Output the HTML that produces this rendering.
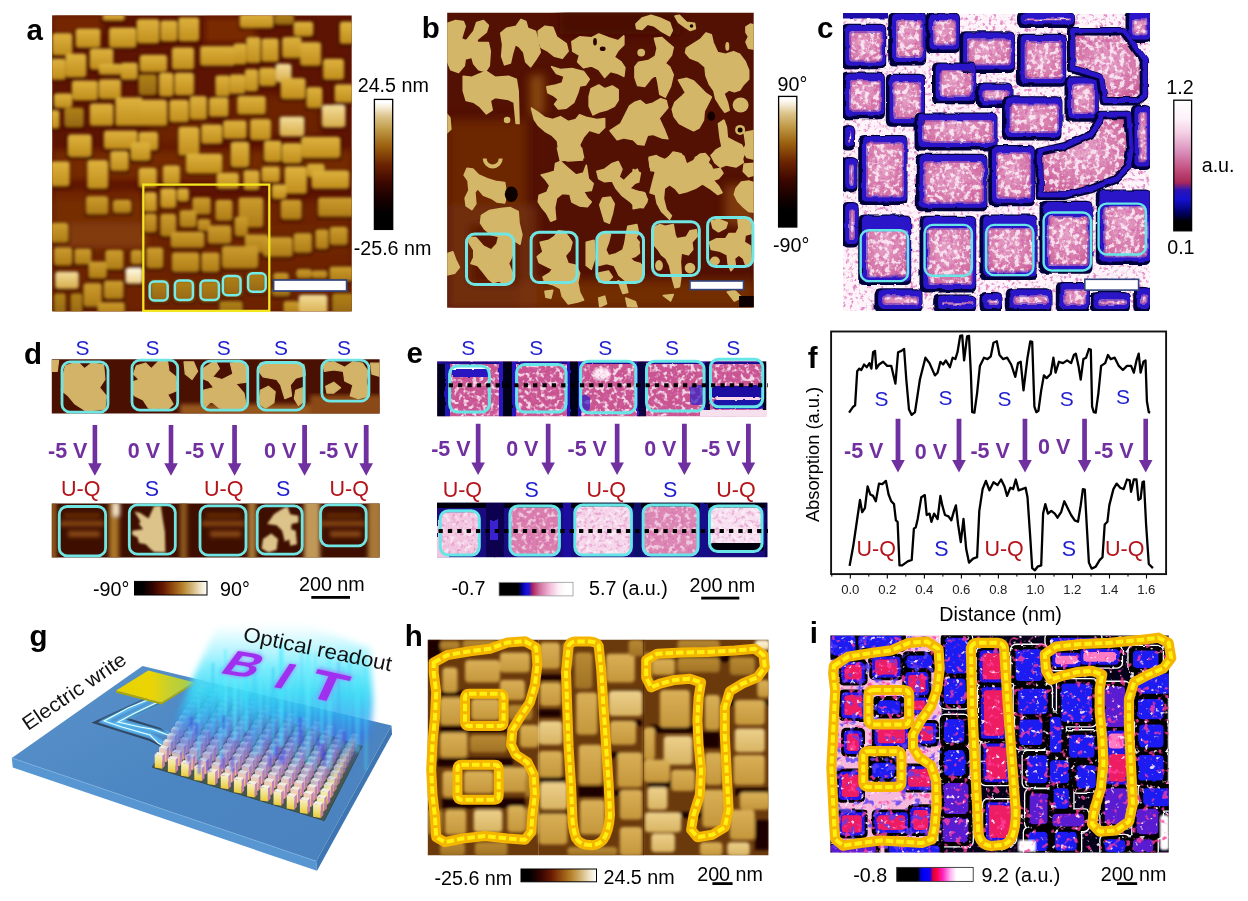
<!DOCTYPE html>
<html><head><meta charset="utf-8"><title>Figure</title>
<style>
html,body{margin:0;padding:0;background:#fff;}
body{width:1248px;height:901px;overflow:hidden;font-family:"Liberation Sans",sans-serif;}
svg{display:block;position:absolute;left:0;top:0;}
text{font-family:"Liberation Sans",sans-serif;}
</style></head><body>
<svg width="1248" height="901" viewBox="0 0 1248 901">
<!-- defs -->
<defs>
<linearGradient id="cbAfmV" x1="0" y1="1" x2="0" y2="0">
<stop offset="0" stop-color="#000"/><stop offset="0.12" stop-color="#000"/><stop offset="0.22" stop-color="#140100"/>
<stop offset="0.36" stop-color="#3c0700"/><stop offset="0.5" stop-color="#6c2402"/>
<stop offset="0.64" stop-color="#9a600e"/><stop offset="0.77" stop-color="#c09a48"/>
<stop offset="0.87" stop-color="#dcc48c"/><stop offset="0.94" stop-color="#f6eeda"/><stop offset="0.98" stop-color="#fff"/><stop offset="1" stop-color="#fff"/>
</linearGradient>
<linearGradient id="cbAfmH" x1="0" y1="0" x2="1" y2="0">
<stop offset="0" stop-color="#000"/><stop offset="0.11" stop-color="#000"/>
<stop offset="0.26" stop-color="#340400"/><stop offset="0.40" stop-color="#681a02"/>
<stop offset="0.54" stop-color="#955010"/><stop offset="0.67" stop-color="#b6842e"/>
<stop offset="0.80" stop-color="#d4b87c"/><stop offset="0.91" stop-color="#f0e4c8"/><stop offset="1" stop-color="#fff"/>
</linearGradient>
<linearGradient id="cbPinkV" x1="0" y1="1" x2="0" y2="0">
<stop offset="0" stop-color="#000"/><stop offset="0.07" stop-color="#000"/>
<stop offset="0.13" stop-color="#00005a"/><stop offset="0.24" stop-color="#1410d0"/>
<stop offset="0.31" stop-color="#2a14b8"/><stop offset="0.37" stop-color="#a8285a"/>
<stop offset="0.46" stop-color="#c04a7a"/><stop offset="0.60" stop-color="#d88cba"/>
<stop offset="0.75" stop-color="#f4cfe4"/><stop offset="0.86" stop-color="#fdf2f9"/><stop offset="1" stop-color="#fff"/>
</linearGradient>
<linearGradient id="cbPinkH" x1="0" y1="0" x2="1" y2="0">
<stop offset="0" stop-color="#000"/><stop offset="0.26" stop-color="#000"/>
<stop offset="0.31" stop-color="#000090"/><stop offset="0.37" stop-color="#1410e0"/>
<stop offset="0.41" stop-color="#3014c0"/><stop offset="0.46" stop-color="#b02860"/>
<stop offset="0.55" stop-color="#d070a0"/><stop offset="0.68" stop-color="#f0b8d8"/>
<stop offset="0.80" stop-color="#fdeef6"/><stop offset="0.9" stop-color="#fff"/><stop offset="1" stop-color="#fff"/>
</linearGradient>
<linearGradient id="cbHotH" x1="0" y1="0" x2="1" y2="0">
<stop offset="0" stop-color="#000"/><stop offset="0.28" stop-color="#000"/>
<stop offset="0.31" stop-color="#0000c0"/><stop offset="0.36" stop-color="#0000ff"/><stop offset="0.44" stop-color="#1a00f0"/>
<stop offset="0.47" stop-color="#d00040"/><stop offset="0.52" stop-color="#ff0040"/>
<stop offset="0.60" stop-color="#ff20c0"/><stop offset="0.70" stop-color="#ffb0f0"/>
<stop offset="0.78" stop-color="#fff"/><stop offset="1" stop-color="#fff"/>
</linearGradient>
<filter id="b05" x="-5%" y="-5%" width="110%" height="110%"><feGaussianBlur stdDeviation="0.5"/></filter>
<filter id="b1" x="-5%" y="-5%" width="110%" height="110%"><feGaussianBlur stdDeviation="1"/></filter>
<filter id="b12" x="-5%" y="-5%" width="110%" height="110%"><feGaussianBlur stdDeviation="1.2"/></filter>
<filter id="b15" x="-5%" y="-5%" width="110%" height="110%"><feGaussianBlur stdDeviation="1.5"/></filter>
<filter id="b2" x="-5%" y="-5%" width="110%" height="110%"><feGaussianBlur stdDeviation="2"/></filter>
<filter id="b3" x="-10%" y="-10%" width="120%" height="120%"><feGaussianBlur stdDeviation="3"/></filter>
<filter id="b5" x="-20%" y="-20%" width="140%" height="140%"><feGaussianBlur stdDeviation="5"/></filter>
<filter id="b8" x="-30%" y="-30%" width="160%" height="160%"><feGaussianBlur stdDeviation="8"/></filter>
<filter id="wob" x="-5%" y="-5%" width="110%" height="110%"><feTurbulence type="fractalNoise" baseFrequency="0.09" numOctaves="2" seed="2" result="t"/><feDisplacementMap in="SourceGraphic" in2="t" scale="3.2" xChannelSelector="R" yChannelSelector="G"/><feGaussianBlur stdDeviation="0.45"/></filter>
<filter id="wob2" x="-5%" y="-5%" width="110%" height="110%"><feTurbulence type="fractalNoise" baseFrequency="0.12" numOctaves="2" seed="8" result="t"/><feDisplacementMap in="SourceGraphic" in2="t" scale="2.4" xChannelSelector="R" yChannelSelector="G"/><feGaussianBlur stdDeviation="0.4"/></filter>
</defs>
<!-- pa -->
<defs><clipPath id="clipA"><rect x="52.2" y="15.6" width="299.5" height="295.6"/></clipPath>
<linearGradient id="sqAn" x1="0" y1="0" x2="0" y2="1"><stop offset="0" stop-color="#deb23e"/><stop offset="1" stop-color="#c08e1c"/></linearGradient>
<linearGradient id="sqAb" x1="0" y1="0" x2="0" y2="1"><stop offset="0" stop-color="#f2dc9a"/><stop offset="1" stop-color="#d8ae4c"/></linearGradient>
<linearGradient id="sqAd" x1="0" y1="0" x2="0" y2="1"><stop offset="0" stop-color="#b08218"/><stop offset="1" stop-color="#966710"/></linearGradient>
<linearGradient id="sqAw" x1="0" y1="0" x2="0" y2="1"><stop offset="0" stop-color="#fffbe8"/><stop offset="1" stop-color="#ecd08a"/></linearGradient>
<linearGradient id="sqAm" x1="0" y1="0" x2="0" y2="1"><stop offset="0" stop-color="#cc9c2e"/><stop offset="1" stop-color="#ae7c16"/></linearGradient>
</defs>
<g clip-path="url(#clipA)">
<rect x="50.2" y="13.6" width="303.5" height="299.6" fill="#5e1402"/>
<g filter="url(#b3)">
<rect x="52" y="222" width="95" height="26" fill="#8a460c"/>
<rect x="52" y="150" width="300" height="30" fill="#7a3006" opacity="0.8"/>
<rect x="205" y="18" width="50" height="24" fill="#7a2c04"/>
<rect x="52" y="15" width="50" height="20" fill="#742804"/>
<rect x="230" y="95" width="90" height="40" fill="#702604" opacity="0.8"/>
<rect x="150" y="105" width="60" height="40" fill="#702604" opacity="0.8"/>
<rect x="52" y="190" width="90" height="30" fill="#742a05" opacity="0.9"/>
<rect x="52" y="200" width="300" height="112" fill="#7a3208" opacity="0.55"/>
<rect x="270" y="225" width="80" height="30" fill="#702604" opacity="0.8"/>
</g>
<g filter="url(#b15)">
<rect x="50.8" y="32.3" width="22.7" height="25.3" rx="3" fill="#2a0300" opacity="0.6"/>
<rect x="74.4" y="27.7" width="27.4" height="22.2" rx="3" fill="#2a0300" opacity="0.6"/>
<rect x="107.7" y="26.7" width="29.9" height="23.2" rx="3" fill="#2a0300" opacity="0.6"/>
<rect x="135.4" y="18.2" width="25.3" height="27.3" rx="3" fill="#2a0300" opacity="0.6"/>
<rect x="159.0" y="19.5" width="19.7" height="24.0" rx="3" fill="#2a0300" opacity="0.6"/>
<rect x="177.0" y="16.4" width="23.5" height="27.1" rx="3" fill="#2a0300" opacity="0.6"/>
<rect x="101.3" y="13.1" width="24.8" height="9.9" rx="3" fill="#2a0300" opacity="0.6"/>
<rect x="238.5" y="13.1" width="36.3" height="17.1" rx="3" fill="#2a0300" opacity="0.6"/>
<rect x="273.1" y="13.1" width="22.2" height="13.8" rx="3" fill="#2a0300" opacity="0.6"/>
<rect x="292.3" y="20.8" width="22.2" height="17.6" rx="3" fill="#2a0300" opacity="0.6"/>
<rect x="338.5" y="20.8" width="17.1" height="25.3" rx="3" fill="#2a0300" opacity="0.6"/>
<rect x="64.1" y="52.8" width="23.5" height="26.6" rx="3" fill="#2a0300" opacity="0.6"/>
<rect x="88.5" y="47.7" width="26.1" height="24.0" rx="3" fill="#2a0300" opacity="0.6"/>
<rect x="97.5" y="63.1" width="26.1" height="13.8" rx="3" fill="#2a0300" opacity="0.6"/>
<rect x="119.3" y="61.8" width="19.7" height="20.2" rx="3" fill="#2a0300" opacity="0.6"/>
<rect x="138.5" y="54.1" width="29.9" height="20.2" rx="3" fill="#2a0300" opacity="0.6"/>
<rect x="170.6" y="46.4" width="24.8" height="25.3" rx="3" fill="#2a0300" opacity="0.6"/>
<rect x="198.8" y="45.2" width="37.6" height="22.7" rx="3" fill="#2a0300" opacity="0.6"/>
<rect x="232.1" y="42.6" width="15.8" height="24.0" rx="3" fill="#2a0300" opacity="0.6"/>
<rect x="244.9" y="36.2" width="17.1" height="29.1" rx="3" fill="#2a0300" opacity="0.6"/>
<rect x="260.3" y="37.5" width="19.7" height="26.6" rx="3" fill="#2a0300" opacity="0.6"/>
<rect x="280.8" y="36.2" width="22.2" height="24.0" rx="3" fill="#2a0300" opacity="0.6"/>
<rect x="298.8" y="41.3" width="23.5" height="26.6" rx="3" fill="#2a0300" opacity="0.6"/>
<rect x="321.8" y="58.0" width="23.5" height="24.0" rx="3" fill="#2a0300" opacity="0.6"/>
<rect x="48.8" y="58.0" width="18.4" height="24.0" rx="3" fill="#2a0300" opacity="0.6"/>
<rect x="70.6" y="79.8" width="28.6" height="22.7" rx="3" fill="#2a0300" opacity="0.6"/>
<rect x="97.5" y="78.5" width="24.8" height="22.7" rx="3" fill="#2a0300" opacity="0.6"/>
<rect x="137.2" y="73.4" width="20.9" height="24.0" rx="3" fill="#2a0300" opacity="0.6"/>
<rect x="157.7" y="72.1" width="17.1" height="26.6" rx="3" fill="#2a0300" opacity="0.6"/>
<rect x="173.1" y="72.1" width="22.2" height="25.3" rx="3" fill="#2a0300" opacity="0.6"/>
<rect x="214.1" y="74.6" width="17.1" height="24.0" rx="3" fill="#2a0300" opacity="0.6"/>
<rect x="228.2" y="73.4" width="18.4" height="22.7" rx="3" fill="#2a0300" opacity="0.6"/>
<rect x="243.6" y="68.2" width="15.8" height="25.3" rx="3" fill="#2a0300" opacity="0.6"/>
<rect x="257.7" y="66.9" width="19.7" height="21.4" rx="3" fill="#2a0300" opacity="0.6"/>
<rect x="274.4" y="63.1" width="18.4" height="21.4" rx="3" fill="#2a0300" opacity="0.6"/>
<rect x="279.5" y="77.2" width="27.4" height="24.0" rx="3" fill="#2a0300" opacity="0.6"/>
<rect x="305.2" y="86.2" width="18.4" height="24.0" rx="3" fill="#2a0300" opacity="0.6"/>
<rect x="333.4" y="83.6" width="22.2" height="21.4" rx="3" fill="#2a0300" opacity="0.6"/>
<rect x="52.6" y="92.6" width="20.9" height="17.6" rx="3" fill="#2a0300" opacity="0.6"/>
<rect x="62.9" y="106.7" width="22.2" height="22.7" rx="3" fill="#2a0300" opacity="0.6"/>
<rect x="88.5" y="102.8" width="26.1" height="25.3" rx="3" fill="#2a0300" opacity="0.6"/>
<rect x="114.1" y="96.4" width="29.9" height="31.7" rx="3" fill="#2a0300" opacity="0.6"/>
<rect x="138.5" y="99.0" width="29.9" height="29.1" rx="3" fill="#2a0300" opacity="0.6"/>
<rect x="168.0" y="99.0" width="22.2" height="25.3" rx="3" fill="#2a0300" opacity="0.6"/>
<rect x="188.5" y="95.2" width="19.7" height="26.6" rx="3" fill="#2a0300" opacity="0.6"/>
<rect x="207.7" y="96.4" width="22.2" height="22.7" rx="3" fill="#2a0300" opacity="0.6"/>
<rect x="235.9" y="95.2" width="31.2" height="21.4" rx="3" fill="#2a0300" opacity="0.6"/>
<rect x="320.6" y="104.1" width="26.1" height="25.3" rx="3" fill="#2a0300" opacity="0.6"/>
<rect x="278.2" y="115.7" width="27.4" height="22.7" rx="3" fill="#2a0300" opacity="0.6"/>
<rect x="48.8" y="109.3" width="12.0" height="21.4" rx="3" fill="#2a0300" opacity="0.6"/>
<rect x="66.7" y="134.9" width="26.1" height="24.0" rx="3" fill="#2a0300" opacity="0.6"/>
<rect x="102.6" y="129.8" width="36.3" height="21.4" rx="3" fill="#2a0300" opacity="0.6"/>
<rect x="137.2" y="131.1" width="22.2" height="21.4" rx="3" fill="#2a0300" opacity="0.6"/>
<rect x="129.5" y="142.6" width="22.2" height="20.2" rx="3" fill="#2a0300" opacity="0.6"/>
<rect x="177.0" y="125.9" width="23.5" height="31.7" rx="3" fill="#2a0300" opacity="0.6"/>
<rect x="200.0" y="123.4" width="23.5" height="22.7" rx="3" fill="#2a0300" opacity="0.6"/>
<rect x="221.8" y="119.5" width="26.1" height="21.4" rx="3" fill="#2a0300" opacity="0.6"/>
<rect x="248.8" y="118.2" width="23.5" height="24.0" rx="3" fill="#2a0300" opacity="0.6"/>
<rect x="300.0" y="136.2" width="41.5" height="22.7" rx="3" fill="#2a0300" opacity="0.6"/>
<rect x="262.9" y="140.0" width="19.7" height="24.0" rx="3" fill="#2a0300" opacity="0.6"/>
<rect x="280.8" y="142.6" width="22.2" height="22.7" rx="3" fill="#2a0300" opacity="0.6"/>
<rect x="229.5" y="141.3" width="20.9" height="27.9" rx="3" fill="#2a0300" opacity="0.6"/>
<rect x="66.7" y="133.6" width="26.1" height="25.3" rx="3" fill="#2a0300" opacity="0.6"/>
<rect x="109.0" y="150.3" width="20.9" height="22.7" rx="3" fill="#2a0300" opacity="0.6"/>
<rect x="129.5" y="141.3" width="22.2" height="21.4" rx="3" fill="#2a0300" opacity="0.6"/>
<rect x="184.7" y="152.8" width="38.9" height="22.7" rx="3" fill="#2a0300" opacity="0.6"/>
<rect x="229.5" y="141.3" width="20.9" height="27.9" rx="3" fill="#2a0300" opacity="0.6"/>
<rect x="262.9" y="140.0" width="19.7" height="24.0" rx="3" fill="#2a0300" opacity="0.6"/>
<rect x="280.8" y="142.6" width="22.2" height="22.7" rx="3" fill="#2a0300" opacity="0.6"/>
<rect x="300.0" y="136.2" width="41.5" height="24.0" rx="3" fill="#2a0300" opacity="0.6"/>
<rect x="48.8" y="160.5" width="22.2" height="27.9" rx="3" fill="#2a0300" opacity="0.6"/>
<rect x="85.9" y="159.3" width="23.5" height="31.7" rx="3" fill="#2a0300" opacity="0.6"/>
<rect x="137.2" y="166.9" width="20.9" height="22.7" rx="3" fill="#2a0300" opacity="0.6"/>
<rect x="161.6" y="164.4" width="19.7" height="22.7" rx="3" fill="#2a0300" opacity="0.6"/>
<rect x="215.4" y="172.1" width="24.8" height="18.9" rx="3" fill="#2a0300" opacity="0.6"/>
<rect x="242.3" y="169.5" width="18.4" height="22.7" rx="3" fill="#2a0300" opacity="0.6"/>
<rect x="260.3" y="165.7" width="20.9" height="18.9" rx="3" fill="#2a0300" opacity="0.6"/>
<rect x="283.4" y="165.7" width="24.8" height="30.4" rx="3" fill="#2a0300" opacity="0.6"/>
<rect x="305.2" y="163.1" width="20.9" height="16.3" rx="3" fill="#2a0300" opacity="0.6"/>
<rect x="310.3" y="169.5" width="40.2" height="21.4" rx="3" fill="#2a0300" opacity="0.6"/>
<rect x="270.6" y="183.6" width="17.1" height="17.6" rx="3" fill="#2a0300" opacity="0.6"/>
<rect x="84.7" y="195.2" width="24.8" height="21.4" rx="3" fill="#2a0300" opacity="0.6"/>
<rect x="111.6" y="199.0" width="20.9" height="16.3" rx="3" fill="#2a0300" opacity="0.6"/>
<rect x="142.3" y="191.3" width="15.8" height="22.7" rx="3" fill="#2a0300" opacity="0.6"/>
<rect x="159.0" y="187.5" width="18.4" height="22.7" rx="3" fill="#2a0300" opacity="0.6"/>
<rect x="175.7" y="187.5" width="14.5" height="16.3" rx="3" fill="#2a0300" opacity="0.6"/>
<rect x="191.1" y="196.4" width="20.9" height="20.2" rx="3" fill="#2a0300" opacity="0.6"/>
<rect x="214.1" y="199.0" width="19.7" height="24.0" rx="3" fill="#2a0300" opacity="0.6"/>
<rect x="237.2" y="196.4" width="27.4" height="33.0" rx="3" fill="#2a0300" opacity="0.6"/>
<rect x="279.5" y="199.0" width="23.5" height="22.7" rx="3" fill="#2a0300" opacity="0.6"/>
<rect x="316.7" y="196.4" width="38.9" height="22.7" rx="3" fill="#2a0300" opacity="0.6"/>
<rect x="178.2" y="209.3" width="19.7" height="20.2" rx="3" fill="#2a0300" opacity="0.6"/>
<rect x="159.0" y="213.1" width="18.4" height="25.3" rx="3" fill="#2a0300" opacity="0.6"/>
<rect x="142.3" y="213.1" width="15.8" height="21.4" rx="3" fill="#2a0300" opacity="0.6"/>
<rect x="196.2" y="218.2" width="15.8" height="15.0" rx="3" fill="#2a0300" opacity="0.6"/>
<rect x="233.4" y="215.7" width="15.8" height="22.7" rx="3" fill="#2a0300" opacity="0.6"/>
<rect x="48.8" y="222.1" width="20.9" height="22.7" rx="3" fill="#2a0300" opacity="0.6"/>
<rect x="169.3" y="231.1" width="36.3" height="18.9" rx="3" fill="#2a0300" opacity="0.6"/>
<rect x="206.4" y="224.6" width="26.1" height="21.4" rx="3" fill="#2a0300" opacity="0.6"/>
<rect x="243.6" y="233.6" width="26.1" height="21.4" rx="3" fill="#2a0300" opacity="0.6"/>
<rect x="261.6" y="236.2" width="32.5" height="22.7" rx="3" fill="#2a0300" opacity="0.6"/>
<rect x="292.3" y="232.3" width="20.9" height="22.7" rx="3" fill="#2a0300" opacity="0.6"/>
<rect x="314.1" y="228.5" width="15.8" height="22.7" rx="3" fill="#2a0300" opacity="0.6"/>
<rect x="328.2" y="225.9" width="20.9" height="21.4" rx="3" fill="#2a0300" opacity="0.6"/>
<rect x="52.6" y="246.4" width="20.9" height="21.4" rx="3" fill="#2a0300" opacity="0.6"/>
<rect x="73.1" y="247.7" width="19.7" height="18.9" rx="3" fill="#2a0300" opacity="0.6"/>
<rect x="103.9" y="249.0" width="20.9" height="22.7" rx="3" fill="#2a0300" opacity="0.6"/>
<rect x="129.5" y="249.0" width="14.5" height="17.6" rx="3" fill="#2a0300" opacity="0.6"/>
<rect x="144.9" y="246.4" width="19.7" height="24.0" rx="3" fill="#2a0300" opacity="0.6"/>
<rect x="170.6" y="251.6" width="29.9" height="22.7" rx="3" fill="#2a0300" opacity="0.6"/>
<rect x="200.0" y="251.6" width="20.9" height="22.7" rx="3" fill="#2a0300" opacity="0.6"/>
<rect x="220.6" y="245.2" width="38.9" height="25.3" rx="3" fill="#2a0300" opacity="0.6"/>
<rect x="53.9" y="270.8" width="26.1" height="20.2" rx="3" fill="#2a0300" opacity="0.6"/>
<rect x="87.2" y="260.5" width="20.9" height="20.2" rx="3" fill="#2a0300" opacity="0.6"/>
<rect x="124.4" y="266.9" width="19.7" height="18.9" rx="3" fill="#2a0300" opacity="0.6"/>
<rect x="82.1" y="282.3" width="20.9" height="26.6" rx="3" fill="#2a0300" opacity="0.6"/>
<rect x="102.6" y="279.8" width="22.2" height="21.4" rx="3" fill="#2a0300" opacity="0.6"/>
<rect x="271.8" y="272.1" width="18.4" height="11.2" rx="3" fill="#2a0300" opacity="0.6"/>
<rect x="294.9" y="268.2" width="18.4" height="12.5" rx="3" fill="#2a0300" opacity="0.6"/>
<rect x="310.3" y="269.5" width="18.4" height="11.2" rx="3" fill="#2a0300" opacity="0.6"/>
<rect x="328.2" y="265.7" width="27.4" height="17.6" rx="3" fill="#2a0300" opacity="0.6"/>
<rect x="297.5" y="293.9" width="31.2" height="22.7" rx="3" fill="#2a0300" opacity="0.6"/>
<rect x="282.1" y="300.3" width="18.4" height="16.3" rx="3" fill="#2a0300" opacity="0.6"/>
<rect x="270.6" y="287.5" width="20.9" height="11.2" rx="3" fill="#2a0300" opacity="0.6"/>
<rect x="96.2" y="301.6" width="29.9" height="15.0" rx="3" fill="#2a0300" opacity="0.6"/>
<rect x="52.6" y="292.6" width="14.5" height="24.0" rx="3" fill="#2a0300" opacity="0.6"/>
<rect x="148.8" y="279.8" width="20.9" height="24.0" rx="3" fill="#2a0300" opacity="0.6"/>
<rect x="173.1" y="279.8" width="22.2" height="24.0" rx="3" fill="#2a0300" opacity="0.6"/>
<rect x="198.8" y="279.8" width="22.2" height="24.0" rx="3" fill="#2a0300" opacity="0.6"/>
<rect x="221.8" y="274.6" width="20.9" height="24.0" rx="3" fill="#2a0300" opacity="0.6"/>
<rect x="246.2" y="272.1" width="20.9" height="22.7" rx="3" fill="#2a0300" opacity="0.6"/>
<rect x="218.0" y="300.3" width="26.1" height="16.3" rx="3" fill="#2a0300" opacity="0.6"/>
<rect x="330.8" y="292.6" width="24.8" height="24.0" rx="3" fill="#2a0300" opacity="0.6"/>
<rect x="69.3" y="292.6" width="14.5" height="24.0" rx="3" fill="#2a0300" opacity="0.6"/>
<rect x="52.3" y="33.3" width="19.7" height="21.8" rx="3.2" fill="url(#sqAn)"/>
<rect x="75.9" y="28.7" width="24.4" height="18.7" rx="3.2" fill="url(#sqAn)"/>
<rect x="109.2" y="27.7" width="26.9" height="19.7" rx="3.2" fill="url(#sqAn)"/>
<rect x="136.9" y="19.2" width="22.3" height="23.8" rx="3.2" fill="url(#sqAn)"/>
<rect x="160.5" y="20.5" width="16.7" height="20.5" rx="3.2" fill="url(#sqAn)"/>
<rect x="178.5" y="17.4" width="20.5" height="23.6" rx="3.2" fill="url(#sqAn)"/>
<rect x="102.8" y="14.1" width="21.8" height="6.4" rx="3.2" fill="url(#sqAn)"/>
<rect x="240.0" y="14.1" width="33.3" height="13.6" rx="3.2" fill="url(#sqAn)"/>
<rect x="274.6" y="14.1" width="19.2" height="10.3" rx="3.2" fill="url(#sqAd)"/>
<rect x="293.8" y="21.8" width="19.2" height="14.1" rx="3.2" fill="url(#sqAn)"/>
<rect x="340.0" y="21.8" width="14.1" height="21.8" rx="3.2" fill="url(#sqAn)"/>
<rect x="65.6" y="53.8" width="20.5" height="23.1" rx="3.2" fill="url(#sqAn)"/>
<rect x="90.0" y="48.7" width="23.1" height="20.5" rx="3.2" fill="url(#sqAn)"/>
<rect x="99.0" y="64.1" width="23.1" height="10.3" rx="3.2" fill="url(#sqAn)"/>
<rect x="120.8" y="62.8" width="16.7" height="16.7" rx="3.2" fill="url(#sqAn)"/>
<rect x="140.0" y="55.1" width="26.9" height="16.7" rx="3.2" fill="url(#sqAn)"/>
<rect x="172.1" y="47.4" width="21.8" height="21.8" rx="3.2" fill="url(#sqAn)"/>
<rect x="200.3" y="46.2" width="34.6" height="19.2" rx="3.2" fill="url(#sqAn)"/>
<rect x="233.6" y="43.6" width="12.8" height="20.5" rx="3.2" fill="url(#sqAn)"/>
<rect x="246.4" y="37.2" width="14.1" height="25.6" rx="3.2" fill="url(#sqAn)"/>
<rect x="261.8" y="38.5" width="16.7" height="23.1" rx="3.2" fill="url(#sqAn)"/>
<rect x="282.3" y="37.2" width="19.2" height="20.5" rx="3.2" fill="url(#sqAn)"/>
<rect x="300.3" y="42.3" width="20.5" height="23.1" rx="3.2" fill="url(#sqAn)"/>
<rect x="323.3" y="59.0" width="20.5" height="20.5" rx="3.2" fill="url(#sqAn)"/>
<rect x="50.3" y="59.0" width="15.4" height="20.5" rx="3.2" fill="url(#sqAn)"/>
<rect x="72.1" y="80.8" width="25.6" height="19.2" rx="3.2" fill="url(#sqAn)"/>
<rect x="99.0" y="79.5" width="21.8" height="19.2" rx="3.2" fill="url(#sqAn)"/>
<rect x="138.7" y="74.4" width="17.9" height="20.5" rx="3.2" fill="url(#sqAd)"/>
<rect x="159.2" y="73.1" width="14.1" height="23.1" rx="3.2" fill="url(#sqAn)"/>
<rect x="174.6" y="73.1" width="19.2" height="21.8" rx="3.2" fill="url(#sqAn)"/>
<rect x="215.6" y="75.6" width="14.1" height="20.5" rx="3.2" fill="url(#sqAn)"/>
<rect x="229.7" y="74.4" width="15.4" height="19.2" rx="3.2" fill="url(#sqAn)"/>
<rect x="245.1" y="69.2" width="12.8" height="21.8" rx="3.2" fill="url(#sqAn)"/>
<rect x="259.2" y="67.9" width="16.7" height="17.9" rx="3.2" fill="url(#sqAn)"/>
<rect x="275.9" y="64.1" width="15.4" height="17.9" rx="3.2" fill="url(#sqAb)"/>
<rect x="281.0" y="78.2" width="24.4" height="20.5" rx="3.2" fill="url(#sqAn)"/>
<rect x="306.7" y="87.2" width="15.4" height="20.5" rx="3.2" fill="url(#sqAn)"/>
<rect x="334.9" y="84.6" width="19.2" height="17.9" rx="3.2" fill="url(#sqAn)"/>
<rect x="54.1" y="93.6" width="17.9" height="14.1" rx="3.2" fill="url(#sqAn)"/>
<rect x="64.4" y="107.7" width="19.2" height="19.2" rx="3.2" fill="url(#sqAd)"/>
<rect x="90.0" y="103.8" width="23.1" height="21.8" rx="3.2" fill="url(#sqAn)"/>
<rect x="115.6" y="97.4" width="26.9" height="28.2" rx="3.2" fill="url(#sqAn)"/>
<rect x="140.0" y="100.0" width="26.9" height="25.6" rx="3.2" fill="url(#sqAn)"/>
<rect x="169.5" y="100.0" width="19.2" height="21.8" rx="3.2" fill="url(#sqAn)"/>
<rect x="190.0" y="96.2" width="16.7" height="23.1" rx="3.2" fill="url(#sqAn)"/>
<rect x="209.2" y="97.4" width="19.2" height="19.2" rx="3.2" fill="url(#sqAn)"/>
<rect x="237.4" y="96.2" width="28.2" height="17.9" rx="3.2" fill="url(#sqAn)"/>
<rect x="322.1" y="105.1" width="23.1" height="21.8" rx="3.2" fill="url(#sqAb)"/>
<rect x="279.7" y="116.7" width="24.4" height="19.2" rx="3.2" fill="url(#sqAb)"/>
<rect x="50.3" y="110.3" width="9.0" height="17.9" rx="3.2" fill="url(#sqAn)"/>
<rect x="68.2" y="135.9" width="23.1" height="20.5" rx="3.2" fill="url(#sqAn)"/>
<rect x="104.1" y="130.8" width="33.3" height="17.9" rx="3.2" fill="url(#sqAn)"/>
<rect x="138.7" y="132.1" width="19.2" height="17.9" rx="3.2" fill="url(#sqAn)"/>
<rect x="131.0" y="143.6" width="19.2" height="16.7" rx="3.2" fill="url(#sqAn)"/>
<rect x="178.5" y="126.9" width="20.5" height="28.2" rx="3.2" fill="url(#sqAn)"/>
<rect x="201.5" y="124.4" width="20.5" height="19.2" rx="3.2" fill="url(#sqAn)"/>
<rect x="223.3" y="120.5" width="23.1" height="17.9" rx="3.2" fill="url(#sqAn)"/>
<rect x="250.3" y="119.2" width="20.5" height="20.5" rx="3.2" fill="url(#sqAn)"/>
<rect x="301.5" y="137.2" width="38.5" height="19.2" rx="3.2" fill="url(#sqAn)"/>
<rect x="264.4" y="141.0" width="16.7" height="20.5" rx="3.2" fill="url(#sqAn)"/>
<rect x="282.3" y="143.6" width="19.2" height="19.2" rx="3.2" fill="url(#sqAn)"/>
<rect x="231.0" y="142.3" width="17.9" height="24.4" rx="3.2" fill="url(#sqAn)"/>
<rect x="68.2" y="134.6" width="23.1" height="21.8" rx="3.2" fill="url(#sqAn)"/>
<rect x="110.5" y="151.3" width="17.9" height="19.2" rx="3.2" fill="url(#sqAn)"/>
<rect x="131.0" y="142.3" width="19.2" height="17.9" rx="3.2" fill="url(#sqAn)"/>
<rect x="186.2" y="153.8" width="35.9" height="19.2" rx="3.2" fill="url(#sqAn)"/>
<rect x="231.0" y="142.3" width="17.9" height="24.4" rx="3.2" fill="url(#sqAn)"/>
<rect x="264.4" y="141.0" width="16.7" height="20.5" rx="3.2" fill="url(#sqAn)"/>
<rect x="282.3" y="143.6" width="19.2" height="19.2" rx="3.2" fill="url(#sqAn)"/>
<rect x="301.5" y="137.2" width="38.5" height="20.5" rx="3.2" fill="url(#sqAn)"/>
<rect x="50.3" y="161.5" width="19.2" height="24.4" rx="3.2" fill="url(#sqAn)"/>
<rect x="87.4" y="160.3" width="20.5" height="28.2" rx="3.2" fill="url(#sqAn)"/>
<rect x="138.7" y="167.9" width="17.9" height="19.2" rx="3.2" fill="url(#sqAn)"/>
<rect x="163.1" y="165.4" width="16.7" height="19.2" rx="3.2" fill="url(#sqAn)"/>
<rect x="216.9" y="173.1" width="21.8" height="15.4" rx="3.2" fill="url(#sqAn)"/>
<rect x="243.8" y="170.5" width="15.4" height="19.2" rx="3.2" fill="url(#sqAn)"/>
<rect x="261.8" y="166.7" width="17.9" height="15.4" rx="3.2" fill="url(#sqAn)"/>
<rect x="284.9" y="166.7" width="21.8" height="26.9" rx="3.2" fill="url(#sqAn)"/>
<rect x="306.7" y="164.1" width="17.9" height="12.8" rx="3.2" fill="url(#sqAn)"/>
<rect x="311.8" y="170.5" width="37.2" height="17.9" rx="3.2" fill="url(#sqAn)"/>
<rect x="272.1" y="184.6" width="14.1" height="14.1" rx="3.2" fill="url(#sqAn)"/>
<rect x="86.2" y="196.2" width="21.8" height="17.9" rx="3.2" fill="url(#sqAm)"/>
<rect x="113.1" y="200.0" width="17.9" height="12.8" rx="3.2" fill="url(#sqAm)"/>
<rect x="143.8" y="192.3" width="12.8" height="19.2" rx="3.2" fill="url(#sqAn)"/>
<rect x="160.5" y="188.5" width="15.4" height="19.2" rx="3.2" fill="url(#sqAn)"/>
<rect x="177.2" y="188.5" width="11.5" height="12.8" rx="3.2" fill="url(#sqAn)"/>
<rect x="192.6" y="197.4" width="17.9" height="16.7" rx="3.2" fill="url(#sqAm)"/>
<rect x="215.6" y="200.0" width="16.7" height="20.5" rx="3.2" fill="url(#sqAm)"/>
<rect x="238.7" y="197.4" width="24.4" height="29.5" rx="3.2" fill="url(#sqAm)"/>
<rect x="281.0" y="200.0" width="20.5" height="19.2" rx="3.2" fill="url(#sqAm)"/>
<rect x="318.2" y="197.4" width="35.9" height="19.2" rx="3.2" fill="url(#sqAm)"/>
<rect x="179.7" y="210.3" width="16.7" height="16.7" rx="3.2" fill="url(#sqAm)"/>
<rect x="160.5" y="214.1" width="15.4" height="21.8" rx="3.2" fill="url(#sqAm)"/>
<rect x="143.8" y="214.1" width="12.8" height="17.9" rx="3.2" fill="url(#sqAm)"/>
<rect x="197.7" y="219.2" width="12.8" height="11.5" rx="3.2" fill="url(#sqAm)"/>
<rect x="234.9" y="216.7" width="12.8" height="19.2" rx="3.2" fill="url(#sqAm)"/>
<rect x="50.3" y="223.1" width="17.9" height="19.2" rx="3.2" fill="url(#sqAm)"/>
<rect x="170.8" y="232.1" width="33.3" height="15.4" rx="3.2" fill="url(#sqAm)"/>
<rect x="207.9" y="225.6" width="23.1" height="17.9" rx="3.2" fill="url(#sqAm)"/>
<rect x="245.1" y="234.6" width="23.1" height="17.9" rx="3.2" fill="url(#sqAm)"/>
<rect x="263.1" y="237.2" width="29.5" height="19.2" rx="3.2" fill="url(#sqAm)"/>
<rect x="293.8" y="233.3" width="17.9" height="19.2" rx="3.2" fill="url(#sqAm)"/>
<rect x="315.6" y="229.5" width="12.8" height="19.2" rx="3.2" fill="url(#sqAm)"/>
<rect x="329.7" y="226.9" width="17.9" height="17.9" rx="3.2" fill="url(#sqAm)"/>
<rect x="54.1" y="247.4" width="17.9" height="17.9" rx="3.2" fill="url(#sqAm)"/>
<rect x="74.6" y="248.7" width="16.7" height="15.4" rx="3.2" fill="url(#sqAm)"/>
<rect x="105.4" y="250.0" width="17.9" height="19.2" rx="3.2" fill="url(#sqAm)"/>
<rect x="131.0" y="250.0" width="11.5" height="14.1" rx="3.2" fill="url(#sqAm)"/>
<rect x="146.4" y="247.4" width="16.7" height="20.5" rx="3.2" fill="url(#sqAm)"/>
<rect x="172.1" y="252.6" width="26.9" height="19.2" rx="3.2" fill="url(#sqAm)"/>
<rect x="201.5" y="252.6" width="17.9" height="19.2" rx="3.2" fill="url(#sqAm)"/>
<rect x="222.1" y="246.2" width="35.9" height="21.8" rx="3.2" fill="url(#sqAm)"/>
<rect x="55.4" y="271.8" width="23.1" height="16.7" rx="3.2" fill="url(#sqAb)"/>
<rect x="88.7" y="261.5" width="17.9" height="16.7" rx="3.2" fill="url(#sqAm)"/>
<rect x="125.9" y="267.9" width="16.7" height="15.4" rx="3.2" fill="url(#sqAw)"/>
<rect x="83.6" y="283.3" width="17.9" height="23.1" rx="3.2" fill="url(#sqAm)"/>
<rect x="104.1" y="280.8" width="19.2" height="17.9" rx="3.2" fill="url(#sqAm)"/>
<rect x="273.3" y="273.1" width="15.4" height="7.7" rx="3.2" fill="url(#sqAm)"/>
<rect x="296.4" y="269.2" width="15.4" height="9.0" rx="3.2" fill="url(#sqAm)"/>
<rect x="311.8" y="270.5" width="15.4" height="7.7" rx="3.2" fill="url(#sqAm)"/>
<rect x="329.7" y="266.7" width="24.4" height="14.1" rx="3.2" fill="url(#sqAm)"/>
<rect x="299.0" y="294.9" width="28.2" height="19.2" rx="3.2" fill="url(#sqAb)"/>
<rect x="283.6" y="301.3" width="15.4" height="12.8" rx="3.2" fill="url(#sqAm)"/>
<rect x="272.1" y="288.5" width="17.9" height="7.7" rx="3.2" fill="url(#sqAd)"/>
<rect x="97.7" y="302.6" width="26.9" height="11.5" rx="3.2" fill="url(#sqAm)"/>
<rect x="54.1" y="293.6" width="11.5" height="20.5" rx="3.2" fill="url(#sqAd)"/>
<rect x="150.3" y="280.8" width="17.9" height="20.5" rx="3.2" fill="url(#sqAd)"/>
<rect x="174.6" y="280.8" width="19.2" height="20.5" rx="3.2" fill="url(#sqAd)"/>
<rect x="200.3" y="280.8" width="19.2" height="20.5" rx="3.2" fill="url(#sqAd)"/>
<rect x="223.3" y="275.6" width="17.9" height="20.5" rx="3.2" fill="url(#sqAd)"/>
<rect x="247.7" y="273.1" width="17.9" height="19.2" rx="3.2" fill="url(#sqAd)"/>
<rect x="219.5" y="301.3" width="23.1" height="12.8" rx="3.2" fill="url(#sqAd)"/>
<rect x="332.3" y="293.6" width="21.8" height="20.5" rx="3.2" fill="url(#sqAd)"/>
<rect x="70.8" y="293.6" width="11.5" height="20.5" rx="3.2" fill="url(#sqAd)"/>
</g>
</g>
<rect x="143.3" y="184.6" width="126" height="126.3" fill="none" stroke="#f2e61e" stroke-width="2.3"/>
<rect x="149.7" y="281.6" width="18.0" height="18.8" rx="4.5" fill="none" stroke="#74ecea" stroke-width="2.5"/>
<rect x="174.9" y="280.6" width="18.0" height="19.3" rx="4.5" fill="none" stroke="#74ecea" stroke-width="2.5"/>
<rect x="200.5" y="280.6" width="18.4" height="19.3" rx="4.5" fill="none" stroke="#74ecea" stroke-width="2.5"/>
<rect x="222.9" y="275.9" width="17.6" height="19.4" rx="4.5" fill="none" stroke="#74ecea" stroke-width="2.5"/>
<rect x="248.1" y="273.3" width="17.6" height="18.4" rx="4.5" fill="none" stroke="#74ecea" stroke-width="2.5"/>
<rect x="273.6" y="280" width="73" height="11" fill="#fff" stroke="#33457e" stroke-width="1.7"/>
<!-- pb -->
<defs><clipPath id="clipB"><rect x="447.2" y="12.8" width="306.5" height="294.6"/></clipPath></defs>
<g clip-path="url(#clipB)">
<rect x="445.2" y="10.8" width="310.5" height="298.6" fill="#521103"/>
<g filter="url(#b5)">
<rect x="447" y="120" width="80" height="190" fill="#6c2806"/>
<rect x="447" y="205" width="90" height="105" fill="#74320a" opacity="0.7"/>
<rect x="470" y="225" width="50" height="60" fill="#5a1803"/>
<rect x="520" y="280" width="235" height="30" fill="#7a3208" opacity="0.8"/>
<rect x="725" y="185" width="30" height="40" fill="#8a4510" opacity="0.8"/>
<rect x="560" y="12" width="120" height="22" fill="#4a0e02"/>
<rect x="530" y="75" width="14" height="40" fill="#8a4a10"/>
</g>
<g filter="url(#b05)">
<polygon points="446.9,23.5 455.6,20.6 463.3,21.5 465.2,26.3 461.3,38.8 466.2,40.8 473.8,31.2 476.7,22.5 483.5,20.6 488.3,25.4 486.3,32.1 476.7,39.8 477.7,42.7 488.3,42.7 490.2,51.3 489.2,65.8 485.4,71.5 478.7,69.6 473.8,63.8 471.9,57.1 465.2,59.0 464.2,65.8 458.5,72.5 450.8,69.6 446.9,60.0" fill="#d4b668" stroke="#d4b668" stroke-width="1.7" stroke-linejoin="round"/>
<polygon points="463.3,76.3 471.9,77.3 480.6,73.5 486.3,71.5 495.0,77.3 508.5,76.3 516.2,79.2 518.1,90.8 519.0,123.5 516.2,123.5 514.2,102.3 508.5,99.4 495.0,97.5 490.2,100.4 492.1,110.0 486.3,113.8 479.6,106.2 473.8,102.3 466.2,100.4 463.3,90.8" fill="#d4b668" stroke="#d4b668" stroke-width="1.7" stroke-linejoin="round"/>
<polygon points="500.8,33.1 506.5,28.3 516.2,26.3 521.0,19.6 525.8,21.5 527.7,28.3 535.4,31.2 537.3,38.8 540.2,52.3 535.4,60.0 530.6,66.7 525.8,61.9 523.8,52.3 519.0,46.5 515.2,44.6 512.3,54.2 510.4,62.9 504.6,64.8 501.7,56.2 502.7,44.6" fill="#d4b668" stroke="#d4b668" stroke-width="1.7" stroke-linejoin="round"/>
<polygon points="538.3,31.2 545.0,26.3 552.7,27.3 556.5,36.9 566.2,43.7 568.1,51.3 562.3,58.1 554.6,56.2 546.9,50.4 541.2,47.5 538.3,38.8" fill="#d4b668" stroke="#d4b668" stroke-width="1.7" stroke-linejoin="round"/>
<polygon points="571.9,41.7 579.6,36.9 591.2,37.9 598.8,34.0 608.5,37.9 618.1,40.8 623.8,36.0 623.8,44.6 618.1,50.4 614.2,57.1 621.0,61.9 624.8,67.7 623.8,76.3 618.1,73.5 610.4,71.5 604.6,77.3 598.8,69.6 591.2,65.8 583.5,67.7 577.7,61.9 579.6,55.2 572.9,51.3" fill="#d4b668" stroke="#d4b668" stroke-width="1.7" stroke-linejoin="round"/>
<polygon points="551.7,66.7 560.4,69.6 571.9,68.7 583.5,71.5 589.2,79.2 585.4,85.0 579.6,86.0 577.7,92.7 573.8,102.3 566.2,108.1 558.5,109.0 554.6,104.2 558.5,99.4 553.7,95.6 547.9,92.7 546.9,86.9 555.6,85.0 562.3,83.1 564.2,76.3 556.5,73.5" fill="#d4b668" stroke="#d4b668" stroke-width="1.7" stroke-linejoin="round"/>
<polygon points="591.2,88.8 598.8,85.0 604.6,88.8 612.3,86.0 618.1,89.8 618.1,100.4 614.2,106.2 606.5,110.0 598.8,111.9 593.1,114.8 589.2,106.2 589.2,96.5" fill="#d4b668" stroke="#d4b668" stroke-width="1.7" stroke-linejoin="round"/>
<polygon points="531.5,108.1 537.3,111.9 545.0,117.7 552.7,119.6 560.4,116.7 568.1,121.5 575.8,119.6 579.6,114.8 587.3,117.7 596.9,119.6 604.6,118.7 604.6,127.3 598.8,133.1 589.2,130.2 583.5,136.9 579.6,144.6 581.5,152.3 582.5,160.0 568.1,161.0 560.4,159.0 558.5,148.5 557.5,140.8 551.7,135.0 545.0,131.2 538.3,125.4 534.4,119.6" fill="#d4b668" stroke="#d4b668" stroke-width="1.7" stroke-linejoin="round"/>
<polygon points="446.5,113.8 449.8,117.7 450.8,129.2 446.5,133.1" fill="#d4b668" stroke="#d4b668" stroke-width="1.7" stroke-linejoin="round"/>
<polygon points="635.9,24.2 642.1,18.0 651.0,15.3 659.9,18.0 669.6,22.4 672.3,30.4 669.6,35.7 661.6,31.3 654.5,26.0 647.4,24.2 642.1,29.5 636.8,28.6" fill="#d4b668" stroke="#d4b668" stroke-width="1.7" stroke-linejoin="round"/>
<polygon points="675.0,16.2 679.4,15.3 686.5,22.4 694.5,23.3 695.4,28.6 690.0,30.4 684.7,26.9 678.5,22.4" fill="#d4b668" stroke="#d4b668" stroke-width="1.7" stroke-linejoin="round"/>
<polygon points="654.5,38.4 661.6,37.5 667.8,42.8 673.2,47.3 671.4,55.3 665.2,63.3 669.6,66.8 673.2,74.8 670.5,86.3 665.2,97.0 659.9,94.3 658.1,82.8 656.3,74.8 651.0,78.4 644.8,86.3 637.7,85.5 635.0,77.5 635.0,66.8 638.6,62.4 648.3,60.6 655.4,56.2 657.2,48.2" fill="#d4b668" stroke="#d4b668" stroke-width="1.7" stroke-linejoin="round"/>
<polygon points="686.5,48.2 693.6,43.7 700.7,39.3 706.0,33.1 711.3,34.9 713.1,42.8 717.6,52.6 725.6,54.4 733.5,51.7 739.8,54.4 745.1,61.5 748.6,70.4 748.6,79.2 743.3,84.6 739.8,89.9 734.4,91.7 729.1,89.9 723.8,93.5 727.3,102.3 729.1,110.3 724.7,112.1 720.2,105.9 715.8,98.8 714.0,90.8 709.6,84.6 706.0,75.7 705.1,66.8 698.9,61.5 690.0,57.9 685.6,52.6" fill="#d4b668" stroke="#d4b668" stroke-width="1.7" stroke-linejoin="round"/>
<polygon points="746.0,26.9 750.4,24.2 754.3,25.1 754.3,49.1 748.6,48.2 746.0,42.0 748.6,36.6 746.0,32.2" fill="#d4b668" stroke="#d4b668" stroke-width="1.7" stroke-linejoin="round"/>
<polygon points="678.5,80.1 686.5,78.4 693.6,81.0 700.7,88.1 706.0,93.5 711.3,97.0 707.8,104.1 704.2,111.2 703.4,120.1 698.9,128.1 693.6,130.7 686.5,127.2 679.4,123.6 674.1,116.5 672.3,109.4 675.0,102.3 681.2,97.0 685.6,92.6 682.1,86.3" fill="#d4b668" stroke="#d4b668" stroke-width="1.7" stroke-linejoin="round"/>
<polygon points="629.7,105.9 635.0,102.3 640.3,100.6 645.7,105.0 652.8,103.2 660.7,98.8 666.1,100.6 667.8,107.7 662.5,113.9 659.0,118.3 664.3,129.9 667.8,138.7 661.6,137.8 652.8,134.3 647.4,135.2 643.9,144.9 637.7,144.1 633.2,139.6 624.3,137.8 617.2,139.6 610.1,130.7 620.8,123.6" fill="#d4b668" stroke="#d4b668" stroke-width="1.7" stroke-linejoin="round"/>
<polygon points="718.5,123.6 723.8,120.1 726.4,127.2 727.3,137.8 734.4,141.4 741.5,144.9 745.1,152.0 741.5,160.9 734.4,166.2 727.3,164.5 720.2,167.1 714.9,162.7 711.3,155.6 715.8,150.3 722.0,146.7 720.2,137.8" fill="#d4b668" stroke="#d4b668" stroke-width="1.7" stroke-linejoin="round"/>
<polygon points="744.2,132.5 754.3,130.7 754.3,159.1 746.9,157.4 743.3,150.3 746.0,144.9" fill="#d4b668" stroke="#d4b668" stroke-width="1.7" stroke-linejoin="round"/>
<polygon points="649.2,157.4 656.3,155.6 663.4,160.9 668.7,157.4 673.2,152.0 681.2,153.8 684.7,160.9 682.9,170.7 651.0,170.7" fill="#d4b668" stroke="#d4b668" stroke-width="1.7" stroke-linejoin="round"/>
<polygon points="695.4,157.4 702.5,153.8 706.0,160.9 711.3,166.2 713.1,170.7 693.6,170.7" fill="#d4b668" stroke="#d4b668" stroke-width="1.7" stroke-linejoin="round"/>
<polygon points="467.1,168.3 472.9,169.2 478.7,175.0 487.3,178.8 496.9,181.7 504.6,182.7 506.5,194.2 504.6,202.9 496.9,201.9 491.2,198.1 483.5,195.2 477.7,188.5 474.8,192.3 475.8,203.8 471.9,209.6 466.2,205.8 465.2,198.1 469.0,190.4 468.1,180.8 464.2,175.0" fill="#d4b668" stroke="#d4b668" stroke-width="1.7" stroke-linejoin="round"/>
<polygon points="481.5,215.4 489.2,210.6 500.8,208.7 510.4,207.7 518.1,211.5 519.0,223.1 521.9,234.6 520.0,244.2 514.2,240.4 513.3,251.9 511.3,257.7 508.5,263.5 512.3,273.1 511.3,282.7 504.6,283.7 498.8,280.8 493.1,282.7 488.3,278.8 482.5,271.2 477.7,265.4 471.0,263.5 473.8,257.7 473.8,250.0 469.0,242.3 469.0,237.5 475.8,237.5 483.5,246.2 491.2,250.0 496.9,244.2 498.8,236.5 491.2,234.6 484.4,228.8 480.6,223.1" fill="#d4b668" stroke="#d4b668" stroke-width="1.7" stroke-linejoin="round"/>
<polygon points="446.9,253.8 452.7,251.9 455.6,259.6 459.4,267.3 454.6,273.1 446.9,275.0" fill="#d4b668" stroke="#d4b668" stroke-width="1.7" stroke-linejoin="round"/>
<polygon points="555.6,163.5 560.4,161.5 568.1,168.3 575.8,175.0 583.5,173.1 586.3,165.4 588.3,178.8 593.1,183.7 591.2,190.4 583.5,191.3 587.3,198.1 591.2,201.9 587.3,206.7 579.6,205.8 571.9,201.9 570.0,194.2 562.3,193.3 556.5,198.1 554.6,207.7 555.6,219.2 550.8,221.2 546.9,213.5 542.1,207.7 538.3,201.9 539.2,195.2 546.9,192.3 549.8,185.6 545.0,178.8 541.2,175.0 548.8,173.1 554.6,171.2" fill="#d4b668" stroke="#d4b668" stroke-width="1.7" stroke-linejoin="round"/>
<polygon points="557.5,148.1 581.5,148.1 583.5,157.7 560.4,160.6" fill="#d4b668" stroke="#d4b668" stroke-width="1.7" stroke-linejoin="round"/>
<polygon points="540.2,242.3 548.8,240.4 554.6,236.5 558.5,230.8 564.2,231.7 568.1,236.5 571.9,242.3 570.0,250.0 565.2,255.8 568.1,263.5 575.8,265.4 579.6,273.1 577.7,282.7 579.6,292.3 583.5,300.0 577.7,301.9 568.1,303.8 562.3,296.2 560.4,288.5 552.7,284.6 545.0,282.7 543.1,276.9 549.8,273.1 552.7,269.2 545.0,265.4 539.2,262.5 537.3,256.7 543.1,251.9" fill="#d4b668" stroke="#d4b668" stroke-width="1.7" stroke-linejoin="round"/>
<polygon points="545.0,291.3 552.7,290.4 550.8,298.1 546.0,297.1" fill="#d4b668" stroke="#d4b668" stroke-width="1.7" stroke-linejoin="round"/>
<polygon points="598.8,236.5 606.5,232.7 610.4,234.6 608.5,242.3 605.6,250.0 608.5,255.8 616.2,253.8 622.9,250.0 625.8,240.4 627.7,232.7 634.4,236.5 639.2,242.3 634.4,251.9 629.6,257.7 635.4,263.5 643.1,265.4 644.0,273.1 641.2,280.8 633.5,282.7 625.8,280.8 619.0,275.0 614.2,265.4 606.5,263.5 598.8,265.4 596.9,257.7 598.8,246.2" fill="#d4b668" stroke="#d4b668" stroke-width="1.7" stroke-linejoin="round"/>
<polygon points="598.8,273.1 608.5,271.2 612.3,276.9 606.5,282.7 598.8,281.7" fill="#d4b668" stroke="#d4b668" stroke-width="1.7" stroke-linejoin="round"/>
<polygon points="618.1,280.8 625.8,284.6 627.7,292.3 622.9,293.3" fill="#d4b668" stroke="#d4b668" stroke-width="1.7" stroke-linejoin="round"/>
<polygon points="596.9,171.2 604.6,169.2 612.3,163.5 618.1,161.5 621.9,169.2 619.0,176.9 623.8,180.8 630.6,174.0 637.3,169.2 639.2,175.0 634.4,183.7 629.6,188.5 637.3,191.3 645.0,193.3 646.9,201.9 643.1,207.7 635.4,206.7 629.6,201.0 621.9,195.2 616.2,188.5 612.3,180.8 604.6,181.7 598.8,178.8" fill="#d4b668" stroke="#d4b668" stroke-width="1.7" stroke-linejoin="round"/>
<polygon points="602.7,198.1 610.4,197.1 614.2,203.8 612.3,213.5 609.4,223.1 604.6,221.2 601.7,211.5 599.8,204.8" fill="#d4b668" stroke="#d4b668" stroke-width="1.7" stroke-linejoin="round"/>
<polygon points="586.3,242.3 594.0,240.4 595.0,257.7 591.2,269.2 586.3,265.4" fill="#d4b668" stroke="#d4b668" stroke-width="1.7" stroke-linejoin="round"/>
<polygon points="598.8,298.1 604.6,296.2 606.5,303.8 599.8,306.7" fill="#d4b668" stroke="#d4b668" stroke-width="1.7" stroke-linejoin="round"/>
<polygon points="625.8,298.1 635.4,301.9 637.3,307.7 627.7,306.7" fill="#d4b668" stroke="#d4b668" stroke-width="1.7" stroke-linejoin="round"/>
<polygon points="649.2,158.9 656.3,156.2 665.2,159.8 671.4,155.3 676.7,152.7 683.8,156.2 686.5,164.2 693.6,160.7 699.8,154.4 705.1,153.6 709.6,158.9 706.0,166.9 713.1,169.5 720.2,168.6 722.9,173.1 718.5,178.4 713.1,180.2 718.5,186.4 722.0,192.6 717.6,194.4 709.6,188.2 702.5,183.7 695.4,188.2 686.5,191.7 679.4,193.5 675.0,188.2 669.6,184.6 664.3,188.2 663.4,198.8 666.1,209.5 671.4,215.7 669.6,219.2 661.6,211.3 657.2,203.3 655.4,194.4 650.1,192.6 652.8,182.0 655.4,172.2 650.1,166.9" fill="#d4b668" stroke="#d4b668" stroke-width="1.7" stroke-linejoin="round"/>
<polygon points="711.3,155.3 720.2,149.1 734.4,149.1 741.5,155.3 743.3,162.4 736.2,166.9 727.3,165.1 720.2,160.7 714.9,160.7" fill="#d4b668" stroke="#d4b668" stroke-width="1.7" stroke-linejoin="round"/>
<polygon points="744.2,164.2 754.3,163.3 754.3,174.9 748.6,176.6 743.3,171.3" fill="#d4b668" stroke="#d4b668" stroke-width="1.7" stroke-linejoin="round"/>
<polygon points="736.2,188.2 741.5,182.0 748.6,181.1 754.3,182.8 754.3,212.1 748.6,211.3 743.3,206.8 738.0,201.5 734.4,194.4" fill="#d4b668" stroke="#d4b668" stroke-width="1.7" stroke-linejoin="round"/>
<polygon points="633.2,169.5 640.3,173.1 638.6,182.0 633.2,183.7" fill="#d4b668" stroke="#d4b668" stroke-width="1.7" stroke-linejoin="round"/>
<polygon points="633.2,190.8 643.9,192.6 647.4,199.7 642.1,206.8 633.2,208.6" fill="#d4b668" stroke="#d4b668" stroke-width="1.7" stroke-linejoin="round"/>
<polygon points="652.8,228.1 659.9,224.6 665.2,226.3 673.2,224.6 675.0,235.2 676.7,238.8 686.5,237.0 690.0,230.8 696.3,229.9 697.1,236.1 691.8,242.3 692.7,249.4 688.3,254.8 681.2,253.0 680.3,261.9 681.2,274.3 679.4,286.7 675.0,287.6 672.3,277.8 669.6,265.4 666.1,258.3 661.6,254.8 658.1,249.4 653.6,244.1" fill="#d4b668" stroke="#d4b668" stroke-width="1.7" stroke-linejoin="round"/>
<polygon points="627.9,226.3 636.8,224.6 638.6,233.5 635.0,238.8 638.6,242.3 639.4,253.0 635.0,256.5 629.7,258.3 624.3,249.4 626.1,235.2" fill="#d4b668" stroke="#d4b668" stroke-width="1.7" stroke-linejoin="round"/>
<polygon points="631.4,261.0 640.3,263.6 640.3,274.3 635.0,277.8 629.7,274.3" fill="#d4b668" stroke="#d4b668" stroke-width="1.7" stroke-linejoin="round"/>
<polygon points="711.3,221.0 718.5,219.2 727.3,222.8 725.6,228.1 718.5,231.7 713.1,228.1" fill="#d4b668" stroke="#d4b668" stroke-width="1.7" stroke-linejoin="round"/>
<polygon points="738.0,219.2 750.4,218.4 751.3,233.5 745.1,235.2 744.2,242.3 750.4,245.9 751.3,263.6 746.0,265.4 743.3,258.3 738.9,254.8 734.4,258.3 735.3,265.4 730.9,270.7 728.2,263.6 727.3,254.8 720.2,251.2 711.3,249.4 709.6,242.3 716.7,238.8 725.6,238.8 729.1,233.5 736.2,233.5 738.9,228.1" fill="#d4b668" stroke="#d4b668" stroke-width="1.7" stroke-linejoin="round"/>
<polygon points="663.4,295.6 673.2,294.7 670.5,300.9" fill="#d4b668" stroke="#d4b668" stroke-width="1.7" stroke-linejoin="round"/>
<polygon points="727.3,292.0 734.4,290.3 741.5,297.4 734.4,300.9" fill="#d4b668" stroke="#d4b668" stroke-width="1.7" stroke-linejoin="round"/>
<path d="M484.7 158.5 A7.5 7.5 0 1 0 500.7 158.5" fill="none" stroke="#d4b668" stroke-width="4"/>
<circle cx="740.1" cy="129.9" r="5" fill="#d4b668"/>
<ellipse cx="507.1" cy="120.0" rx="3.3" ry="3.3" fill="#d4b668"/>
<ellipse cx="641.2" cy="52.6" rx="3.9" ry="3.9" fill="#d4b668"/>
<ellipse cx="727.3" cy="46.4" rx="2.0" ry="4.3" fill="#d4b668"/>
<ellipse cx="740.6" cy="105.0" rx="8.0" ry="7.5" fill="#d4b668"/>
<ellipse cx="659.0" cy="265.4" rx="3.9" ry="5.3" fill="#d4b668"/>
<ellipse cx="690.0" cy="268.1" rx="5.3" ry="5.3" fill="#d4b668"/>
<ellipse cx="714.9" cy="261.0" rx="5.0" ry="4.4" fill="#d4b668"/>
<ellipse cx="691.5" cy="26.0" rx="1.8" ry="1.8" fill="#120000"/>
<ellipse cx="711.3" cy="116.2" rx="3.9" ry="4.6" fill="#120000"/>
<ellipse cx="740.1" cy="129.9" rx="2.5" ry="2.5" fill="#120000"/>
<ellipse cx="511.3" cy="194.2" rx="6.5" ry="7.7" fill="#100000"/>
<ellipse cx="595.0" cy="41.7" rx="1.9" ry="3.8" fill="#2a0500"/>
<ellipse cx="602.7" cy="48.8" rx="2.9" ry="2.3" fill="#2a0500"/>
<rect x="739" y="296" width="15" height="11" fill="#0c0000"/>
</g>
</g>
<rect x="466.5" y="234.1" width="47.4" height="50.3" rx="8" fill="none" stroke="#70e6e4" stroke-width="3"/>
<rect x="531.1" y="232.3" width="46.0" height="50.3" rx="8" fill="none" stroke="#70e6e4" stroke-width="3"/>
<rect x="596.8" y="232.3" width="46.7" height="50.3" rx="8" fill="none" stroke="#70e6e4" stroke-width="3"/>
<rect x="652.5" y="221.7" width="46.8" height="53.8" rx="8" fill="none" stroke="#70e6e4" stroke-width="3"/>
<rect x="707.6" y="217.4" width="45.3" height="49.2" rx="8" fill="none" stroke="#70e6e4" stroke-width="3"/>
<rect x="690" y="281" width="53.5" height="8.6" fill="#fff" stroke="#33457e" stroke-width="1.6"/>
<!-- pc -->
<defs><clipPath id="clipC"><rect x="843.0" y="13.9" width="306.4" height="296.5"/></clipPath>
<radialGradient id="pinkC" cx="0.5" cy="0.45" r="0.75"><stop offset="0" stop-color="#e6a4c8"/><stop offset="0.6" stop-color="#d272a4"/><stop offset="1" stop-color="#b84080"/></radialGradient>
<filter id="noiseW" x="0" y="0" width="100%" height="100%"><feTurbulence type="fractalNoise" baseFrequency="0.2" numOctaves="3" seed="3"/>
<feColorMatrix type="matrix" values="0 0 0 0 1  0 0 0 0 0.92  0 0 0 0 0.97  5.5 0 0 0 -2.6"/></filter>
<filter id="noiseM" x="0" y="0" width="100%" height="100%"><feTurbulence type="fractalNoise" baseFrequency="0.28" numOctaves="2" seed="11"/>
<feColorMatrix type="matrix" values="0 0 0 0 0.66  0 0 0 0 0.10  0 0 0 0 0.42  0 5 0 0 -2.6"/></filter>
</defs>
<g clip-path="url(#clipC)">
<rect x="841.0" y="11.9" width="310.4" height="300.5" fill="#fdf3f9"/>
<rect x="843.0" y="13.9" width="306.4" height="296.5" filter="url(#noiseM)" opacity="0.35"/>
<g filter="url(#b05)">
<rect x="844.0" y="25.8" width="40.2" height="41.0" rx="4" fill="url(#pinkC)"/>
<rect x="890.8" y="14.5" width="33.5" height="48.5" rx="4" fill="url(#pinkC)"/>
<rect x="928.2" y="14.5" width="29.8" height="36.0" rx="4" fill="url(#pinkC)"/>
<rect x="962.0" y="33.2" width="51.0" height="37.2" rx="4" fill="url(#pinkC)"/>
<rect x="1019.5" y="13.2" width="53.5" height="12.2" rx="4" fill="url(#pinkC)"/>
<rect x="1019.5" y="35.8" width="44.8" height="48.5" rx="4" fill="url(#pinkC)"/>
<rect x="1127.0" y="13.2" width="22.2" height="27.2" rx="4" fill="url(#pinkC)"/>
<rect x="844.0" y="74.5" width="39.0" height="42.2" rx="4" fill="url(#pinkC)"/>
<rect x="888.2" y="75.8" width="34.8" height="48.5" rx="4" fill="url(#pinkC)"/>
<rect x="934.5" y="64.5" width="39.8" height="37.2" rx="4" fill="url(#pinkC)"/>
<rect x="978.2" y="84.5" width="32.2" height="21.0" rx="4" fill="url(#pinkC)"/>
<rect x="1067.0" y="78.2" width="29.8" height="41.0" rx="4" fill="url(#pinkC)"/>
<rect x="1004.5" y="98.2" width="56.0" height="39.8" rx="4" fill="url(#pinkC)"/>
<rect x="917.0" y="114.5" width="78.5" height="33.5" rx="4" fill="url(#pinkC)"/>
<rect x="1133.2" y="107.0" width="15.8" height="60.5" rx="4" fill="url(#pinkC)"/>
<rect x="860.8" y="137.0" width="44.8" height="65.5" rx="4" fill="url(#pinkC)"/>
<rect x="918.2" y="155.8" width="67.2" height="53.0" rx="4" fill="url(#pinkC)"/>
<rect x="990.8" y="147.0" width="42.2" height="56.8" rx="4" fill="url(#pinkC)"/>
<rect x="860.8" y="216.5" width="48.5" height="66.0" rx="4" fill="url(#pinkC)"/>
<rect x="922.0" y="217.8" width="52.2" height="72.2" rx="4" fill="url(#pinkC)"/>
<rect x="982.0" y="216.5" width="53.5" height="61.0" rx="4" fill="url(#pinkC)"/>
<rect x="1042.0" y="202.8" width="48.5" height="68.5" rx="4" fill="url(#pinkC)"/>
<rect x="1098.2" y="191.5" width="51.0" height="71.0" rx="4" fill="url(#pinkC)"/>
<rect x="844.0" y="159.0" width="11.5" height="31.0" rx="4" fill="url(#pinkC)"/>
<rect x="844.0" y="204.0" width="12.8" height="41.0" rx="4" fill="url(#pinkC)"/>
<rect x="877.0" y="290.2" width="43.5" height="19.8" rx="4" fill="url(#pinkC)"/>
<rect x="982.0" y="294.0" width="18.5" height="16.0" rx="4" fill="url(#pinkC)"/>
<rect x="1008.2" y="290.2" width="42.2" height="19.8" rx="4" fill="url(#pinkC)"/>
<rect x="1058.2" y="284.0" width="29.8" height="26.0" rx="4" fill="url(#pinkC)"/>
<rect x="1093.2" y="294.0" width="34.8" height="16.0" rx="4" fill="url(#pinkC)"/>
<rect x="1135.8" y="289.0" width="13.5" height="21.0" rx="4" fill="url(#pinkC)"/>
<rect x="935.8" y="296.5" width="38.5" height="13.5" rx="4" fill="url(#pinkC)"/>
<rect x="844.0" y="127.0" width="9.0" height="21.0" rx="4" fill="url(#pinkC)"/>
<polygon points="1071.2,31.2 1122.5,31.2 1143.8,60.0 1143.8,96.2 1137.5,101.2 1103.8,101.2 1100.0,77.5 1071.2,68.8" fill="url(#pinkC)"/>
<polygon points="1100.0,115.0 1127.5,115.0 1130.0,150.0 1127.5,167.0 1115.0,179.5 1090.0,189.5 1065.0,195.8 1040.0,195.8 1038.8,152.0 1065.0,146.2 1090.0,135.0 1098.8,122.5" fill="url(#pinkC)"/>
</g>
<rect x="843.0" y="13.9" width="306.4" height="296.5" filter="url(#noiseM)" opacity="0.55"/>
<rect x="843.0" y="13.9" width="306.4" height="296.5" filter="url(#noiseW)" opacity="0.8"/>
<g filter="url(#wob)">
<rect x="842" y="12" width="46" height="6.5" fill="#1c10a8"/>
<path d="M847.5 23.8 H880.2 Q886.2 23.8 886.2 29.8 V63.2 Q886.2 69.2 880.2 69.2 H847.5 Q841.5 69.2 841.5 63.2 V29.8 Q841.5 23.8 847.5 23.8 Z M850.8 26.1 H880.6 Q884.6 26.1 884.6 30.1 V60.0 Q884.6 64.0 880.6 64.0 H850.8 Q846.8 64.0 846.8 60.0 V30.1 Q846.8 26.1 850.8 26.1 Z" fill="#06033a" fill-rule="evenodd"/>
<path d="M850.2 24.9 H880.6 Q885.6 24.9 885.6 29.9 V60.7 Q885.6 65.7 880.6 65.7 H850.2 Q845.2 65.7 845.2 60.7 V29.9 Q845.2 24.9 850.2 24.9 Z M852.8 31.1 H878.9 Q882.4 31.1 882.4 34.6 V58.0 Q882.4 61.5 878.9 61.5 H852.8 Q849.3 61.5 849.3 58.0 V34.6 Q849.3 31.1 852.8 31.1 Z" fill="#2a18c8" fill-rule="evenodd"/>
<path d="M852.8 31.1 H878.9 Q882.4 31.1 882.4 34.6 V58.0 Q882.4 61.5 878.9 61.5 H852.8 Q849.3 61.5 849.3 58.0 V34.6 Q849.3 31.1 852.8 31.1 Z M854.2 32.9 H877.9 Q880.9 32.9 880.9 35.9 V56.8 Q880.9 59.8 877.9 59.8 H854.2 Q851.2 59.8 851.2 56.8 V35.9 Q851.2 32.9 854.2 32.9 Z" fill="#6a30b8" fill-rule="evenodd" opacity="0.6"/>
<path d="M894.2 12.5 H920.2 Q926.2 12.5 926.2 18.5 V59.5 Q926.2 65.5 920.2 65.5 H894.2 Q888.2 65.5 888.2 59.5 V18.5 Q888.2 12.5 894.2 12.5 Z M897.5 14.8 H920.6 Q924.6 14.8 924.6 18.8 V56.3 Q924.6 60.3 920.6 60.3 H897.5 Q893.5 60.3 893.5 56.3 V18.8 Q893.5 14.8 897.5 14.8 Z" fill="#06033a" fill-rule="evenodd"/>
<path d="M897.0 13.7 H920.6 Q925.6 13.7 925.6 18.7 V56.9 Q925.6 61.9 920.6 61.9 H897.0 Q892.0 61.9 892.0 56.9 V18.7 Q892.0 13.7 897.0 13.7 Z M899.5 19.9 H918.9 Q922.4 19.9 922.4 23.4 V54.2 Q922.4 57.7 918.9 57.7 H899.5 Q896.0 57.7 896.0 54.2 V23.4 Q896.0 19.9 899.5 19.9 Z" fill="#2a18c8" fill-rule="evenodd"/>
<path d="M899.5 19.9 H918.9 Q922.4 19.9 922.4 23.4 V54.2 Q922.4 57.7 918.9 57.7 H899.5 Q896.0 57.7 896.0 54.2 V23.4 Q896.0 19.9 899.5 19.9 Z M901.0 21.6 H917.9 Q920.9 21.6 920.9 24.6 V53.0 Q920.9 56.0 917.9 56.0 H901.0 Q898.0 56.0 898.0 53.0 V24.6 Q898.0 21.6 901.0 21.6 Z" fill="#6a30b8" fill-rule="evenodd" opacity="0.6"/>
<path d="M931.8 12.5 H954.0 Q960.0 12.5 960.0 18.5 V47.0 Q960.0 53.0 954.0 53.0 H931.8 Q925.8 53.0 925.8 47.0 V18.5 Q925.8 12.5 931.8 12.5 Z M935.0 14.8 H954.4 Q958.4 14.8 958.4 18.8 V43.8 Q958.4 47.8 954.4 47.8 H935.0 Q931.0 47.8 931.0 43.8 V18.8 Q931.0 14.8 935.0 14.8 Z" fill="#06033a" fill-rule="evenodd"/>
<path d="M934.5 13.7 H954.4 Q959.4 13.7 959.4 18.7 V44.4 Q959.4 49.4 954.4 49.4 H934.5 Q929.5 49.4 929.5 44.4 V18.7 Q929.5 13.7 934.5 13.7 Z M937.0 19.9 H952.6 Q956.1 19.9 956.1 23.4 V41.7 Q956.1 45.2 952.6 45.2 H937.0 Q933.5 45.2 933.5 41.7 V23.4 Q933.5 19.9 937.0 19.9 Z" fill="#2a18c8" fill-rule="evenodd"/>
<path d="M937.0 19.9 H952.6 Q956.1 19.9 956.1 23.4 V41.7 Q956.1 45.2 952.6 45.2 H937.0 Q933.5 45.2 933.5 41.7 V23.4 Q933.5 19.9 937.0 19.9 Z M938.5 21.6 H951.6 Q954.6 21.6 954.6 24.6 V40.5 Q954.6 43.5 951.6 43.5 H938.5 Q935.5 43.5 935.5 40.5 V24.6 Q935.5 21.6 938.5 21.6 Z" fill="#6a30b8" fill-rule="evenodd" opacity="0.6"/>
<path d="M965.5 31.2 H1009.0 Q1015.0 31.2 1015.0 37.2 V67.0 Q1015.0 73.0 1009.0 73.0 H965.5 Q959.5 73.0 959.5 67.0 V37.2 Q959.5 31.2 965.5 31.2 Z M968.8 33.5 H1009.4 Q1013.4 33.5 1013.4 37.5 V63.8 Q1013.4 67.8 1009.4 67.8 H968.8 Q964.8 67.8 964.8 63.8 V37.5 Q964.8 33.5 968.8 33.5 Z" fill="#06033a" fill-rule="evenodd"/>
<path d="M968.2 32.5 H1009.4 Q1014.4 32.5 1014.4 37.5 V64.4 Q1014.4 69.4 1009.4 69.4 H968.2 Q963.2 69.4 963.2 64.4 V37.5 Q963.2 32.5 968.2 32.5 Z M970.8 38.6 H1007.6 Q1011.1 38.6 1011.1 42.1 V61.7 Q1011.1 65.2 1007.6 65.2 H970.8 Q967.3 65.2 967.3 61.7 V42.1 Q967.3 38.6 970.8 38.6 Z" fill="#2a18c8" fill-rule="evenodd"/>
<path d="M970.8 38.6 H1007.6 Q1011.1 38.6 1011.1 42.1 V61.7 Q1011.1 65.2 1007.6 65.2 H970.8 Q967.3 65.2 967.3 61.7 V42.1 Q967.3 38.6 970.8 38.6 Z M972.2 40.4 H1006.6 Q1009.6 40.4 1009.6 43.4 V60.5 Q1009.6 63.5 1006.6 63.5 H972.2 Q969.2 63.5 969.2 60.5 V43.4 Q969.2 40.4 972.2 40.4 Z" fill="#6a30b8" fill-rule="evenodd" opacity="0.6"/>
<path d="M1023.0 11.2 H1069.0 Q1075.0 11.2 1075.0 17.2 V22.0 Q1075.0 28.0 1069.0 28.0 H1023.0 Q1017.0 28.0 1017.0 22.0 V17.2 Q1017.0 11.2 1023.0 11.2 Z M1026.3 13.6 H1069.4 Q1073.4 13.6 1073.4 17.6 V18.8 Q1073.4 22.8 1069.4 22.8 H1026.3 Q1022.3 22.8 1022.3 18.8 V17.6 Q1022.3 13.6 1026.3 13.6 Z" fill="#06033a" fill-rule="evenodd"/>
<path d="M1025.7 12.4 H1069.4 Q1074.4 12.4 1074.4 17.4 V19.4 Q1074.4 24.4 1069.4 24.4 H1025.7 Q1020.7 24.4 1020.7 19.4 V17.4 Q1020.7 12.4 1025.7 12.4 Z M1025.6 18.6 H1070.3 Q1071.1 18.6 1071.1 19.4 V19.4 Q1071.1 20.2 1070.3 20.2 H1025.6 Q1024.8 20.2 1024.8 19.4 V19.4 Q1024.8 18.6 1025.6 18.6 Z" fill="#2a18c8" fill-rule="evenodd"/>
<path d="M1025.6 18.6 H1070.3 Q1071.1 18.6 1071.1 19.4 V19.4 Q1071.1 20.2 1070.3 20.2 H1025.6 Q1024.8 20.2 1024.8 19.4 V19.4 Q1024.8 18.6 1025.6 18.6 Z M1025.8 20.3 H1070.5 Q1069.6 20.3 1069.6 19.4 V19.4 Q1069.6 18.5 1070.5 18.5 H1025.8 Q1026.7 18.5 1026.7 19.4 V19.4 Q1026.7 20.3 1025.8 20.3 Z" fill="#6a30b8" fill-rule="evenodd" opacity="0.6"/>
<path d="M1023.0 33.8 H1060.2 Q1066.2 33.8 1066.2 39.8 V80.8 Q1066.2 86.8 1060.2 86.8 H1023.0 Q1017.0 86.8 1017.0 80.8 V39.8 Q1017.0 33.8 1023.0 33.8 Z M1026.3 36.0 H1060.7 Q1064.7 36.0 1064.7 40.0 V77.5 Q1064.7 81.5 1060.7 81.5 H1026.3 Q1022.3 81.5 1022.3 77.5 V40.0 Q1022.3 36.0 1026.3 36.0 Z" fill="#06033a" fill-rule="evenodd"/>
<path d="M1025.7 35.0 H1060.7 Q1065.7 35.0 1065.7 40.0 V78.2 Q1065.7 83.2 1060.7 83.2 H1025.7 Q1020.7 83.2 1020.7 78.2 V40.0 Q1020.7 35.0 1025.7 35.0 Z M1028.3 41.1 H1058.8 Q1062.3 41.1 1062.3 44.6 V75.5 Q1062.3 79.0 1058.8 79.0 H1028.3 Q1024.8 79.0 1024.8 75.5 V44.6 Q1024.8 41.1 1028.3 41.1 Z" fill="#2a18c8" fill-rule="evenodd"/>
<path d="M1028.3 41.1 H1058.8 Q1062.3 41.1 1062.3 44.6 V75.5 Q1062.3 79.0 1058.8 79.0 H1028.3 Q1024.8 79.0 1024.8 75.5 V44.6 Q1024.8 41.1 1028.3 41.1 Z M1029.7 42.9 H1057.8 Q1060.8 42.9 1060.8 45.9 V74.2 Q1060.8 77.2 1057.8 77.2 H1029.7 Q1026.7 77.2 1026.7 74.2 V45.9 Q1026.7 42.9 1029.7 42.9 Z" fill="#6a30b8" fill-rule="evenodd" opacity="0.6"/>
<path d="M1130.5 11.2 H1145.2 Q1151.2 11.2 1151.2 17.2 V37.0 Q1151.2 43.0 1145.2 43.0 H1130.5 Q1124.5 43.0 1124.5 37.0 V17.2 Q1124.5 11.2 1130.5 11.2 Z M1133.8 13.6 H1145.7 Q1149.7 13.6 1149.7 17.6 V33.8 Q1149.7 37.8 1145.7 37.8 H1133.8 Q1129.8 37.8 1129.8 33.8 V17.6 Q1129.8 13.6 1133.8 13.6 Z" fill="#06033a" fill-rule="evenodd"/>
<path d="M1133.2 12.4 H1145.7 Q1150.7 12.4 1150.7 17.4 V34.4 Q1150.7 39.4 1145.7 39.4 H1133.2 Q1128.2 39.4 1128.2 34.4 V17.4 Q1128.2 12.4 1133.2 12.4 Z M1135.8 18.6 H1143.8 Q1147.3 18.6 1147.3 22.1 V31.7 Q1147.3 35.2 1143.8 35.2 H1135.8 Q1132.3 35.2 1132.3 31.7 V22.1 Q1132.3 18.6 1135.8 18.6 Z" fill="#2a18c8" fill-rule="evenodd"/>
<path d="M1135.8 18.6 H1143.8 Q1147.3 18.6 1147.3 22.1 V31.7 Q1147.3 35.2 1143.8 35.2 H1135.8 Q1132.3 35.2 1132.3 31.7 V22.1 Q1132.3 18.6 1135.8 18.6 Z M1137.2 20.3 H1142.8 Q1145.8 20.3 1145.8 23.3 V30.5 Q1145.8 33.5 1142.8 33.5 H1137.2 Q1134.2 33.5 1134.2 30.5 V23.3 Q1134.2 20.3 1137.2 20.3 Z" fill="#6a30b8" fill-rule="evenodd" opacity="0.6"/>
<path d="M847.5 72.5 H879.0 Q885.0 72.5 885.0 78.5 V113.2 Q885.0 119.2 879.0 119.2 H847.5 Q841.5 119.2 841.5 113.2 V78.5 Q841.5 72.5 847.5 72.5 Z M850.8 74.8 H879.4 Q883.4 74.8 883.4 78.8 V110.0 Q883.4 114.0 879.4 114.0 H850.8 Q846.8 114.0 846.8 110.0 V78.8 Q846.8 74.8 850.8 74.8 Z" fill="#06033a" fill-rule="evenodd"/>
<path d="M850.2 73.7 H879.4 Q884.4 73.7 884.4 78.7 V110.7 Q884.4 115.7 879.4 115.7 H850.2 Q845.2 115.7 845.2 110.7 V78.7 Q845.2 73.7 850.2 73.7 Z M852.8 79.9 H877.6 Q881.1 79.9 881.1 83.4 V108.0 Q881.1 111.5 877.6 111.5 H852.8 Q849.3 111.5 849.3 108.0 V83.4 Q849.3 79.9 852.8 79.9 Z" fill="#2a18c8" fill-rule="evenodd"/>
<path d="M852.8 79.9 H877.6 Q881.1 79.9 881.1 83.4 V108.0 Q881.1 111.5 877.6 111.5 H852.8 Q849.3 111.5 849.3 108.0 V83.4 Q849.3 79.9 852.8 79.9 Z M854.2 81.6 H876.6 Q879.6 81.6 879.6 84.6 V106.8 Q879.6 109.8 876.6 109.8 H854.2 Q851.2 109.8 851.2 106.8 V84.6 Q851.2 81.6 854.2 81.6 Z" fill="#6a30b8" fill-rule="evenodd" opacity="0.6"/>
<path d="M891.8 73.8 H919.0 Q925.0 73.8 925.0 79.8 V120.8 Q925.0 126.8 919.0 126.8 H891.8 Q885.8 126.8 885.8 120.8 V79.8 Q885.8 73.8 891.8 73.8 Z M895.0 76.0 H919.4 Q923.4 76.0 923.4 80.0 V117.5 Q923.4 121.5 919.4 121.5 H895.0 Q891.0 121.5 891.0 117.5 V80.0 Q891.0 76.0 895.0 76.0 Z" fill="#06033a" fill-rule="evenodd"/>
<path d="M894.5 75.0 H919.4 Q924.4 75.0 924.4 80.0 V118.2 Q924.4 123.2 919.4 123.2 H894.5 Q889.5 123.2 889.5 118.2 V80.0 Q889.5 75.0 894.5 75.0 Z M897.0 81.2 H917.6 Q921.1 81.2 921.1 84.7 V115.5 Q921.1 119.0 917.6 119.0 H897.0 Q893.5 119.0 893.5 115.5 V84.7 Q893.5 81.2 897.0 81.2 Z" fill="#2a18c8" fill-rule="evenodd"/>
<path d="M897.0 81.2 H917.6 Q921.1 81.2 921.1 84.7 V115.5 Q921.1 119.0 917.6 119.0 H897.0 Q893.5 119.0 893.5 115.5 V84.7 Q893.5 81.2 897.0 81.2 Z M898.5 82.9 H916.6 Q919.6 82.9 919.6 85.9 V114.2 Q919.6 117.2 916.6 117.2 H898.5 Q895.5 117.2 895.5 114.2 V85.9 Q895.5 82.9 898.5 82.9 Z" fill="#6a30b8" fill-rule="evenodd" opacity="0.6"/>
<path d="M938.0 62.5 H970.2 Q976.2 62.5 976.2 68.5 V98.2 Q976.2 104.2 970.2 104.2 H938.0 Q932.0 104.2 932.0 98.2 V68.5 Q932.0 62.5 938.0 62.5 Z M941.3 64.8 H970.6 Q974.6 64.8 974.6 68.8 V95.0 Q974.6 99.0 970.6 99.0 H941.3 Q937.3 99.0 937.3 95.0 V68.8 Q937.3 64.8 941.3 64.8 Z" fill="#06033a" fill-rule="evenodd"/>
<path d="M940.7 63.7 H970.6 Q975.6 63.7 975.6 68.7 V95.7 Q975.6 100.7 970.6 100.7 H940.7 Q935.7 100.7 935.7 95.7 V68.7 Q935.7 63.7 940.7 63.7 Z M943.3 69.9 H968.9 Q972.4 69.9 972.4 73.4 V93.0 Q972.4 96.5 968.9 96.5 H943.3 Q939.8 96.5 939.8 93.0 V73.4 Q939.8 69.9 943.3 69.9 Z" fill="#2a18c8" fill-rule="evenodd"/>
<path d="M943.3 69.9 H968.9 Q972.4 69.9 972.4 73.4 V93.0 Q972.4 96.5 968.9 96.5 H943.3 Q939.8 96.5 939.8 93.0 V73.4 Q939.8 69.9 943.3 69.9 Z M944.7 71.6 H967.9 Q970.9 71.6 970.9 74.6 V91.8 Q970.9 94.8 967.9 94.8 H944.7 Q941.7 94.8 941.7 91.8 V74.6 Q941.7 71.6 944.7 71.6 Z" fill="#6a30b8" fill-rule="evenodd" opacity="0.6"/>
<path d="M981.8 82.5 H1006.5 Q1012.5 82.5 1012.5 88.5 V102.0 Q1012.5 108.0 1006.5 108.0 H981.8 Q975.8 108.0 975.8 102.0 V88.5 Q975.8 82.5 981.8 82.5 Z M985.0 84.8 H1006.9 Q1010.9 84.8 1010.9 88.8 V98.8 Q1010.9 102.8 1006.9 102.8 H985.0 Q981.0 102.8 981.0 98.8 V88.8 Q981.0 84.8 985.0 84.8 Z" fill="#06033a" fill-rule="evenodd"/>
<path d="M984.5 83.7 H1006.9 Q1011.9 83.7 1011.9 88.7 V99.4 Q1011.9 104.4 1006.9 104.4 H984.5 Q979.5 104.4 979.5 99.4 V88.7 Q979.5 83.7 984.5 83.7 Z M987.0 89.9 H1005.1 Q1008.6 89.9 1008.6 93.4 V96.7 Q1008.6 100.2 1005.1 100.2 H987.0 Q983.5 100.2 983.5 96.7 V93.4 Q983.5 89.9 987.0 89.9 Z" fill="#2a18c8" fill-rule="evenodd"/>
<path d="M987.0 89.9 H1005.1 Q1008.6 89.9 1008.6 93.4 V96.7 Q1008.6 100.2 1005.1 100.2 H987.0 Q983.5 100.2 983.5 96.7 V93.4 Q983.5 89.9 987.0 89.9 Z M988.5 91.6 H1004.1 Q1007.1 91.6 1007.1 94.6 V95.5 Q1007.1 98.5 1004.1 98.5 H988.5 Q985.5 98.5 985.5 95.5 V94.6 Q985.5 91.6 988.5 91.6 Z" fill="#6a30b8" fill-rule="evenodd" opacity="0.6"/>
<path d="M1070.5 76.2 H1092.8 Q1098.8 76.2 1098.8 82.2 V115.8 Q1098.8 121.8 1092.8 121.8 H1070.5 Q1064.5 121.8 1064.5 115.8 V82.2 Q1064.5 76.2 1070.5 76.2 Z M1073.8 78.5 H1093.2 Q1097.2 78.5 1097.2 82.5 V112.5 Q1097.2 116.5 1093.2 116.5 H1073.8 Q1069.8 116.5 1069.8 112.5 V82.5 Q1069.8 78.5 1073.8 78.5 Z" fill="#06033a" fill-rule="evenodd"/>
<path d="M1073.2 77.5 H1093.2 Q1098.2 77.5 1098.2 82.5 V113.2 Q1098.2 118.2 1093.2 118.2 H1073.2 Q1068.2 118.2 1068.2 113.2 V82.5 Q1068.2 77.5 1073.2 77.5 Z M1075.8 83.7 H1091.3 Q1094.8 83.7 1094.8 87.2 V110.5 Q1094.8 114.0 1091.3 114.0 H1075.8 Q1072.3 114.0 1072.3 110.5 V87.2 Q1072.3 83.7 1075.8 83.7 Z" fill="#2a18c8" fill-rule="evenodd"/>
<path d="M1075.8 83.7 H1091.3 Q1094.8 83.7 1094.8 87.2 V110.5 Q1094.8 114.0 1091.3 114.0 H1075.8 Q1072.3 114.0 1072.3 110.5 V87.2 Q1072.3 83.7 1075.8 83.7 Z M1077.2 85.4 H1090.3 Q1093.3 85.4 1093.3 88.4 V109.2 Q1093.3 112.2 1090.3 112.2 H1077.2 Q1074.2 112.2 1074.2 109.2 V88.4 Q1074.2 85.4 1077.2 85.4 Z" fill="#6a30b8" fill-rule="evenodd" opacity="0.6"/>
<path d="M1008.0 96.2 H1056.5 Q1062.5 96.2 1062.5 102.2 V134.5 Q1062.5 140.5 1056.5 140.5 H1008.0 Q1002.0 140.5 1002.0 134.5 V102.2 Q1002.0 96.2 1008.0 96.2 Z M1011.3 98.5 H1056.9 Q1060.9 98.5 1060.9 102.5 V131.3 Q1060.9 135.3 1056.9 135.3 H1011.3 Q1007.3 135.3 1007.3 131.3 V102.5 Q1007.3 98.5 1011.3 98.5 Z" fill="#06033a" fill-rule="evenodd"/>
<path d="M1010.7 97.5 H1056.9 Q1061.9 97.5 1061.9 102.5 V131.9 Q1061.9 136.9 1056.9 136.9 H1010.7 Q1005.7 136.9 1005.7 131.9 V102.5 Q1005.7 97.5 1010.7 97.5 Z M1013.3 103.7 H1055.1 Q1058.6 103.7 1058.6 107.2 V129.2 Q1058.6 132.7 1055.1 132.7 H1013.3 Q1009.8 132.7 1009.8 129.2 V107.2 Q1009.8 103.7 1013.3 103.7 Z" fill="#2a18c8" fill-rule="evenodd"/>
<path d="M1013.3 103.7 H1055.1 Q1058.6 103.7 1058.6 107.2 V129.2 Q1058.6 132.7 1055.1 132.7 H1013.3 Q1009.8 132.7 1009.8 129.2 V107.2 Q1009.8 103.7 1013.3 103.7 Z M1014.7 105.4 H1054.1 Q1057.1 105.4 1057.1 108.4 V128.0 Q1057.1 131.0 1054.1 131.0 H1014.7 Q1011.7 131.0 1011.7 128.0 V108.4 Q1011.7 105.4 1014.7 105.4 Z" fill="#6a30b8" fill-rule="evenodd" opacity="0.6"/>
<path d="M920.5 112.5 H991.5 Q997.5 112.5 997.5 118.5 V144.5 Q997.5 150.5 991.5 150.5 H920.5 Q914.5 150.5 914.5 144.5 V118.5 Q914.5 112.5 920.5 112.5 Z M923.8 114.8 H991.9 Q995.9 114.8 995.9 118.8 V141.3 Q995.9 145.3 991.9 145.3 H923.8 Q919.8 145.3 919.8 141.3 V118.8 Q919.8 114.8 923.8 114.8 Z" fill="#06033a" fill-rule="evenodd"/>
<path d="M923.2 113.7 H991.9 Q996.9 113.7 996.9 118.7 V141.9 Q996.9 146.9 991.9 146.9 H923.2 Q918.2 146.9 918.2 141.9 V118.7 Q918.2 113.7 923.2 113.7 Z M925.8 119.9 H990.1 Q993.6 119.9 993.6 123.4 V139.2 Q993.6 142.7 990.1 142.7 H925.8 Q922.3 142.7 922.3 139.2 V123.4 Q922.3 119.9 925.8 119.9 Z" fill="#2a18c8" fill-rule="evenodd"/>
<path d="M925.8 119.9 H990.1 Q993.6 119.9 993.6 123.4 V139.2 Q993.6 142.7 990.1 142.7 H925.8 Q922.3 142.7 922.3 139.2 V123.4 Q922.3 119.9 925.8 119.9 Z M927.2 121.6 H989.1 Q992.1 121.6 992.1 124.6 V138.0 Q992.1 141.0 989.1 141.0 H927.2 Q924.2 141.0 924.2 138.0 V124.6 Q924.2 121.6 927.2 121.6 Z" fill="#6a30b8" fill-rule="evenodd" opacity="0.6"/>
<path d="M1136.8 105.0 H1145.0 Q1151.0 105.0 1151.0 111.0 V164.0 Q1151.0 170.0 1145.0 170.0 H1136.8 Q1130.8 170.0 1130.8 164.0 V111.0 Q1130.8 105.0 1136.8 105.0 Z M1140.0 107.3 H1145.4 Q1149.4 107.3 1149.4 111.3 V160.8 Q1149.4 164.8 1145.4 164.8 H1140.0 Q1136.0 164.8 1136.0 160.8 V111.3 Q1136.0 107.3 1140.0 107.3 Z" fill="#06033a" fill-rule="evenodd"/>
<path d="M1139.5 106.2 H1145.4 Q1150.4 106.2 1150.4 111.2 V161.4 Q1150.4 166.4 1145.4 166.4 H1139.5 Q1134.5 166.4 1134.5 161.4 V111.2 Q1134.5 106.2 1139.5 106.2 Z M1142.0 112.4 H1143.6 Q1147.1 112.4 1147.1 115.9 V158.7 Q1147.1 162.2 1143.6 162.2 H1142.0 Q1138.5 162.2 1138.5 158.7 V115.9 Q1138.5 112.4 1142.0 112.4 Z" fill="#2a18c8" fill-rule="evenodd"/>
<path d="M1142.0 112.4 H1143.6 Q1147.1 112.4 1147.1 115.9 V158.7 Q1147.1 162.2 1143.6 162.2 H1142.0 Q1138.5 162.2 1138.5 158.7 V115.9 Q1138.5 112.4 1142.0 112.4 Z M1143.0 114.1 H1143.0 Q1145.6 114.1 1145.6 116.7 V157.9 Q1145.6 160.5 1143.0 160.5 H1143.0 Q1140.5 160.5 1140.5 157.9 V116.7 Q1140.5 114.1 1143.0 114.1 Z" fill="#6a30b8" fill-rule="evenodd" opacity="0.6"/>
<path d="M864.2 135.0 H901.5 Q907.5 135.0 907.5 141.0 V199.0 Q907.5 205.0 901.5 205.0 H864.2 Q858.2 205.0 858.2 199.0 V141.0 Q858.2 135.0 864.2 135.0 Z M867.5 137.3 H901.9 Q905.9 137.3 905.9 141.3 V195.8 Q905.9 199.8 901.9 199.8 H867.5 Q863.5 199.8 863.5 195.8 V141.3 Q863.5 137.3 867.5 137.3 Z" fill="#06033a" fill-rule="evenodd"/>
<path d="M867.0 136.2 H901.9 Q906.9 136.2 906.9 141.2 V196.4 Q906.9 201.4 901.9 201.4 H867.0 Q862.0 201.4 862.0 196.4 V141.2 Q862.0 136.2 867.0 136.2 Z M869.5 142.4 H900.1 Q903.6 142.4 903.6 145.9 V193.7 Q903.6 197.2 900.1 197.2 H869.5 Q866.0 197.2 866.0 193.7 V145.9 Q866.0 142.4 869.5 142.4 Z" fill="#2a18c8" fill-rule="evenodd"/>
<path d="M869.5 142.4 H900.1 Q903.6 142.4 903.6 145.9 V193.7 Q903.6 197.2 900.1 197.2 H869.5 Q866.0 197.2 866.0 193.7 V145.9 Q866.0 142.4 869.5 142.4 Z M871.0 144.1 H899.1 Q902.1 144.1 902.1 147.1 V192.5 Q902.1 195.5 899.1 195.5 H871.0 Q868.0 195.5 868.0 192.5 V147.1 Q868.0 144.1 871.0 144.1 Z" fill="#6a30b8" fill-rule="evenodd" opacity="0.6"/>
<path d="M921.8 153.8 H981.5 Q987.5 153.8 987.5 159.8 V205.2 Q987.5 211.2 981.5 211.2 H921.8 Q915.8 211.2 915.8 205.2 V159.8 Q915.8 153.8 921.8 153.8 Z M925.0 156.1 H981.9 Q985.9 156.1 985.9 160.1 V202.1 Q985.9 206.1 981.9 206.1 H925.0 Q921.0 206.1 921.0 202.1 V160.1 Q921.0 156.1 925.0 156.1 Z" fill="#06033a" fill-rule="evenodd"/>
<path d="M924.5 154.9 H981.9 Q986.9 154.9 986.9 159.9 V202.7 Q986.9 207.7 981.9 207.7 H924.5 Q919.5 207.7 919.5 202.7 V159.9 Q919.5 154.9 924.5 154.9 Z M927.0 161.2 H980.1 Q983.6 161.2 983.6 164.7 V199.9 Q983.6 203.4 980.1 203.4 H927.0 Q923.5 203.4 923.5 199.9 V164.7 Q923.5 161.2 927.0 161.2 Z" fill="#2a18c8" fill-rule="evenodd"/>
<path d="M927.0 161.2 H980.1 Q983.6 161.2 983.6 164.7 V199.9 Q983.6 203.4 980.1 203.4 H927.0 Q923.5 203.4 923.5 199.9 V164.7 Q923.5 161.2 927.0 161.2 Z M928.5 162.8 H979.1 Q982.1 162.8 982.1 165.8 V198.8 Q982.1 201.8 979.1 201.8 H928.5 Q925.5 201.8 925.5 198.8 V165.8 Q925.5 162.8 928.5 162.8 Z" fill="#6a30b8" fill-rule="evenodd" opacity="0.6"/>
<path d="M994.2 145.0 H1029.0 Q1035.0 145.0 1035.0 151.0 V200.2 Q1035.0 206.2 1029.0 206.2 H994.2 Q988.2 206.2 988.2 200.2 V151.0 Q988.2 145.0 994.2 145.0 Z M997.5 147.3 H1029.4 Q1033.4 147.3 1033.4 151.3 V197.1 Q1033.4 201.1 1029.4 201.1 H997.5 Q993.5 201.1 993.5 197.1 V151.3 Q993.5 147.3 997.5 147.3 Z" fill="#06033a" fill-rule="evenodd"/>
<path d="M997.0 146.2 H1029.4 Q1034.4 146.2 1034.4 151.2 V197.7 Q1034.4 202.7 1029.4 202.7 H997.0 Q992.0 202.7 992.0 197.7 V151.2 Q992.0 146.2 997.0 146.2 Z M999.5 152.4 H1027.6 Q1031.1 152.4 1031.1 155.9 V194.9 Q1031.1 198.4 1027.6 198.4 H999.5 Q996.0 198.4 996.0 194.9 V155.9 Q996.0 152.4 999.5 152.4 Z" fill="#2a18c8" fill-rule="evenodd"/>
<path d="M999.5 152.4 H1027.6 Q1031.1 152.4 1031.1 155.9 V194.9 Q1031.1 198.4 1027.6 198.4 H999.5 Q996.0 198.4 996.0 194.9 V155.9 Q996.0 152.4 999.5 152.4 Z M1001.0 154.1 H1026.6 Q1029.6 154.1 1029.6 157.1 V193.8 Q1029.6 196.8 1026.6 196.8 H1001.0 Q998.0 196.8 998.0 193.8 V157.1 Q998.0 154.1 1001.0 154.1 Z" fill="#6a30b8" fill-rule="evenodd" opacity="0.6"/>
<path d="M864.2 214.5 H905.2 Q911.2 214.5 911.2 220.5 V279.0 Q911.2 285.0 905.2 285.0 H864.2 Q858.2 285.0 858.2 279.0 V220.5 Q858.2 214.5 864.2 214.5 Z M867.5 216.8 H905.6 Q909.6 216.8 909.6 220.8 V275.8 Q909.6 279.8 905.6 279.8 H867.5 Q863.5 279.8 863.5 275.8 V220.8 Q863.5 216.8 867.5 216.8 Z" fill="#06033a" fill-rule="evenodd"/>
<path d="M867.0 215.7 H905.6 Q910.6 215.7 910.6 220.7 V276.4 Q910.6 281.4 905.6 281.4 H867.0 Q862.0 281.4 862.0 276.4 V220.7 Q862.0 215.7 867.0 215.7 Z M869.5 229.9 H903.9 Q907.4 229.9 907.4 233.4 V273.7 Q907.4 277.2 903.9 277.2 H869.5 Q866.0 277.2 866.0 273.7 V233.4 Q866.0 229.9 869.5 229.9 Z" fill="#2a18c8" fill-rule="evenodd"/>
<path d="M869.5 229.9 H903.9 Q907.4 229.9 907.4 233.4 V273.7 Q907.4 277.2 903.9 277.2 H869.5 Q866.0 277.2 866.0 273.7 V233.4 Q866.0 229.9 869.5 229.9 Z M871.0 231.6 H902.9 Q905.9 231.6 905.9 234.6 V272.5 Q905.9 275.5 902.9 275.5 H871.0 Q868.0 275.5 868.0 272.5 V234.6 Q868.0 231.6 871.0 231.6 Z" fill="#6a30b8" fill-rule="evenodd" opacity="0.6"/>
<path d="M925.5 215.8 H970.2 Q976.2 215.8 976.2 221.8 V286.5 Q976.2 292.5 970.2 292.5 H925.5 Q919.5 292.5 919.5 286.5 V221.8 Q919.5 215.8 925.5 215.8 Z M928.8 218.1 H970.6 Q974.6 218.1 974.6 222.1 V283.3 Q974.6 287.3 970.6 287.3 H928.8 Q924.8 287.3 924.8 283.3 V222.1 Q924.8 218.1 928.8 218.1 Z" fill="#06033a" fill-rule="evenodd"/>
<path d="M928.2 216.9 H970.6 Q975.6 216.9 975.6 221.9 V283.9 Q975.6 288.9 970.6 288.9 H928.2 Q923.2 288.9 923.2 283.9 V221.9 Q923.2 216.9 928.2 216.9 Z M930.8 228.2 H968.9 Q972.4 228.2 972.4 231.7 V281.2 Q972.4 284.7 968.9 284.7 H930.8 Q927.3 284.7 927.3 281.2 V231.7 Q927.3 228.2 930.8 228.2 Z" fill="#2a18c8" fill-rule="evenodd"/>
<path d="M930.8 228.2 H968.9 Q972.4 228.2 972.4 231.7 V281.2 Q972.4 284.7 968.9 284.7 H930.8 Q927.3 284.7 927.3 281.2 V231.7 Q927.3 228.2 930.8 228.2 Z M932.2 229.8 H967.9 Q970.9 229.8 970.9 232.8 V280.0 Q970.9 283.0 967.9 283.0 H932.2 Q929.2 283.0 929.2 280.0 V232.8 Q929.2 229.8 932.2 229.8 Z" fill="#6a30b8" fill-rule="evenodd" opacity="0.6"/>
<path d="M985.5 214.5 H1031.5 Q1037.5 214.5 1037.5 220.5 V274.0 Q1037.5 280.0 1031.5 280.0 H985.5 Q979.5 280.0 979.5 274.0 V220.5 Q979.5 214.5 985.5 214.5 Z M988.8 216.8 H1031.9 Q1035.9 216.8 1035.9 220.8 V270.8 Q1035.9 274.8 1031.9 274.8 H988.8 Q984.8 274.8 984.8 270.8 V220.8 Q984.8 216.8 988.8 216.8 Z" fill="#06033a" fill-rule="evenodd"/>
<path d="M988.2 215.7 H1031.9 Q1036.9 215.7 1036.9 220.7 V271.4 Q1036.9 276.4 1031.9 276.4 H988.2 Q983.2 276.4 983.2 271.4 V220.7 Q983.2 215.7 988.2 215.7 Z M990.8 227.9 H1030.1 Q1033.6 227.9 1033.6 231.4 V268.7 Q1033.6 272.2 1030.1 272.2 H990.8 Q987.3 272.2 987.3 268.7 V231.4 Q987.3 227.9 990.8 227.9 Z" fill="#2a18c8" fill-rule="evenodd"/>
<path d="M990.8 227.9 H1030.1 Q1033.6 227.9 1033.6 231.4 V268.7 Q1033.6 272.2 1030.1 272.2 H990.8 Q987.3 272.2 987.3 268.7 V231.4 Q987.3 227.9 990.8 227.9 Z M992.2 229.6 H1029.1 Q1032.1 229.6 1032.1 232.6 V267.5 Q1032.1 270.5 1029.1 270.5 H992.2 Q989.2 270.5 989.2 267.5 V232.6 Q989.2 229.6 992.2 229.6 Z" fill="#6a30b8" fill-rule="evenodd" opacity="0.6"/>
<path d="M1045.5 200.8 H1086.5 Q1092.5 200.8 1092.5 206.8 V267.8 Q1092.5 273.8 1086.5 273.8 H1045.5 Q1039.5 273.8 1039.5 267.8 V206.8 Q1039.5 200.8 1045.5 200.8 Z M1048.8 203.1 H1086.9 Q1090.9 203.1 1090.9 207.1 V264.6 Q1090.9 268.6 1086.9 268.6 H1048.8 Q1044.8 268.6 1044.8 264.6 V207.1 Q1044.8 203.1 1048.8 203.1 Z" fill="#06033a" fill-rule="evenodd"/>
<path d="M1048.2 201.9 H1086.9 Q1091.9 201.9 1091.9 206.9 V265.1 Q1091.9 270.1 1086.9 270.1 H1048.2 Q1043.2 270.1 1043.2 265.1 V206.9 Q1043.2 201.9 1048.2 201.9 Z M1050.8 216.2 H1085.1 Q1088.6 216.2 1088.6 219.7 V262.4 Q1088.6 265.9 1085.1 265.9 H1050.8 Q1047.3 265.9 1047.3 262.4 V219.7 Q1047.3 216.2 1050.8 216.2 Z" fill="#2a18c8" fill-rule="evenodd"/>
<path d="M1050.8 216.2 H1085.1 Q1088.6 216.2 1088.6 219.7 V262.4 Q1088.6 265.9 1085.1 265.9 H1050.8 Q1047.3 265.9 1047.3 262.4 V219.7 Q1047.3 216.2 1050.8 216.2 Z M1052.2 217.8 H1084.1 Q1087.1 217.8 1087.1 220.8 V261.2 Q1087.1 264.2 1084.1 264.2 H1052.2 Q1049.2 264.2 1049.2 261.2 V220.8 Q1049.2 217.8 1052.2 217.8 Z" fill="#6a30b8" fill-rule="evenodd" opacity="0.6"/>
<path d="M1101.8 189.5 H1145.2 Q1151.2 189.5 1151.2 195.5 V259.0 Q1151.2 265.0 1145.2 265.0 H1101.8 Q1095.8 265.0 1095.8 259.0 V195.5 Q1095.8 189.5 1101.8 189.5 Z M1105.0 191.8 H1145.7 Q1149.7 191.8 1149.7 195.8 V255.8 Q1149.7 259.8 1145.7 259.8 H1105.0 Q1101.0 259.8 1101.0 255.8 V195.8 Q1101.0 191.8 1105.0 191.8 Z" fill="#06033a" fill-rule="evenodd"/>
<path d="M1104.5 190.7 H1145.7 Q1150.7 190.7 1150.7 195.7 V256.4 Q1150.7 261.4 1145.7 261.4 H1104.5 Q1099.5 261.4 1099.5 256.4 V195.7 Q1099.5 190.7 1104.5 190.7 Z M1107.0 205.9 H1143.8 Q1147.3 205.9 1147.3 209.4 V253.7 Q1147.3 257.2 1143.8 257.2 H1107.0 Q1103.5 257.2 1103.5 253.7 V209.4 Q1103.5 205.9 1107.0 205.9 Z" fill="#2a18c8" fill-rule="evenodd"/>
<path d="M1107.0 205.9 H1143.8 Q1147.3 205.9 1147.3 209.4 V253.7 Q1147.3 257.2 1143.8 257.2 H1107.0 Q1103.5 257.2 1103.5 253.7 V209.4 Q1103.5 205.9 1107.0 205.9 Z M1108.5 207.6 H1142.8 Q1145.8 207.6 1145.8 210.6 V252.5 Q1145.8 255.5 1142.8 255.5 H1108.5 Q1105.5 255.5 1105.5 252.5 V210.6 Q1105.5 207.6 1108.5 207.6 Z" fill="#6a30b8" fill-rule="evenodd" opacity="0.6"/>
<path d="M847.5 157.0 H851.5 Q857.5 157.0 857.5 163.0 V186.5 Q857.5 192.5 851.5 192.5 H847.5 Q841.5 192.5 841.5 186.5 V163.0 Q841.5 157.0 847.5 157.0 Z M850.8 159.3 H851.9 Q855.9 159.3 855.9 163.3 V183.3 Q855.9 187.3 851.9 187.3 H850.8 Q846.8 187.3 846.8 183.3 V163.3 Q846.8 159.3 850.8 159.3 Z" fill="#06033a" fill-rule="evenodd"/>
<path d="M850.2 158.2 H851.9 Q856.9 158.2 856.9 163.2 V183.9 Q856.9 188.9 851.9 188.9 H850.2 Q845.2 188.9 845.2 183.9 V163.2 Q845.2 158.2 850.2 158.2 Z M851.5 164.4 H851.5 Q853.6 164.4 853.6 166.6 V182.5 Q853.6 184.7 851.5 184.7 H851.5 Q849.3 184.7 849.3 182.5 V166.6 Q849.3 164.4 851.5 164.4 Z" fill="#2a18c8" fill-rule="evenodd"/>
<path d="M851.5 164.4 H851.5 Q853.6 164.4 853.6 166.6 V182.5 Q853.6 184.7 851.5 184.7 H851.5 Q849.3 184.7 849.3 182.5 V166.6 Q849.3 164.4 851.5 164.4 Z M851.7 166.1 H851.7 Q852.1 166.1 852.1 166.5 V182.6 Q852.1 183.0 851.7 183.0 H851.7 Q851.2 183.0 851.2 182.6 V166.5 Q851.2 166.1 851.7 166.1 Z" fill="#6a30b8" fill-rule="evenodd" opacity="0.6"/>
<path d="M847.5 202.0 H852.8 Q858.8 202.0 858.8 208.0 V241.5 Q858.8 247.5 852.8 247.5 H847.5 Q841.5 247.5 841.5 241.5 V208.0 Q841.5 202.0 847.5 202.0 Z M850.8 204.3 H853.1 Q857.1 204.3 857.1 208.3 V238.3 Q857.1 242.3 853.1 242.3 H850.8 Q846.8 242.3 846.8 238.3 V208.3 Q846.8 204.3 850.8 204.3 Z" fill="#06033a" fill-rule="evenodd"/>
<path d="M850.2 203.2 H853.1 Q858.1 203.2 858.1 208.2 V238.9 Q858.1 243.9 853.1 243.9 H850.2 Q845.2 243.9 845.2 238.9 V208.2 Q845.2 203.2 850.2 203.2 Z M852.1 209.4 H852.1 Q854.9 209.4 854.9 212.2 V236.9 Q854.9 239.7 852.1 239.7 H852.1 Q849.3 239.7 849.3 236.9 V212.2 Q849.3 209.4 852.1 209.4 Z" fill="#2a18c8" fill-rule="evenodd"/>
<path d="M852.1 209.4 H852.1 Q854.9 209.4 854.9 212.2 V236.9 Q854.9 239.7 852.1 239.7 H852.1 Q849.3 239.7 849.3 236.9 V212.2 Q849.3 209.4 852.1 209.4 Z M852.3 211.1 H852.3 Q853.4 211.1 853.4 212.2 V236.9 Q853.4 238.0 852.3 238.0 H852.3 Q851.2 238.0 851.2 236.9 V212.2 Q851.2 211.1 852.3 211.1 Z" fill="#6a30b8" fill-rule="evenodd" opacity="0.6"/>
<path d="M880.5 288.2 H916.5 Q922.5 288.2 922.5 294.2 V306.5 Q922.5 312.5 916.5 312.5 H880.5 Q874.5 312.5 874.5 306.5 V294.2 Q874.5 288.2 880.5 288.2 Z M883.8 290.6 H916.9 Q920.9 290.6 920.9 294.6 V303.3 Q920.9 307.3 916.9 307.3 H883.8 Q879.8 307.3 879.8 303.3 V294.6 Q879.8 290.6 883.8 290.6 Z" fill="#06033a" fill-rule="evenodd"/>
<path d="M883.2 289.4 H916.9 Q921.9 289.4 921.9 294.4 V303.9 Q921.9 308.9 916.9 308.9 H883.2 Q878.2 308.9 878.2 303.9 V294.4 Q878.2 289.4 883.2 289.4 Z M885.8 295.6 H915.1 Q918.6 295.6 918.6 299.1 V301.2 Q918.6 304.7 915.1 304.7 H885.8 Q882.3 304.7 882.3 301.2 V299.1 Q882.3 295.6 885.8 295.6 Z" fill="#2a18c8" fill-rule="evenodd"/>
<path d="M885.8 295.6 H915.1 Q918.6 295.6 918.6 299.1 V301.2 Q918.6 304.7 915.1 304.7 H885.8 Q882.3 304.7 882.3 301.2 V299.1 Q882.3 295.6 885.8 295.6 Z M887.0 297.3 H914.3 Q917.1 297.3 917.1 300.2 V300.2 Q917.1 303.0 914.3 303.0 H887.0 Q884.2 303.0 884.2 300.2 V300.2 Q884.2 297.3 887.0 297.3 Z" fill="#6a30b8" fill-rule="evenodd" opacity="0.6"/>
<path d="M985.5 292.0 H996.5 Q1002.5 292.0 1002.5 298.0 V306.5 Q1002.5 312.5 996.5 312.5 H985.5 Q979.5 312.5 979.5 306.5 V298.0 Q979.5 292.0 985.5 292.0 Z M988.8 294.3 H996.9 Q1000.9 294.3 1000.9 298.3 V303.3 Q1000.9 307.3 996.9 307.3 H988.8 Q984.8 307.3 984.8 303.3 V298.3 Q984.8 294.3 988.8 294.3 Z" fill="#06033a" fill-rule="evenodd"/>
<path d="M988.2 293.2 H996.9 Q1001.9 293.2 1001.9 298.2 V303.9 Q1001.9 308.9 996.9 308.9 H988.2 Q983.2 308.9 983.2 303.9 V298.2 Q983.2 293.2 988.2 293.2 Z M989.9 299.4 H996.0 Q998.6 299.4 998.6 302.0 V302.0 Q998.6 304.7 996.0 304.7 H989.9 Q987.3 304.7 987.3 302.0 V302.0 Q987.3 299.4 989.9 299.4 Z" fill="#2a18c8" fill-rule="evenodd"/>
<path d="M989.9 299.4 H996.0 Q998.6 299.4 998.6 302.0 V302.0 Q998.6 304.7 996.0 304.7 H989.9 Q987.3 304.7 987.3 302.0 V302.0 Q987.3 299.4 989.9 299.4 Z M990.2 301.1 H996.1 Q997.1 301.1 997.1 302.0 V302.0 Q997.1 303.0 996.1 303.0 H990.2 Q989.2 303.0 989.2 302.0 V302.0 Q989.2 301.1 990.2 301.1 Z" fill="#6a30b8" fill-rule="evenodd" opacity="0.6"/>
<path d="M1011.8 288.2 H1046.5 Q1052.5 288.2 1052.5 294.2 V306.5 Q1052.5 312.5 1046.5 312.5 H1011.8 Q1005.8 312.5 1005.8 306.5 V294.2 Q1005.8 288.2 1011.8 288.2 Z M1015.0 290.6 H1046.9 Q1050.9 290.6 1050.9 294.6 V303.3 Q1050.9 307.3 1046.9 307.3 H1015.0 Q1011.0 307.3 1011.0 303.3 V294.6 Q1011.0 290.6 1015.0 290.6 Z" fill="#06033a" fill-rule="evenodd"/>
<path d="M1014.5 289.4 H1046.9 Q1051.9 289.4 1051.9 294.4 V303.9 Q1051.9 308.9 1046.9 308.9 H1014.5 Q1009.5 308.9 1009.5 303.9 V294.4 Q1009.5 289.4 1014.5 289.4 Z M1017.0 295.6 H1045.1 Q1048.6 295.6 1048.6 299.1 V301.2 Q1048.6 304.7 1045.1 304.7 H1017.0 Q1013.5 304.7 1013.5 301.2 V299.1 Q1013.5 295.6 1017.0 295.6 Z" fill="#2a18c8" fill-rule="evenodd"/>
<path d="M1017.0 295.6 H1045.1 Q1048.6 295.6 1048.6 299.1 V301.2 Q1048.6 304.7 1045.1 304.7 H1017.0 Q1013.5 304.7 1013.5 301.2 V299.1 Q1013.5 295.6 1017.0 295.6 Z M1018.3 297.3 H1044.3 Q1047.1 297.3 1047.1 300.2 V300.2 Q1047.1 303.0 1044.3 303.0 H1018.3 Q1015.5 303.0 1015.5 300.2 V300.2 Q1015.5 297.3 1018.3 297.3 Z" fill="#6a30b8" fill-rule="evenodd" opacity="0.6"/>
<path d="M1061.8 282.0 H1084.0 Q1090.0 282.0 1090.0 288.0 V306.5 Q1090.0 312.5 1084.0 312.5 H1061.8 Q1055.8 312.5 1055.8 306.5 V288.0 Q1055.8 282.0 1061.8 282.0 Z M1065.0 284.3 H1084.4 Q1088.4 284.3 1088.4 288.3 V303.3 Q1088.4 307.3 1084.4 307.3 H1065.0 Q1061.0 307.3 1061.0 303.3 V288.3 Q1061.0 284.3 1065.0 284.3 Z" fill="#06033a" fill-rule="evenodd"/>
<path d="M1064.5 283.2 H1084.4 Q1089.4 283.2 1089.4 288.2 V303.9 Q1089.4 308.9 1084.4 308.9 H1064.5 Q1059.5 308.9 1059.5 303.9 V288.2 Q1059.5 283.2 1064.5 283.2 Z M1067.0 289.4 H1082.6 Q1086.1 289.4 1086.1 292.9 V301.2 Q1086.1 304.7 1082.6 304.7 H1067.0 Q1063.5 304.7 1063.5 301.2 V292.9 Q1063.5 289.4 1067.0 289.4 Z" fill="#2a18c8" fill-rule="evenodd"/>
<path d="M1067.0 289.4 H1082.6 Q1086.1 289.4 1086.1 292.9 V301.2 Q1086.1 304.7 1082.6 304.7 H1067.0 Q1063.5 304.7 1063.5 301.2 V292.9 Q1063.5 289.4 1067.0 289.4 Z M1068.5 291.1 H1081.6 Q1084.6 291.1 1084.6 294.1 V300.0 Q1084.6 303.0 1081.6 303.0 H1068.5 Q1065.5 303.0 1065.5 300.0 V294.1 Q1065.5 291.1 1068.5 291.1 Z" fill="#6a30b8" fill-rule="evenodd" opacity="0.6"/>
<path d="M1096.8 292.0 H1124.0 Q1130.0 292.0 1130.0 298.0 V306.5 Q1130.0 312.5 1124.0 312.5 H1096.8 Q1090.8 312.5 1090.8 306.5 V298.0 Q1090.8 292.0 1096.8 292.0 Z M1100.0 294.3 H1124.4 Q1128.4 294.3 1128.4 298.3 V303.3 Q1128.4 307.3 1124.4 307.3 H1100.0 Q1096.0 307.3 1096.0 303.3 V298.3 Q1096.0 294.3 1100.0 294.3 Z" fill="#06033a" fill-rule="evenodd"/>
<path d="M1099.5 293.2 H1124.4 Q1129.4 293.2 1129.4 298.2 V303.9 Q1129.4 308.9 1124.4 308.9 H1099.5 Q1094.5 308.9 1094.5 303.9 V298.2 Q1094.5 293.2 1099.5 293.2 Z M1101.2 299.4 H1123.4 Q1126.1 299.4 1126.1 302.0 V302.0 Q1126.1 304.7 1123.4 304.7 H1101.2 Q1098.5 304.7 1098.5 302.0 V302.0 Q1098.5 299.4 1101.2 299.4 Z" fill="#2a18c8" fill-rule="evenodd"/>
<path d="M1101.2 299.4 H1123.4 Q1126.1 299.4 1126.1 302.0 V302.0 Q1126.1 304.7 1123.4 304.7 H1101.2 Q1098.5 304.7 1098.5 302.0 V302.0 Q1098.5 299.4 1101.2 299.4 Z M1101.4 301.1 H1123.6 Q1124.6 301.1 1124.6 302.0 V302.0 Q1124.6 303.0 1123.6 303.0 H1101.4 Q1100.5 303.0 1100.5 302.0 V302.0 Q1100.5 301.1 1101.4 301.1 Z" fill="#6a30b8" fill-rule="evenodd" opacity="0.6"/>
<path d="M1139.2 287.0 H1145.2 Q1151.2 287.0 1151.2 293.0 V306.5 Q1151.2 312.5 1145.2 312.5 H1139.2 Q1133.2 312.5 1133.2 306.5 V293.0 Q1133.2 287.0 1139.2 287.0 Z M1142.5 289.3 H1145.7 Q1149.7 289.3 1149.7 293.3 V303.3 Q1149.7 307.3 1145.7 307.3 H1142.5 Q1138.5 307.3 1138.5 303.3 V293.3 Q1138.5 289.3 1142.5 289.3 Z" fill="#06033a" fill-rule="evenodd"/>
<path d="M1142.0 288.2 H1145.7 Q1150.7 288.2 1150.7 293.2 V303.9 Q1150.7 308.9 1145.7 308.9 H1142.0 Q1137.0 308.9 1137.0 303.9 V293.2 Q1137.0 288.2 1142.0 288.2 Z M1144.2 294.4 H1144.2 Q1147.3 294.4 1147.3 297.5 V301.6 Q1147.3 304.7 1144.2 304.7 H1144.2 Q1141.0 304.7 1141.0 301.6 V297.5 Q1141.0 294.4 1144.2 294.4 Z" fill="#2a18c8" fill-rule="evenodd"/>
<path d="M1144.2 294.4 H1144.2 Q1147.3 294.4 1147.3 297.5 V301.6 Q1147.3 304.7 1144.2 304.7 H1144.2 Q1141.0 304.7 1141.0 301.6 V297.5 Q1141.0 294.4 1144.2 294.4 Z M1144.4 296.1 H1144.4 Q1145.8 296.1 1145.8 297.5 V301.6 Q1145.8 303.0 1144.4 303.0 H1144.4 Q1143.0 303.0 1143.0 301.6 V297.5 Q1143.0 296.1 1144.4 296.1 Z" fill="#6a30b8" fill-rule="evenodd" opacity="0.6"/>
<path d="M939.2 294.5 H970.2 Q976.2 294.5 976.2 300.5 V306.5 Q976.2 312.5 970.2 312.5 H939.2 Q933.2 312.5 933.2 306.5 V300.5 Q933.2 294.5 939.2 294.5 Z M942.5 296.8 H970.6 Q974.6 296.8 974.6 300.8 V303.3 Q974.6 307.3 970.6 307.3 H942.5 Q938.5 307.3 938.5 303.3 V300.8 Q938.5 296.8 942.5 296.8 Z" fill="#06033a" fill-rule="evenodd"/>
<path d="M942.0 295.7 H970.6 Q975.6 295.7 975.6 300.7 V303.9 Q975.6 308.9 970.6 308.9 H942.0 Q937.0 308.9 937.0 303.9 V300.7 Q937.0 295.7 942.0 295.7 Z M942.4 301.9 H971.0 Q972.4 301.9 972.4 303.3 V303.3 Q972.4 304.7 971.0 304.7 H942.4 Q941.0 304.7 941.0 303.3 V303.3 Q941.0 301.9 942.4 301.9 Z" fill="#2a18c8" fill-rule="evenodd"/>
<path d="M942.4 301.9 H971.0 Q972.4 301.9 972.4 303.3 V303.3 Q972.4 304.7 971.0 304.7 H942.4 Q941.0 304.7 941.0 303.3 V303.3 Q941.0 301.9 942.4 301.9 Z M942.7 303.6 H971.1 Q970.9 303.6 970.9 303.3 V303.3 Q970.9 303.0 971.1 303.0 H942.7 Q943.0 303.0 943.0 303.3 V303.3 Q943.0 303.6 942.7 303.6 Z" fill="#6a30b8" fill-rule="evenodd" opacity="0.6"/>
<path d="M847.5 125.0 H849.0 Q855.0 125.0 855.0 131.0 V144.5 Q855.0 150.5 849.0 150.5 H847.5 Q841.5 150.5 841.5 144.5 V131.0 Q841.5 125.0 847.5 125.0 Z M850.1 127.3 H850.1 Q853.4 127.3 853.4 130.6 V142.0 Q853.4 145.3 850.1 145.3 H850.1 Q846.8 145.3 846.8 142.0 V130.6 Q846.8 127.3 850.1 127.3 Z" fill="#06033a" fill-rule="evenodd"/>
<path d="M849.8 126.2 H849.8 Q854.4 126.2 854.4 130.8 V142.3 Q854.4 146.9 849.8 146.9 H849.8 Q845.2 146.9 845.2 142.3 V130.8 Q845.2 126.2 849.8 126.2 Z M850.2 132.4 H850.2 Q851.1 132.4 851.1 133.3 V141.8 Q851.1 142.7 850.2 142.7 H850.2 Q849.3 142.7 849.3 141.8 V133.3 Q849.3 132.4 850.2 132.4 Z" fill="#2a18c8" fill-rule="evenodd"/>
<path d="M850.2 132.4 H850.2 Q851.1 132.4 851.1 133.3 V141.8 Q851.1 142.7 850.2 142.7 H850.2 Q849.3 142.7 849.3 141.8 V133.3 Q849.3 132.4 850.2 132.4 Z M850.4 134.1 H850.4 Q849.6 134.1 849.6 133.3 V141.8 Q849.6 141.0 850.4 141.0 H850.4 Q851.2 141.0 851.2 141.8 V133.3 Q851.2 134.1 850.4 134.1 Z" fill="#6a30b8" fill-rule="evenodd" opacity="0.6"/>
<polygon points="1071.2,31.2 1122.5,31.2 1143.8,60.0 1143.8,96.2 1137.5,101.2 1103.8,101.2 1100.0,77.5 1071.2,68.8" fill="none" stroke="#06033a" stroke-width="8.4" stroke-linejoin="round"/>
<polygon points="1072.5,30.4 1123.7,30.4 1145.0,59.2 1145.0,95.5 1138.7,100.5 1105.0,100.5 1101.2,76.7 1072.5,68.0" fill="none" stroke="#2a18c8" stroke-width="4.8" stroke-linejoin="round"/>
<polygon points="1100.0,115.0 1127.5,115.0 1130.0,150.0 1127.5,167.0 1115.0,179.5 1090.0,189.5 1065.0,195.8 1040.0,195.8 1038.8,152.0 1065.0,146.2 1090.0,135.0 1098.8,122.5" fill="none" stroke="#06033a" stroke-width="8.4" stroke-linejoin="round"/>
<polygon points="1101.2,114.2 1128.7,114.2 1131.2,149.2 1128.7,166.2 1116.2,178.7 1091.2,188.7 1066.2,194.9 1041.2,194.9 1040.0,151.2 1066.2,145.4 1091.2,134.2 1100.0,121.7" fill="none" stroke="#2a18c8" stroke-width="4.8" stroke-linejoin="round"/>
</g>
</g>
<rect x="860.7" y="230.2" width="47.3" height="50.9" rx="8" fill="none" stroke="#66e6e6" stroke-width="2.4"/>
<rect x="924.6" y="224.9" width="47.3" height="50.9" rx="8" fill="none" stroke="#66e6e6" stroke-width="2.4"/>
<rect x="986.0" y="224.9" width="47.4" height="50.2" rx="8" fill="none" stroke="#66e6e6" stroke-width="2.4"/>
<rect x="1043.6" y="212.5" width="47.3" height="58.0" rx="8" fill="none" stroke="#66e6e6" stroke-width="2.4"/>
<rect x="1098.6" y="203.6" width="47.3" height="50.9" rx="8" fill="none" stroke="#66e6e6" stroke-width="2.4"/>
<rect x="1084.8" y="279.3" width="53.8" height="10.8" fill="#fff" stroke="#33457e" stroke-width="1.6"/>
<!-- pd -->
<defs><clipPath id="clipD1"><rect x="51.8" y="359.2" width="327.8" height="54.4"/></clipPath><clipPath id="clipD2"><rect x="51.8" y="503.4" width="327.8" height="54.2"/></clipPath></defs>
<g clip-path="url(#clipD1)">
<rect x="50" y="357" width="332" height="60" fill="#4a1002"/>
<g filter="url(#b2)"><rect x="180" y="404" width="205" height="12" fill="#96561a"/><rect x="310" y="395" width="75" height="20" fill="#8a4a14"/></g>
<g filter="url(#b05)">
<polygon points="65.4,365.9 77.7,361.8 84.5,368.6 91.3,363.2 103.6,364.5 104.9,379.5 99.5,387.7 106.3,395.9 104.9,409.5 85.9,410.9 75.0,404.0 68.2,395.9 61.3,390.4 62.7,376.8" fill="#d2b367" stroke="#d2b367" stroke-width="1.2" stroke-linejoin="round"/>
<polygon points="136.3,365.9 145.8,363.2 151.3,368.6 159.4,360.4 167.6,361.8 169.0,371.3 175.8,376.8 177.2,390.4 167.6,394.5 173.1,404.0 167.6,409.5 148.5,408.1 143.1,400.0 134.9,395.9 131.6,393.1 131.6,382.2 139.0,379.5 133.6,374.1" fill="#d2b367" stroke="#d2b367" stroke-width="1.2" stroke-linejoin="round"/>
<polygon points="184.0,361.8 193.5,361.8 197.6,371.3 192.1,379.5 185.3,374.1" fill="#d2b367" stroke="#d2b367" stroke-width="1.2" stroke-linejoin="round"/>
<polygon points="203.0,368.6 211.2,363.2 215.3,360.4 219.4,368.6 212.6,376.8 222.1,379.5 233.0,374.1 230.3,363.2 241.2,361.8 248.0,368.6 246.6,382.2 235.7,383.6 243.9,393.1 246.6,406.8 235.7,409.5 219.4,408.1 211.2,401.3 205.8,406.8 201.7,401.3 203.0,390.4 213.9,387.7 208.5,380.9 201.7,378.2" fill="#d2b367" stroke="#d2b367" stroke-width="1.2" stroke-linejoin="round"/>
<polygon points="260.3,363.2 276.6,361.8 290.2,363.2 303.9,364.5 305.2,375.4 295.7,378.2 290.2,385.0 291.6,395.9 284.8,398.6 280.7,385.0 276.6,379.5 263.0,376.8 258.9,371.3" fill="#d2b367" stroke="#d2b367" stroke-width="1.2" stroke-linejoin="round"/>
<polygon points="260.3,390.4 268.4,386.3 275.2,391.8 273.9,402.7 265.7,408.1 258.9,404.0" fill="#d2b367" stroke="#d2b367" stroke-width="1.2" stroke-linejoin="round"/>
<polygon points="295.7,390.4 302.5,387.7 303.9,401.3 298.4,405.4 294.3,398.6" fill="#d2b367" stroke="#d2b367" stroke-width="1.2" stroke-linejoin="round"/>
<polygon points="322.9,363.2 333.8,361.8 344.7,367.3 352.9,361.8 362.4,363.2 367.9,371.3 366.5,382.2 369.3,395.9 358.4,398.6 350.2,395.9 352.9,385.0 344.7,380.9 343.4,371.3 333.8,370.0 324.3,371.3" fill="#d2b367" stroke="#d2b367" stroke-width="1.2" stroke-linejoin="round"/>
<polygon points="325.7,386.3 333.8,382.2 340.6,387.7 333.8,393.1 327.0,393.1" fill="#d2b367" stroke="#d2b367" stroke-width="1.2" stroke-linejoin="round"/>
<polygon points="370.6,363.2 381.5,363.2 381.5,376.8 372.0,374.1" fill="#d2b367" stroke="#d2b367" stroke-width="1.2" stroke-linejoin="round"/>
<polygon points="50.4,360.4 58.6,360.4 57.3,371.3 50.4,371.3" fill="#d2b367" stroke="#d2b367" stroke-width="1.2" stroke-linejoin="round"/>
</g></g>
<g clip-path="url(#clipD2)">
<rect x="50" y="501" width="332" height="60" fill="#3e0f01"/>
<g filter="url(#b2)">
<rect x="109.0" y="500" width="10.0" height="62" fill="#a87428"/>
<rect x="180.0" y="500" width="7.0" height="62" fill="#8e5a1a"/>
<rect x="248.0" y="500" width="8.0" height="62" fill="#a87838"/>
<rect x="304.0" y="500" width="16.0" height="62" fill="#c09858"/>
<rect x="368.0" y="500" width="14.0" height="62" fill="#a87838"/>
<rect x="51.0" y="500" width="5.0" height="62" fill="#a06a28"/>
<rect x="113" y="503" width="7" height="13" fill="#f4e6c8"/>
<rect x="60.0" y="521" width="44.0" height="5" fill="#8a4a14"/>
<rect x="68.0" y="531" width="32.0" height="6" fill="#8a4a14"/>
<rect x="64.0" y="514" width="36.0" height="3" fill="#7a3a0c"/>
<rect x="202.0" y="521" width="43.0" height="5" fill="#8a4a14"/>
<rect x="210.0" y="531" width="31.0" height="6" fill="#8a4a14"/>
<rect x="206.0" y="514" width="35.0" height="3" fill="#7a3a0c"/>
<rect x="322.0" y="521" width="43.0" height="5" fill="#8a4a14"/>
<rect x="330.0" y="531" width="31.0" height="6" fill="#8a4a14"/>
<rect x="326.0" y="514" width="35.0" height="3" fill="#7a3a0c"/>
</g>
<g filter="url(#b1)">
<polygon points="134.4,511.6 140.4,513.0 148.5,518.4 154.0,506.2 160.8,505.6 162.7,518.4 164.9,532.1 165.4,552.5 154.0,552.0 149.9,548.4 145.8,544.3 139.0,543.0 137.6,537.5 132.2,534.8 132.2,530.7 143.1,529.3 139.0,523.9 140.4,521.2" fill="#dcc38a"/>
<polygon points="273.9,514.3 282.1,508.9 287.5,506.2 290.2,514.3 298.4,515.7 298.4,522.5 291.6,523.9 290.2,538.9 284.8,541.6 282.1,530.7 276.6,525.2 267.1,523.9" fill="#dcc38a"/>
<polygon points="263.0,538.9 271.2,533.4 278.0,538.9 276.6,549.8 268.4,552.5 261.6,548.4" fill="#dcc38a"/>
<polygon points="287.5,528.0 295.7,530.7 297.0,544.3 290.2,545.7" fill="#dcc38a"/>
</g></g>
<rect x="62.0" y="361.8" width="46.0" height="50.4" rx="8" fill="none" stroke="#70e6e4" stroke-width="2.8"/>
<rect x="132.0" y="360.1" width="45.7" height="50.1" rx="8" fill="none" stroke="#70e6e4" stroke-width="2.8"/>
<rect x="201.7" y="361.1" width="46.0" height="49.1" rx="8" fill="none" stroke="#70e6e4" stroke-width="2.8"/>
<rect x="257.9" y="362.5" width="46.3" height="47.7" rx="8" fill="none" stroke="#70e6e4" stroke-width="2.8"/>
<rect x="321.8" y="360.1" width="47.1" height="41.0" rx="8" fill="none" stroke="#70e6e4" stroke-width="2.8"/>
<rect x="59.3" y="506.5" width="46.3" height="49.4" rx="8" fill="none" stroke="#70e6e4" stroke-width="2.8"/>
<rect x="129.3" y="504.8" width="46.0" height="49.4" rx="8" fill="none" stroke="#70e6e4" stroke-width="2.8"/>
<rect x="200.0" y="505.9" width="46.0" height="49.3" rx="8" fill="none" stroke="#70e6e4" stroke-width="2.8"/>
<rect x="257.2" y="505.9" width="45.0" height="48.3" rx="8" fill="none" stroke="#70e6e4" stroke-width="2.8"/>
<rect x="320.5" y="504.8" width="45.7" height="41.0" rx="8" fill="none" stroke="#70e6e4" stroke-width="2.8"/>
<!-- pe -->
<defs><clipPath id="clipE1"><rect x="437.2" y="361.6" width="329" height="54.7"/></clipPath><clipPath id="clipE2"><rect x="437" y="502.7" width="330.3" height="54.5"/></clipPath>
<filter id="noiseEW" x="0" y="0" width="100%" height="100%"><feTurbulence type="fractalNoise" baseFrequency="0.22" numOctaves="2" seed="5"/>
<feColorMatrix type="matrix" values="0 0 0 0 1  0 0 0 0 0.93  0 0 0 0 0.97  5 0 0 0 -2.5"/></filter>
<filter id="noiseEM" x="0" y="0" width="100%" height="100%"><feTurbulence type="fractalNoise" baseFrequency="0.25" numOctaves="2" seed="9"/>
<feColorMatrix type="matrix" values="0 0 0 0 0.66  0 0 0 0 0.12  0 0 0 0 0.42  0 5 0 0 -2.55"/></filter>
</defs>
<g clip-path="url(#clipE1)">
<rect x="435.0" y="360.0" width="334.0" height="58.0" rx="0.0" fill="#c85590" />
<rect x="594.0" y="368.0" width="16.0" height="12.0" rx="4.0" fill="#fbe6f2" filter="url(#b1)"/>
<rect x="437.0" y="361.0" width="330.0" height="56.0" rx="0.0" fill="#000" filter="url(#noiseEM)" opacity="0.6"/>
<rect x="437.0" y="361.0" width="330.0" height="56.0" rx="0.0" fill="#000" filter="url(#noiseEW)" opacity="0.8"/>
<g filter="url(#wob2)">
<rect x="436.0" y="360.0" width="11.0" height="58.0" rx="0.0" fill="#05021c" />
<rect x="445.0" y="360.0" width="5.0" height="58.0" rx="0.0" fill="#2212b8" />
<rect x="437.0" y="361.0" width="330.0" height="3.0" rx="0.0" fill="#1a0e90" />
<rect x="499.0" y="360.0" width="5.0" height="58.0" rx="0.0" fill="#2a16c0" />
<rect x="503.0" y="360.0" width="10.0" height="58.0" rx="0.0" fill="#040118" />
<rect x="512.0" y="360.0" width="4.0" height="58.0" rx="0.0" fill="#2a16c0" />
<rect x="567.0" y="360.0" width="4.0" height="58.0" rx="0.0" fill="#2a16c0" />
<rect x="570.0" y="360.0" width="9.0" height="58.0" rx="0.0" fill="#040118" />
<rect x="578.0" y="360.0" width="3.0" height="58.0" rx="0.0" fill="#2a16c0" />
<rect x="636.0" y="360.0" width="3.0" height="58.0" rx="0.0" fill="#2a16c0" />
<rect x="638.0" y="360.0" width="8.0" height="58.0" rx="0.0" fill="#0a0540" />
<rect x="703.0" y="360.0" width="5.0" height="58.0" rx="0.0" fill="#2a16c0" />
<rect x="705.0" y="362.0" width="5.0" height="48.0" rx="0.0" fill="#0a0540" />
<rect x="762.0" y="360.0" width="6.0" height="58.0" rx="0.0" fill="#040118" />
<rect x="452.0" y="368.0" width="36.0" height="9.0" rx="0.0" fill="#2a16c0" />
<rect x="452.0" y="366.0" width="36.0" height="3.0" rx="0.0" fill="#fff" />
<rect x="711.0" y="386.0" width="52.0" height="12.0" rx="4.0" fill="#1a10a0" />
<rect x="716.0" y="397.0" width="44.0" height="3.0" rx="1.5" fill="#f8d8ea" />
<rect x="713.0" y="400.0" width="50.0" height="9.0" rx="3.0" fill="#1c12a8" />
<rect x="690.0" y="385.0" width="14.0" height="20.0" rx="4.0" fill="#3020c0" opacity="0.7"/>
<rect x="580.0" y="395.0" width="10.0" height="16.0" rx="4.0" fill="#3020c0" opacity="0.7"/>
<rect x="700.0" y="410.0" width="70.0" height="8.0" rx="0.0" fill="#f6e0ee" />
</g>
</g>
<g clip-path="url(#clipE2)">
<rect x="435.0" y="500.0" width="334.0" height="60.0" rx="0.0" fill="#180c80" />
<g filter="url(#wob2)">
<rect x="436.0" y="501.0" width="333.0" height="7.0" rx="0.0" fill="#03010f" />
<rect x="486.0" y="503.0" width="18.0" height="54.0" rx="0.0" fill="#0c0650" />
<rect x="490.0" y="520.0" width="8.0" height="20.0" rx="0.0" fill="#3a24d0" />
<rect x="563.0" y="503.0" width="8.0" height="54.0" rx="0.0" fill="#1a10a0" />
<rect x="634.0" y="503.0" width="7.0" height="54.0" rx="0.0" fill="#10086a" />
<rect x="700.0" y="503.0" width="8.0" height="54.0" rx="0.0" fill="#150c88" />
<rect x="765.0" y="503.0" width="4.0" height="54.0" rx="0.0" fill="#0c0650" />
<rect x="437.0" y="520.0" width="12.0" height="38.0" rx="0.0" fill="#f2c6e0" />
</g>
<defs><clipPath id="clipE3">
<rect x="440.7" y="512.2" width="38.1" height="43.4" rx="5.0" fill="#000" />
<rect x="510.4" y="507.5" width="48.5" height="48.1" rx="5.0" fill="#000" />
<rect x="575.3" y="506.4" width="55.6" height="49.2" rx="5.0" fill="#000" />
<rect x="643.7" y="506.4" width="53.9" height="49.2" rx="5.0" fill="#000" />
<rect x="710.0" y="507.5" width="51.5" height="44.4" rx="5.0" fill="#000" />
</clipPath></defs>
<g filter="url(#b05)">
<rect x="440.7" y="512.2" width="38.1" height="43.4" rx="5.0" fill="#f2c6e0" />
<rect x="510.4" y="507.5" width="48.5" height="48.1" rx="5.0" fill="#da7eae" />
<rect x="575.3" y="506.4" width="55.6" height="49.2" rx="5.0" fill="#f6d6ea" />
<rect x="643.7" y="506.4" width="53.9" height="49.2" rx="5.0" fill="#dc86b4" />
<rect x="710.0" y="507.5" width="51.5" height="44.4" rx="5.0" fill="#f8e0f0" />
</g>
<g clip-path="url(#clipE3)">
<rect x="437.0" y="502.0" width="331.0" height="56.0" rx="0.0" fill="#000" filter="url(#noiseEM)" opacity="0.4"/>
<rect x="437.0" y="502.0" width="331.0" height="56.0" rx="0.0" fill="#000" filter="url(#noiseEW)" opacity="0.6"/>
</g>
<rect x="710.0" y="543.0" width="54.0" height="8.0" rx="3.0" fill="#03010f" filter="url(#b05)"/>
</g>
<rect x="449.6" y="365.9" width="39.8" height="46.2" rx="8" fill="none" stroke="#66e6e6" stroke-width="3"/>
<rect x="516.6" y="364.6" width="49.5" height="47.5" rx="8" fill="none" stroke="#66e6e6" stroke-width="3"/>
<rect x="580.6" y="361.2" width="55.2" height="51.5" rx="8" fill="none" stroke="#66e6e6" stroke-width="3"/>
<rect x="646.5" y="361.2" width="57.6" height="49.9" rx="8" fill="none" stroke="#66e6e6" stroke-width="3"/>
<rect x="710.5" y="359.2" width="52.2" height="47.5" rx="8" fill="none" stroke="#66e6e6" stroke-width="3"/>
<rect x="440.2" y="510.7" width="39.1" height="44.4" rx="8" fill="none" stroke="#66e6e6" stroke-width="3"/>
<rect x="509.9" y="506.0" width="49.5" height="49.1" rx="8" fill="none" stroke="#66e6e6" stroke-width="3"/>
<rect x="574.8" y="504.9" width="56.6" height="50.2" rx="8" fill="none" stroke="#66e6e6" stroke-width="3"/>
<rect x="643.2" y="504.9" width="54.9" height="50.2" rx="8" fill="none" stroke="#66e6e6" stroke-width="3"/>
<rect x="709.5" y="506.0" width="52.5" height="45.4" rx="8" fill="none" stroke="#66e6e6" stroke-width="3"/>
<line x1="448.7" y1="385.3" x2="768" y2="385.3" stroke="#000" stroke-width="4" stroke-dasharray="4.3 5.07"/>
<line x1="438.5" y1="530.9" x2="768" y2="530.9" stroke="#000" stroke-width="4" stroke-dasharray="4.3 5.07"/>
<!-- pf -->
<rect x="831.1" y="331.5" width="335" height="242.6" fill="#fff" stroke="#111" stroke-width="1.9"/>
<polyline points="849.1,412.7 853.2,406.7 855.1,405.4 857.2,371.3 859.4,368.6 861.3,370.0 864.1,364.5 866.8,367.2 869.5,363.1 871.4,368.6 873.1,352.2 875.0,350.9 876.3,368.6 879.0,364.5 883.1,361.8 887.2,365.9 891.3,365.9 895.4,383.6 898.1,352.2 901.4,350.9 904.1,349.0 906.3,379.5 909.0,409.5 911.7,414.9 915.0,412.2 919.9,379.5 925.4,357.7 929.5,363.1 934.9,375.4 937.6,372.7 940.4,361.8 943.1,364.5 945.8,360.4 949.9,367.2 952.6,357.7 955.3,359.1 957.5,352.2 960.2,335.9 962.2,335.4 964.1,360.4 967.1,336.4 969.0,335.9 970.9,374.0 972.2,412.2 974.4,412.7 977.1,393.1 979.9,365.9 984.0,357.7 987.5,359.1 990.8,356.3 993.5,342.7 996.8,341.3 999.5,355.0 1003.0,359.1 1007.1,357.7 1011.2,364.5 1015.3,376.8 1018.0,363.1 1020.7,361.8 1023.5,390.4 1027.5,357.7 1030.3,341.3 1032.2,341.9 1034.4,406.7 1036.3,412.2 1038.4,410.8 1041.2,390.4 1043.9,375.4 1046.6,378.1 1050.7,374.0 1053.4,357.7 1055.6,372.7 1058.9,361.8 1063.0,363.1 1067.1,360.4 1071.1,363.1 1073.9,355.0 1075.8,353.6 1078.5,365.9 1080.7,379.5 1083.4,359.1 1086.1,357.7 1088.9,349.0 1090.8,349.5 1092.1,406.7 1093.8,412.2 1095.7,412.7 1098.4,393.1 1101.1,365.9 1105.2,363.1 1107.9,355.0 1110.7,359.1 1114.7,357.7 1118.8,365.9 1122.9,370.0 1127.0,365.9 1131.1,365.9 1133.8,372.7 1136.5,360.4 1138.7,353.6 1140.6,372.7 1143.4,361.8 1145.5,360.4 1146.9,401.3 1148.8,412.2 1150.2,412.7" fill="none" stroke="#000" stroke-width="2.3" stroke-linejoin="round"/>
<polyline points="849.6,565.9 853.2,546.3 857.2,519.0 860.0,500.0 862.2,512.2 864.9,508.1 867.6,486.3 870.3,494.5 873.1,495.9 875.8,501.3 879.0,483.6 882.3,484.2 885.9,480.9 888.6,494.5 891.3,501.3 894.0,504.1 895.9,520.4 897.6,521.8 899.5,565.4 902.2,565.4 907.7,561.3 911.7,559.9 913.9,528.6 915.8,527.2 917.7,519.0 921.3,497.2 924.8,495.1 926.7,515.0 929.5,513.6 931.4,521.8 934.1,513.6 937.6,519.0 940.4,495.9 942.3,505.4 945.0,515.0 948.5,516.3 951.3,520.4 954.0,510.9 955.9,505.4 958.1,524.5 960.8,542.2 963.5,519.0 966.2,549.0 969.0,562.6 973.1,558.6 977.1,557.2 979.3,510.9 982.6,489.1 985.9,480.9 989.4,490.4 993.5,482.3 997.6,485.0 1001.1,479.5 1004.4,486.3 1007.1,495.9 1010.4,487.7 1013.1,489.1 1015.8,479.5 1018.6,490.4 1022.1,489.1 1025.6,487.7 1027.5,497.2 1030.3,538.1 1032.2,568.1 1034.9,570.3 1037.6,566.7 1041.2,565.4 1043.1,513.6 1045.3,504.1 1048.0,513.6 1051.3,510.9 1054.8,513.6 1057.5,517.7 1061.1,512.2 1064.3,501.3 1067.6,508.1 1071.1,515.0 1074.7,520.4 1078.0,521.8 1080.7,505.4 1082.9,489.1 1084.8,489.6 1086.7,524.5 1088.9,562.6 1091.6,568.6 1095.7,566.7 1099.8,559.9 1102.5,557.2 1104.7,524.5 1107.4,521.8 1109.3,505.4 1113.4,489.1 1116.6,483.6 1120.2,487.7 1123.7,489.1 1127.0,479.5 1129.7,480.4 1131.1,491.8 1133.8,479.5 1136.5,479.5 1138.4,500.0 1140.6,498.6 1142.5,482.3 1143.9,481.4 1146.1,524.5 1148.8,564.0 1152.9,568.1" fill="none" stroke="#000" stroke-width="2.3" stroke-linejoin="round"/>
<line x1="850.3" y1="574" x2="850.3" y2="578.5" stroke="#000" stroke-width="1.1"/>
<line x1="868.8" y1="574" x2="868.8" y2="576.6" stroke="#000" stroke-width="1"/>
<line x1="887.3" y1="574" x2="887.3" y2="578.5" stroke="#000" stroke-width="1.1"/>
<line x1="905.8" y1="574" x2="905.8" y2="576.6" stroke="#000" stroke-width="1"/>
<line x1="924.4" y1="574" x2="924.4" y2="578.5" stroke="#000" stroke-width="1.1"/>
<line x1="942.9" y1="574" x2="942.9" y2="576.6" stroke="#000" stroke-width="1"/>
<line x1="961.4" y1="574" x2="961.4" y2="578.5" stroke="#000" stroke-width="1.1"/>
<line x1="979.9" y1="574" x2="979.9" y2="576.6" stroke="#000" stroke-width="1"/>
<line x1="998.4" y1="574" x2="998.4" y2="578.5" stroke="#000" stroke-width="1.1"/>
<line x1="1016.9" y1="574" x2="1016.9" y2="576.6" stroke="#000" stroke-width="1"/>
<line x1="1035.5" y1="574" x2="1035.5" y2="578.5" stroke="#000" stroke-width="1.1"/>
<line x1="1054.0" y1="574" x2="1054.0" y2="576.6" stroke="#000" stroke-width="1"/>
<line x1="1072.5" y1="574" x2="1072.5" y2="578.5" stroke="#000" stroke-width="1.1"/>
<line x1="1091.0" y1="574" x2="1091.0" y2="576.6" stroke="#000" stroke-width="1"/>
<line x1="1109.5" y1="574" x2="1109.5" y2="578.5" stroke="#000" stroke-width="1.1"/>
<line x1="1128.0" y1="574" x2="1128.0" y2="576.6" stroke="#000" stroke-width="1"/>
<line x1="1146.5" y1="574" x2="1146.5" y2="578.5" stroke="#000" stroke-width="1.1"/>
<line x1="831.8" y1="574" x2="831.8" y2="576.6" stroke="#000" stroke-width="1"/>
<!-- pg -->
<defs>
<linearGradient id="gTop" x1="0" y1="0" x2="1" y2="1"><stop offset="0" stop-color="#5a92ca"/><stop offset="0.5" stop-color="#4c86c2"/><stop offset="1" stop-color="#4a82be"/></linearGradient>
<linearGradient id="gPad" x1="0" y1="0" x2="1" y2="0"><stop offset="0" stop-color="#e6d200"/><stop offset="0.45" stop-color="#ecd404"/><stop offset="0.7" stop-color="#c4d030"/><stop offset="1" stop-color="#a6cc4e"/></linearGradient>
<linearGradient id="gGlow" gradientUnits="userSpaceOnUse" x1="0" y1="622" x2="0" y2="790"><stop offset="0" stop-color="#d8fbff" stop-opacity="0"/><stop offset="0.1" stop-color="#b8f6ff" stop-opacity="0.55"/><stop offset="0.26" stop-color="#6feafc" stop-opacity="0.85"/><stop offset="0.42" stop-color="#38d8f4" stop-opacity="0.92"/><stop offset="0.54" stop-color="#30b0f0" stop-opacity="0.85"/><stop offset="0.68" stop-color="#3a70e8" stop-opacity="0.6"/><stop offset="0.82" stop-color="#4a5ce0" stop-opacity="0.28"/><stop offset="1" stop-color="#4a5ce0" stop-opacity="0"/></linearGradient>
<linearGradient id="gPf" x1="0" y1="0" x2="0" y2="1"><stop offset="0" stop-color="#f6efc8"/><stop offset="0.6" stop-color="#f0dc70"/><stop offset="1" stop-color="#e8c838"/></linearGradient>
<linearGradient id="gPs" x1="0" y1="0" x2="0" y2="1"><stop offset="0" stop-color="#b98ad0"/><stop offset="1" stop-color="#d4789a"/></linearGradient>
</defs>
<polygon points="11.8,758.0 142.5,666.0 391.5,725.6 316.2,861.2" fill="url(#gTop)"/>
<polygon points="11.8,758.0 316.2,861.2 317.0,870.8 12.8,767.6" fill="#5896d2"/>
<polygon points="316.2,861.2 391.5,725.6 392.0,734.2 317.0,870.8" fill="#3d76b2"/>
<polyline points="11.8,758.0 316.2,861.2" fill="none" stroke="#78aee0" stroke-width="0.8"/>
<path d="M148 698 L94.5 722.5 L150 740 L166 748 M161 702 L126 718.5 L160 729 L176 740" fill="none" stroke="#2c3e58" stroke-width="2.2" stroke-linejoin="miter" opacity="0.9"/>
<path d="M150 699 L104 721 L120 727 L150 735 L170 748 M158 702 L118 722 L140 727 L168 734 L180 745" fill="none" stroke="#58c8ff" stroke-width="3.6" opacity="0.85" filter="url(#b1)"/>
<path d="M150 699 L128 708 L104 721 L122 727 L150 735 L158 743 L170 750 M158 702 L135 713 L118 722 L140 727 L152 729 L168 735 L180 746" fill="none" stroke="#eaffff" stroke-width="1.1"/>
<polygon points="116.1,692.8 161.4,704.6 193.6,684.4 193.6,682.2 161.4,702.4 116.1,690.6" fill="#a8a410"/>
<polygon points="116.1,690.6 148.3,670.4 193.6,682.2 161.4,702.4" fill="url(#gPad)"/>
<polygon points="152.3,767.2 324.3,820.6 362.2,746.3 198.9,693.0" fill="#46584e" stroke="#3a4a44" stroke-width="1"/>
<g opacity="0.50">
<polygon points="205.6,687.7 207.7,685.0 207.7,694.9 205.6,697.9" fill="url(#gPs)"/>
<polygon points="199.7,686.5 205.6,687.7 205.6,697.9 199.7,696.7" fill="url(#gPf)"/>
<polygon points="199.7,686.5 205.6,687.7 205.6,697.9 199.7,696.7" fill="#8898e8" opacity="0.75"/>
<polygon points="199.7,686.5 201.7,683.9 207.7,685.0 205.6,687.7" fill="#f4eee0"/>
<polygon points="218.2,691.8 220.3,689.1 220.3,699.0 218.2,702.0" fill="url(#gPs)"/>
<polygon points="212.3,690.6 218.2,691.8 218.2,702.0 212.3,700.8" fill="url(#gPf)"/>
<polygon points="212.3,690.6 218.2,691.8 218.2,702.0 212.3,700.8" fill="#8898e8" opacity="0.75"/>
<polygon points="212.3,690.6 214.3,688.0 220.3,689.1 218.2,691.8" fill="#f4eee0"/>
<polygon points="230.8,695.9 232.8,693.2 232.8,703.1 230.8,706.1" fill="url(#gPs)"/>
<polygon points="224.8,694.7 230.8,695.9 230.8,706.1 224.8,704.9" fill="url(#gPf)"/>
<polygon points="224.8,694.7 230.8,695.9 230.8,706.1 224.8,704.9" fill="#8898e8" opacity="0.75"/>
<polygon points="224.8,694.7 226.9,692.1 232.8,693.2 230.8,695.9" fill="#f4eee0"/>
<polygon points="243.3,700.0 245.4,697.3 245.4,707.2 243.3,710.2" fill="url(#gPs)"/>
<polygon points="237.4,698.8 243.3,700.0 243.3,710.2 237.4,709.0" fill="url(#gPf)"/>
<polygon points="237.4,698.8 243.3,700.0 243.3,710.2 237.4,709.0" fill="#8898e8" opacity="0.75"/>
<polygon points="237.4,698.8 239.4,696.2 245.4,697.3 243.3,700.0" fill="#f4eee0"/>
<polygon points="255.9,704.1 258.0,701.4 258.0,711.3 255.9,714.3" fill="url(#gPs)"/>
<polygon points="250.0,702.9 255.9,704.1 255.9,714.3 250.0,713.1" fill="url(#gPf)"/>
<polygon points="250.0,702.9 255.9,704.1 255.9,714.3 250.0,713.1" fill="#8898e8" opacity="0.75"/>
<polygon points="250.0,702.9 252.0,700.3 258.0,701.4 255.9,704.1" fill="#f4eee0"/>
<polygon points="268.5,708.2 270.5,705.5 270.5,715.4 268.5,718.4" fill="url(#gPs)"/>
<polygon points="262.5,707.0 268.5,708.2 268.5,718.4 262.5,717.2" fill="url(#gPf)"/>
<polygon points="262.5,707.0 268.5,708.2 268.5,718.4 262.5,717.2" fill="#8898e8" opacity="0.75"/>
<polygon points="262.5,707.0 264.6,704.4 270.5,705.5 268.5,708.2" fill="#f4eee0"/>
<polygon points="281.0,712.3 283.1,709.6 283.1,719.5 281.0,722.5" fill="url(#gPs)"/>
<polygon points="275.1,711.1 281.0,712.3 281.0,722.5 275.1,721.3" fill="url(#gPf)"/>
<polygon points="275.1,711.1 281.0,712.3 281.0,722.5 275.1,721.3" fill="#8898e8" opacity="0.75"/>
<polygon points="275.1,711.1 277.1,708.5 283.1,709.6 281.0,712.3" fill="#f4eee0"/>
<polygon points="293.6,716.4 295.7,713.7 295.7,723.6 293.6,726.6" fill="url(#gPs)"/>
<polygon points="287.7,715.2 293.6,716.4 293.6,726.6 287.7,725.4" fill="url(#gPf)"/>
<polygon points="287.7,715.2 293.6,716.4 293.6,726.6 287.7,725.4" fill="#8898e8" opacity="0.75"/>
<polygon points="287.7,715.2 289.7,712.6 295.7,713.7 293.6,716.4" fill="#f4eee0"/>
<polygon points="306.2,720.5 308.2,717.8 308.2,727.7 306.2,730.7" fill="url(#gPs)"/>
<polygon points="300.2,719.3 306.2,720.5 306.2,730.7 300.2,729.5" fill="url(#gPf)"/>
<polygon points="300.2,719.3 306.2,720.5 306.2,730.7 300.2,729.5" fill="#8898e8" opacity="0.75"/>
<polygon points="300.2,719.3 302.3,716.7 308.2,717.8 306.2,720.5" fill="#f4eee0"/>
<polygon points="318.7,724.6 320.8,721.9 320.8,731.8 318.7,734.8" fill="url(#gPs)"/>
<polygon points="312.8,723.4 318.7,724.6 318.7,734.8 312.8,733.6" fill="url(#gPf)"/>
<polygon points="312.8,723.4 318.7,724.6 318.7,734.8 312.8,733.6" fill="#8898e8" opacity="0.75"/>
<polygon points="312.8,723.4 314.8,720.8 320.8,721.9 318.7,724.6" fill="#f4eee0"/>
<polygon points="331.3,728.7 333.4,726.0 333.4,735.9 331.3,738.9" fill="url(#gPs)"/>
<polygon points="325.4,727.5 331.3,728.7 331.3,738.9 325.4,737.7" fill="url(#gPf)"/>
<polygon points="325.4,727.5 331.3,728.7 331.3,738.9 325.4,737.7" fill="#8898e8" opacity="0.75"/>
<polygon points="325.4,727.5 327.4,724.9 333.4,726.0 331.3,728.7" fill="#f4eee0"/>
<polygon points="343.9,732.8 345.9,730.1 345.9,740.0 343.9,743.0" fill="url(#gPs)"/>
<polygon points="337.9,731.6 343.9,732.8 343.9,743.0 337.9,741.8" fill="url(#gPf)"/>
<polygon points="337.9,731.6 343.9,732.8 343.9,743.0 337.9,741.8" fill="#8898e8" opacity="0.75"/>
<polygon points="337.9,731.6 340.0,729.0 345.9,730.1 343.9,732.8" fill="#f4eee0"/>
<polygon points="356.4,736.9 358.5,734.2 358.5,744.1 356.4,747.1" fill="url(#gPs)"/>
<polygon points="350.5,735.7 356.4,736.9 356.4,747.1 350.5,745.9" fill="url(#gPf)"/>
<polygon points="350.5,735.7 352.5,733.1 358.5,734.2 356.4,736.9" fill="#f4eee0"/>
</g>
<g opacity="0.51">
<polygon points="202.6,692.5 204.7,689.8 204.7,699.9 202.6,702.9" fill="url(#gPs)"/>
<polygon points="196.5,691.3 202.6,692.5 202.6,702.9 196.5,701.7" fill="url(#gPf)"/>
<polygon points="196.5,691.3 202.6,692.5 202.6,702.9 196.5,701.7" fill="#8898e8" opacity="0.75"/>
<polygon points="196.5,691.3 198.6,688.7 204.7,689.8 202.6,692.5" fill="#f4eee0"/>
<polygon points="215.2,696.6 217.3,693.9 217.3,704.0 215.2,707.0" fill="url(#gPs)"/>
<polygon points="209.1,695.4 215.2,696.6 215.2,707.0 209.1,705.8" fill="url(#gPf)"/>
<polygon points="209.1,695.4 215.2,696.6 215.2,707.0 209.1,705.8" fill="#8898e8" opacity="0.75"/>
<polygon points="209.1,695.4 211.2,692.8 217.3,693.9 215.2,696.6" fill="#f4eee0"/>
<polygon points="227.8,700.7 229.9,698.0 229.9,708.1 227.8,711.1" fill="url(#gPs)"/>
<polygon points="221.7,699.5 227.8,700.7 227.8,711.1 221.7,709.9" fill="url(#gPf)"/>
<polygon points="221.7,699.5 227.8,700.7 227.8,711.1 221.7,709.9" fill="#8898e8" opacity="0.75"/>
<polygon points="221.7,699.5 223.8,696.9 229.9,698.0 227.8,700.7" fill="#f4eee0"/>
<polygon points="240.5,704.8 242.5,702.1 242.5,712.2 240.5,715.2" fill="url(#gPs)"/>
<polygon points="234.4,703.6 240.5,704.8 240.5,715.2 234.4,714.0" fill="url(#gPf)"/>
<polygon points="234.4,703.6 240.5,704.8 240.5,715.2 234.4,714.0" fill="#8898e8" opacity="0.75"/>
<polygon points="234.4,703.6 236.5,701.0 242.5,702.1 240.5,704.8" fill="#f4eee0"/>
<polygon points="253.1,708.9 255.2,706.2 255.2,716.3 253.1,719.3" fill="url(#gPs)"/>
<polygon points="247.0,707.7 253.1,708.9 253.1,719.3 247.0,718.1" fill="url(#gPf)"/>
<polygon points="247.0,707.7 253.1,708.9 253.1,719.3 247.0,718.1" fill="#8898e8" opacity="0.75"/>
<polygon points="247.0,707.7 249.1,705.1 255.2,706.2 253.1,708.9" fill="#f4eee0"/>
<polygon points="265.7,713.0 267.8,710.3 267.8,720.4 265.7,723.4" fill="url(#gPs)"/>
<polygon points="259.6,711.8 265.7,713.0 265.7,723.4 259.6,722.2" fill="url(#gPf)"/>
<polygon points="259.6,711.8 265.7,713.0 265.7,723.4 259.6,722.2" fill="#8898e8" opacity="0.75"/>
<polygon points="259.6,711.8 261.7,709.2 267.8,710.3 265.7,713.0" fill="#f4eee0"/>
<polygon points="278.3,717.1 280.4,714.4 280.4,724.5 278.3,727.5" fill="url(#gPs)"/>
<polygon points="272.2,715.9 278.3,717.1 278.3,727.5 272.2,726.3" fill="url(#gPf)"/>
<polygon points="272.2,715.9 278.3,717.1 278.3,727.5 272.2,726.3" fill="#8898e8" opacity="0.75"/>
<polygon points="272.2,715.9 274.3,713.3 280.4,714.4 278.3,717.1" fill="#f4eee0"/>
<polygon points="290.9,721.2 293.0,718.5 293.0,728.6 290.9,731.6" fill="url(#gPs)"/>
<polygon points="284.8,720.0 290.9,721.2 290.9,731.6 284.8,730.4" fill="url(#gPf)"/>
<polygon points="284.8,720.0 290.9,721.2 290.9,731.6 284.8,730.4" fill="#8898e8" opacity="0.75"/>
<polygon points="284.8,720.0 286.9,717.4 293.0,718.5 290.9,721.2" fill="#f4eee0"/>
<polygon points="303.6,725.3 305.6,722.6 305.6,732.7 303.6,735.7" fill="url(#gPs)"/>
<polygon points="297.5,724.1 303.6,725.3 303.6,735.7 297.5,734.5" fill="url(#gPf)"/>
<polygon points="297.5,724.1 303.6,725.3 303.6,735.7 297.5,734.5" fill="#8898e8" opacity="0.75"/>
<polygon points="297.5,724.1 299.5,721.5 305.6,722.6 303.6,725.3" fill="#f4eee0"/>
<polygon points="316.2,729.4 318.3,726.7 318.3,736.8 316.2,739.8" fill="url(#gPs)"/>
<polygon points="310.1,728.2 316.2,729.4 316.2,739.8 310.1,738.6" fill="url(#gPf)"/>
<polygon points="310.1,728.2 316.2,729.4 316.2,739.8 310.1,738.6" fill="#8898e8" opacity="0.75"/>
<polygon points="310.1,728.2 312.2,725.6 318.3,726.7 316.2,729.4" fill="#f4eee0"/>
<polygon points="328.8,733.5 330.9,730.8 330.9,740.9 328.8,743.9" fill="url(#gPs)"/>
<polygon points="322.7,732.3 328.8,733.5 328.8,743.9 322.7,742.7" fill="url(#gPf)"/>
<polygon points="322.7,732.3 328.8,733.5 328.8,743.9 322.7,742.7" fill="#8898e8" opacity="0.75"/>
<polygon points="322.7,732.3 324.8,729.7 330.9,730.8 328.8,733.5" fill="#f4eee0"/>
<polygon points="341.4,737.6 343.5,734.9 343.5,745.0 341.4,748.0" fill="url(#gPs)"/>
<polygon points="335.3,736.4 341.4,737.6 341.4,748.0 335.3,746.8" fill="url(#gPf)"/>
<polygon points="335.3,736.4 341.4,737.6 341.4,748.0 335.3,746.8" fill="#8898e8" opacity="0.75"/>
<polygon points="335.3,736.4 337.4,733.8 343.5,734.9 341.4,737.6" fill="#f4eee0"/>
<polygon points="354.0,741.7 356.1,739.0 356.1,749.1 354.0,752.1" fill="url(#gPs)"/>
<polygon points="347.9,740.5 354.0,741.7 354.0,752.1 347.9,750.9" fill="url(#gPf)"/>
<polygon points="347.9,740.5 350.0,737.9 356.1,739.0 354.0,741.7" fill="#f4eee0"/>
</g>
<g opacity="0.56">
<polygon points="199.5,697.4 201.6,694.7 201.6,705.1 199.5,708.1" fill="url(#gPs)"/>
<polygon points="193.2,696.2 199.5,697.4 199.5,708.1 193.2,706.9" fill="url(#gPf)"/>
<polygon points="193.2,696.2 199.5,697.4 199.5,708.1 193.2,706.9" fill="#8898e8" opacity="0.75"/>
<polygon points="193.2,696.2 195.4,693.6 201.6,694.7 199.5,697.4" fill="#f4eee0"/>
<polygon points="212.1,701.5 214.3,698.8 214.3,709.2 212.1,712.2" fill="url(#gPs)"/>
<polygon points="205.9,700.3 212.1,701.5 212.1,712.2 205.9,711.0" fill="url(#gPf)"/>
<polygon points="205.9,700.3 212.1,701.5 212.1,712.2 205.9,711.0" fill="#8898e8" opacity="0.75"/>
<polygon points="205.9,700.3 208.0,697.7 214.3,698.8 212.1,701.5" fill="#f4eee0"/>
<polygon points="224.8,705.6 226.9,702.9 226.9,713.3 224.8,716.3" fill="url(#gPs)"/>
<polygon points="218.6,704.4 224.8,705.6 224.8,716.3 218.6,715.1" fill="url(#gPf)"/>
<polygon points="218.6,704.4 224.8,705.6 224.8,716.3 218.6,715.1" fill="#8898e8" opacity="0.75"/>
<polygon points="218.6,704.4 220.7,701.8 226.9,702.9 224.8,705.6" fill="#f4eee0"/>
<polygon points="237.5,709.7 239.6,707.0 239.6,717.4 237.5,720.4" fill="url(#gPs)"/>
<polygon points="231.2,708.5 237.5,709.7 237.5,720.4 231.2,719.2" fill="url(#gPf)"/>
<polygon points="231.2,708.5 237.5,709.7 237.5,720.4 231.2,719.2" fill="#8898e8" opacity="0.75"/>
<polygon points="231.2,708.5 233.4,705.9 239.6,707.0 237.5,709.7" fill="#f4eee0"/>
<polygon points="250.1,713.8 252.3,711.1 252.3,721.5 250.1,724.5" fill="url(#gPs)"/>
<polygon points="243.9,712.6 250.1,713.8 250.1,724.5 243.9,723.3" fill="url(#gPf)"/>
<polygon points="243.9,712.6 250.1,713.8 250.1,724.5 243.9,723.3" fill="#8898e8" opacity="0.75"/>
<polygon points="243.9,712.6 246.0,710.0 252.3,711.1 250.1,713.8" fill="#f4eee0"/>
<polygon points="262.8,717.9 264.9,715.2 264.9,725.6 262.8,728.6" fill="url(#gPs)"/>
<polygon points="256.6,716.7 262.8,717.9 262.8,728.6 256.6,727.4" fill="url(#gPf)"/>
<polygon points="256.6,716.7 262.8,717.9 262.8,728.6 256.6,727.4" fill="#8898e8" opacity="0.75"/>
<polygon points="256.6,716.7 258.7,714.1 264.9,715.2 262.8,717.9" fill="#f4eee0"/>
<polygon points="275.5,722.0 277.6,719.3 277.6,729.7 275.5,732.7" fill="url(#gPs)"/>
<polygon points="269.3,720.8 275.5,722.0 275.5,732.7 269.3,731.5" fill="url(#gPf)"/>
<polygon points="269.3,720.8 275.5,722.0 275.5,732.7 269.3,731.5" fill="#8898e8" opacity="0.75"/>
<polygon points="269.3,720.8 271.4,718.2 277.6,719.3 275.5,722.0" fill="#f4eee0"/>
<polygon points="288.2,726.1 290.3,723.4 290.3,733.8 288.2,736.8" fill="url(#gPs)"/>
<polygon points="281.9,724.9 288.2,726.1 288.2,736.8 281.9,735.6" fill="url(#gPf)"/>
<polygon points="281.9,724.9 288.2,726.1 288.2,736.8 281.9,735.6" fill="#8898e8" opacity="0.75"/>
<polygon points="281.9,724.9 284.1,722.3 290.3,723.4 288.2,726.1" fill="#f4eee0"/>
<polygon points="300.8,730.2 303.0,727.5 303.0,737.9 300.8,740.9" fill="url(#gPs)"/>
<polygon points="294.6,729.0 300.8,730.2 300.8,740.9 294.6,739.7" fill="url(#gPf)"/>
<polygon points="294.6,729.0 300.8,730.2 300.8,740.9 294.6,739.7" fill="#8898e8" opacity="0.75"/>
<polygon points="294.6,729.0 296.7,726.4 303.0,727.5 300.8,730.2" fill="#f4eee0"/>
<polygon points="313.5,734.3 315.6,731.6 315.6,742.0 313.5,745.0" fill="url(#gPs)"/>
<polygon points="307.3,733.1 313.5,734.3 313.5,745.0 307.3,743.8" fill="url(#gPf)"/>
<polygon points="307.3,733.1 313.5,734.3 313.5,745.0 307.3,743.8" fill="#8898e8" opacity="0.75"/>
<polygon points="307.3,733.1 309.4,730.5 315.6,731.6 313.5,734.3" fill="#f4eee0"/>
<polygon points="326.2,738.4 328.3,735.7 328.3,746.1 326.2,749.1" fill="url(#gPs)"/>
<polygon points="319.9,737.2 326.2,738.4 326.2,749.1 319.9,747.9" fill="url(#gPf)"/>
<polygon points="319.9,737.2 326.2,738.4 326.2,749.1 319.9,747.9" fill="#8898e8" opacity="0.75"/>
<polygon points="319.9,737.2 322.1,734.6 328.3,735.7 326.2,738.4" fill="#f4eee0"/>
<polygon points="338.8,742.5 341.0,739.8 341.0,750.2 338.8,753.2" fill="url(#gPs)"/>
<polygon points="332.6,741.3 338.8,742.5 338.8,753.2 332.6,752.0" fill="url(#gPf)"/>
<polygon points="332.6,741.3 338.8,742.5 338.8,753.2 332.6,752.0" fill="#8898e8" opacity="0.75"/>
<polygon points="332.6,741.3 334.7,738.7 341.0,739.8 338.8,742.5" fill="#f4eee0"/>
<polygon points="351.5,746.6 353.7,743.9 353.7,754.3 351.5,757.3" fill="url(#gPs)"/>
<polygon points="345.3,745.4 351.5,746.6 351.5,757.3 345.3,756.1" fill="url(#gPf)"/>
<polygon points="345.3,745.4 347.4,742.8 353.7,743.9 351.5,746.6" fill="#f4eee0"/>
</g>
<g opacity="0.61">
<polygon points="196.2,702.5 198.4,699.8 198.4,710.4 196.2,713.4" fill="url(#gPs)"/>
<polygon points="189.8,701.3 196.2,702.5 196.2,713.4 189.8,712.2" fill="url(#gPf)"/>
<polygon points="189.8,701.3 196.2,702.5 196.2,713.4 189.8,712.2" fill="#8898e8" opacity="0.75"/>
<polygon points="189.8,701.3 192.0,698.7 198.4,699.8 196.2,702.5" fill="#f4eee0"/>
<polygon points="208.9,706.6 211.1,703.9 211.1,714.5 208.9,717.5" fill="url(#gPs)"/>
<polygon points="202.6,705.4 208.9,706.6 208.9,717.5 202.6,716.3" fill="url(#gPf)"/>
<polygon points="202.6,705.4 208.9,706.6 208.9,717.5 202.6,716.3" fill="#8898e8" opacity="0.75"/>
<polygon points="202.6,705.4 204.7,702.8 211.1,703.9 208.9,706.6" fill="#f4eee0"/>
<polygon points="221.7,710.7 223.8,708.0 223.8,718.6 221.7,721.6" fill="url(#gPs)"/>
<polygon points="215.3,709.5 221.7,710.7 221.7,721.6 215.3,720.4" fill="url(#gPf)"/>
<polygon points="215.3,709.5 221.7,710.7 221.7,721.6 215.3,720.4" fill="#8898e8" opacity="0.75"/>
<polygon points="215.3,709.5 217.5,706.9 223.8,708.0 221.7,710.7" fill="#f4eee0"/>
<polygon points="234.4,714.8 236.6,712.1 236.6,722.7 234.4,725.7" fill="url(#gPs)"/>
<polygon points="228.0,713.6 234.4,714.8 234.4,725.7 228.0,724.5" fill="url(#gPf)"/>
<polygon points="228.0,713.6 234.4,714.8 234.4,725.7 228.0,724.5" fill="#8898e8" opacity="0.75"/>
<polygon points="228.0,713.6 230.2,711.0 236.6,712.1 234.4,714.8" fill="#f4eee0"/>
<polygon points="247.1,718.9 249.3,716.2 249.3,726.8 247.1,729.8" fill="url(#gPs)"/>
<polygon points="240.7,717.7 247.1,718.9 247.1,729.8 240.7,728.6" fill="url(#gPf)"/>
<polygon points="240.7,717.7 247.1,718.9 247.1,729.8 240.7,728.6" fill="#8898e8" opacity="0.75"/>
<polygon points="240.7,717.7 242.9,715.1 249.3,716.2 247.1,718.9" fill="#f4eee0"/>
<polygon points="259.8,723.0 262.0,720.3 262.0,730.9 259.8,733.9" fill="url(#gPs)"/>
<polygon points="253.5,721.8 259.8,723.0 259.8,733.9 253.5,732.7" fill="url(#gPf)"/>
<polygon points="253.5,721.8 259.8,723.0 259.8,733.9 253.5,732.7" fill="#8898e8" opacity="0.75"/>
<polygon points="253.5,721.8 255.6,719.2 262.0,720.3 259.8,723.0" fill="#f4eee0"/>
<polygon points="272.6,727.1 274.7,724.4 274.7,735.0 272.6,738.0" fill="url(#gPs)"/>
<polygon points="266.2,725.9 272.6,727.1 272.6,738.0 266.2,736.8" fill="url(#gPf)"/>
<polygon points="266.2,725.9 272.6,727.1 272.6,738.0 266.2,736.8" fill="#8898e8" opacity="0.75"/>
<polygon points="266.2,725.9 268.4,723.3 274.7,724.4 272.6,727.1" fill="#f4eee0"/>
<polygon points="285.3,731.2 287.5,728.5 287.5,739.1 285.3,742.1" fill="url(#gPs)"/>
<polygon points="278.9,730.0 285.3,731.2 285.3,742.1 278.9,740.9" fill="url(#gPf)"/>
<polygon points="278.9,730.0 285.3,731.2 285.3,742.1 278.9,740.9" fill="#8898e8" opacity="0.75"/>
<polygon points="278.9,730.0 281.1,727.4 287.5,728.5 285.3,731.2" fill="#f4eee0"/>
<polygon points="298.0,735.3 300.2,732.6 300.2,743.2 298.0,746.2" fill="url(#gPs)"/>
<polygon points="291.6,734.1 298.0,735.3 298.0,746.2 291.6,745.0" fill="url(#gPf)"/>
<polygon points="291.6,734.1 298.0,735.3 298.0,746.2 291.6,745.0" fill="#8898e8" opacity="0.75"/>
<polygon points="291.6,734.1 293.8,731.5 300.2,732.6 298.0,735.3" fill="#f4eee0"/>
<polygon points="310.7,739.4 312.9,736.7 312.9,747.3 310.7,750.3" fill="url(#gPs)"/>
<polygon points="304.4,738.2 310.7,739.4 310.7,750.3 304.4,749.1" fill="url(#gPf)"/>
<polygon points="304.4,738.2 310.7,739.4 310.7,750.3 304.4,749.1" fill="#8898e8" opacity="0.75"/>
<polygon points="304.4,738.2 306.5,735.6 312.9,736.7 310.7,739.4" fill="#f4eee0"/>
<polygon points="323.5,743.5 325.6,740.8 325.6,751.4 323.5,754.4" fill="url(#gPs)"/>
<polygon points="317.1,742.3 323.5,743.5 323.5,754.4 317.1,753.2" fill="url(#gPf)"/>
<polygon points="317.1,742.3 323.5,743.5 323.5,754.4 317.1,753.2" fill="#8898e8" opacity="0.75"/>
<polygon points="317.1,742.3 319.3,739.7 325.6,740.8 323.5,743.5" fill="#f4eee0"/>
<polygon points="336.2,747.6 338.4,744.9 338.4,755.5 336.2,758.5" fill="url(#gPs)"/>
<polygon points="329.8,746.4 336.2,747.6 336.2,758.5 329.8,757.3" fill="url(#gPf)"/>
<polygon points="329.8,746.4 336.2,747.6 336.2,758.5 329.8,757.3" fill="#8898e8" opacity="0.75"/>
<polygon points="329.8,746.4 332.0,743.8 338.4,744.9 336.2,747.6" fill="#f4eee0"/>
<polygon points="348.9,751.7 351.1,749.0 351.1,759.6 348.9,762.6" fill="url(#gPs)"/>
<polygon points="342.5,750.5 348.9,751.7 348.9,762.6 342.5,761.4" fill="url(#gPf)"/>
<polygon points="342.5,750.5 344.7,747.9 351.1,749.0 348.9,751.7" fill="#f4eee0"/>
</g>
<g opacity="0.67">
<polygon points="192.9,707.7 195.1,705.0 195.1,715.9 192.9,718.9" fill="url(#gPs)"/>
<polygon points="186.3,706.5 192.9,707.7 192.9,718.9 186.3,717.7" fill="url(#gPf)"/>
<polygon points="186.3,706.5 192.9,707.7 192.9,718.9 186.3,717.7" fill="#8898e8" opacity="0.75"/>
<polygon points="186.3,706.5 188.6,703.9 195.1,705.0 192.9,707.7" fill="#f4eee0"/>
<polygon points="205.6,711.8 207.9,709.1 207.9,720.0 205.6,723.0" fill="url(#gPs)"/>
<polygon points="199.1,710.6 205.6,711.8 205.6,723.0 199.1,721.8" fill="url(#gPf)"/>
<polygon points="199.1,710.6 205.6,711.8 205.6,723.0 199.1,721.8" fill="#8898e8" opacity="0.75"/>
<polygon points="199.1,710.6 201.3,708.0 207.9,709.1 205.6,711.8" fill="#f4eee0"/>
<polygon points="218.4,715.9 220.6,713.2 220.6,724.1 218.4,727.1" fill="url(#gPs)"/>
<polygon points="211.9,714.7 218.4,715.9 218.4,727.1 211.9,725.9" fill="url(#gPf)"/>
<polygon points="211.9,714.7 218.4,715.9 218.4,727.1 211.9,725.9" fill="#8898e8" opacity="0.75"/>
<polygon points="211.9,714.7 214.1,712.1 220.6,713.2 218.4,715.9" fill="#f4eee0"/>
<polygon points="231.2,720.0 233.4,717.3 233.4,728.2 231.2,731.2" fill="url(#gPs)"/>
<polygon points="224.7,718.8 231.2,720.0 231.2,731.2 224.7,730.0" fill="url(#gPf)"/>
<polygon points="224.7,718.8 231.2,720.0 231.2,731.2 224.7,730.0" fill="#8898e8" opacity="0.75"/>
<polygon points="224.7,718.8 226.9,716.2 233.4,717.3 231.2,720.0" fill="#f4eee0"/>
<polygon points="244.0,724.1 246.2,721.4 246.2,732.3 244.0,735.3" fill="url(#gPs)"/>
<polygon points="237.5,722.9 244.0,724.1 244.0,735.3 237.5,734.1" fill="url(#gPf)"/>
<polygon points="237.5,722.9 244.0,724.1 244.0,735.3 237.5,734.1" fill="#8898e8" opacity="0.75"/>
<polygon points="237.5,722.9 239.7,720.3 246.2,721.4 244.0,724.1" fill="#f4eee0"/>
<polygon points="256.7,728.2 259.0,725.5 259.0,736.4 256.7,739.4" fill="url(#gPs)"/>
<polygon points="250.2,727.0 256.7,728.2 256.7,739.4 250.2,738.2" fill="url(#gPf)"/>
<polygon points="250.2,727.0 256.7,728.2 256.7,739.4 250.2,738.2" fill="#8898e8" opacity="0.75"/>
<polygon points="250.2,727.0 252.5,724.4 259.0,725.5 256.7,728.2" fill="#f4eee0"/>
<polygon points="269.5,732.3 271.7,729.6 271.7,740.5 269.5,743.5" fill="url(#gPs)"/>
<polygon points="263.0,731.1 269.5,732.3 269.5,743.5 263.0,742.3" fill="url(#gPf)"/>
<polygon points="263.0,731.1 269.5,732.3 269.5,743.5 263.0,742.3" fill="#8898e8" opacity="0.75"/>
<polygon points="263.0,731.1 265.2,728.5 271.7,729.6 269.5,732.3" fill="#f4eee0"/>
<polygon points="282.3,736.4 284.5,733.7 284.5,744.6 282.3,747.6" fill="url(#gPs)"/>
<polygon points="275.8,735.2 282.3,736.4 282.3,747.6 275.8,746.4" fill="url(#gPf)"/>
<polygon points="275.8,735.2 282.3,736.4 282.3,747.6 275.8,746.4" fill="#8898e8" opacity="0.75"/>
<polygon points="275.8,735.2 278.0,732.6 284.5,733.7 282.3,736.4" fill="#f4eee0"/>
<polygon points="295.1,740.5 297.3,737.8 297.3,748.7 295.1,751.7" fill="url(#gPs)"/>
<polygon points="288.6,739.3 295.1,740.5 295.1,751.7 288.6,750.5" fill="url(#gPf)"/>
<polygon points="288.6,739.3 295.1,740.5 295.1,751.7 288.6,750.5" fill="#8898e8" opacity="0.75"/>
<polygon points="288.6,739.3 290.8,736.7 297.3,737.8 295.1,740.5" fill="#f4eee0"/>
<polygon points="307.8,744.6 310.1,741.9 310.1,752.8 307.8,755.8" fill="url(#gPs)"/>
<polygon points="301.3,743.4 307.8,744.6 307.8,755.8 301.3,754.6" fill="url(#gPf)"/>
<polygon points="301.3,743.4 307.8,744.6 307.8,755.8 301.3,754.6" fill="#8898e8" opacity="0.75"/>
<polygon points="301.3,743.4 303.6,740.8 310.1,741.9 307.8,744.6" fill="#f4eee0"/>
<polygon points="320.6,748.7 322.9,746.0 322.9,756.9 320.6,759.9" fill="url(#gPs)"/>
<polygon points="314.1,747.5 320.6,748.7 320.6,759.9 314.1,758.7" fill="url(#gPf)"/>
<polygon points="314.1,747.5 320.6,748.7 320.6,759.9 314.1,758.7" fill="#8898e8" opacity="0.75"/>
<polygon points="314.1,747.5 316.3,744.9 322.9,746.0 320.6,748.7" fill="#f4eee0"/>
<polygon points="333.4,752.8 335.6,750.1 335.6,761.0 333.4,764.0" fill="url(#gPs)"/>
<polygon points="326.9,751.6 333.4,752.8 333.4,764.0 326.9,762.8" fill="url(#gPf)"/>
<polygon points="326.9,751.6 333.4,752.8 333.4,764.0 326.9,762.8" fill="#8898e8" opacity="0.75"/>
<polygon points="326.9,751.6 329.1,749.0 335.6,750.1 333.4,752.8" fill="#f4eee0"/>
<polygon points="346.2,756.9 348.4,754.2 348.4,765.1 346.2,768.1" fill="url(#gPs)"/>
<polygon points="339.7,755.7 346.2,756.9 346.2,768.1 339.7,766.9" fill="url(#gPf)"/>
<polygon points="339.7,755.7 341.9,753.1 348.4,754.2 346.2,756.9" fill="#f4eee0"/>
</g>
<g opacity="0.72">
<polygon points="189.4,713.2 191.7,710.5 191.7,721.6 189.4,724.6" fill="url(#gPs)"/>
<polygon points="182.8,712.0 189.4,713.2 189.4,724.6 182.8,723.4" fill="url(#gPf)"/>
<polygon points="182.8,712.0 189.4,713.2 189.4,724.6 182.8,723.4" fill="#8898e8" opacity="0.75"/>
<polygon points="182.8,712.0 185.0,709.4 191.7,710.5 189.4,713.2" fill="#f4eee0"/>
<polygon points="202.2,717.3 204.5,714.6 204.5,725.7 202.2,728.7" fill="url(#gPs)"/>
<polygon points="195.6,716.1 202.2,717.3 202.2,728.7 195.6,727.5" fill="url(#gPf)"/>
<polygon points="195.6,716.1 202.2,717.3 202.2,728.7 195.6,727.5" fill="#8898e8" opacity="0.75"/>
<polygon points="195.6,716.1 197.9,713.5 204.5,714.6 202.2,717.3" fill="#f4eee0"/>
<polygon points="215.1,721.4 217.3,718.7 217.3,729.8 215.1,732.8" fill="url(#gPs)"/>
<polygon points="208.4,720.2 215.1,721.4 215.1,732.8 208.4,731.6" fill="url(#gPf)"/>
<polygon points="208.4,720.2 215.1,721.4 215.1,732.8 208.4,731.6" fill="#8898e8" opacity="0.75"/>
<polygon points="208.4,720.2 210.7,717.6 217.3,718.7 215.1,721.4" fill="#f4eee0"/>
<polygon points="227.9,725.5 230.2,722.8 230.2,733.9 227.9,736.9" fill="url(#gPs)"/>
<polygon points="221.2,724.3 227.9,725.5 227.9,736.9 221.2,735.7" fill="url(#gPf)"/>
<polygon points="221.2,724.3 227.9,725.5 227.9,736.9 221.2,735.7" fill="#8898e8" opacity="0.75"/>
<polygon points="221.2,724.3 223.5,721.7 230.2,722.8 227.9,725.5" fill="#f4eee0"/>
<polygon points="240.7,729.6 243.0,726.9 243.0,738.0 240.7,741.0" fill="url(#gPs)"/>
<polygon points="234.1,728.4 240.7,729.6 240.7,741.0 234.1,739.8" fill="url(#gPf)"/>
<polygon points="234.1,728.4 240.7,729.6 240.7,741.0 234.1,739.8" fill="#8898e8" opacity="0.75"/>
<polygon points="234.1,728.4 236.3,725.8 243.0,726.9 240.7,729.6" fill="#f4eee0"/>
<polygon points="253.5,733.7 255.8,731.0 255.8,742.1 253.5,745.1" fill="url(#gPs)"/>
<polygon points="246.9,732.5 253.5,733.7 253.5,745.1 246.9,743.9" fill="url(#gPf)"/>
<polygon points="246.9,732.5 253.5,733.7 253.5,745.1 246.9,743.9" fill="#8898e8" opacity="0.75"/>
<polygon points="246.9,732.5 249.2,729.9 255.8,731.0 253.5,733.7" fill="#f4eee0"/>
<polygon points="266.4,737.8 268.6,735.1 268.6,746.2 266.4,749.2" fill="url(#gPs)"/>
<polygon points="259.7,736.6 266.4,737.8 266.4,749.2 259.7,748.0" fill="url(#gPf)"/>
<polygon points="259.7,736.6 266.4,737.8 266.4,749.2 259.7,748.0" fill="#8898e8" opacity="0.75"/>
<polygon points="259.7,736.6 262.0,734.0 268.6,735.1 266.4,737.8" fill="#f4eee0"/>
<polygon points="279.2,741.9 281.5,739.2 281.5,750.3 279.2,753.3" fill="url(#gPs)"/>
<polygon points="272.6,740.7 279.2,741.9 279.2,753.3 272.6,752.1" fill="url(#gPf)"/>
<polygon points="272.6,740.7 279.2,741.9 279.2,753.3 272.6,752.1" fill="#8898e8" opacity="0.75"/>
<polygon points="272.6,740.7 274.8,738.1 281.5,739.2 279.2,741.9" fill="#f4eee0"/>
<polygon points="292.0,746.0 294.3,743.3 294.3,754.4 292.0,757.4" fill="url(#gPs)"/>
<polygon points="285.4,744.8 292.0,746.0 292.0,757.4 285.4,756.2" fill="url(#gPf)"/>
<polygon points="285.4,744.8 292.0,746.0 292.0,757.4 285.4,756.2" fill="#8898e8" opacity="0.75"/>
<polygon points="285.4,744.8 287.7,742.2 294.3,743.3 292.0,746.0" fill="#f4eee0"/>
<polygon points="304.9,750.1 307.1,747.4 307.1,758.5 304.9,761.5" fill="url(#gPs)"/>
<polygon points="298.2,748.9 304.9,750.1 304.9,761.5 298.2,760.3" fill="url(#gPf)"/>
<polygon points="298.2,748.9 304.9,750.1 304.9,761.5 298.2,760.3" fill="#8898e8" opacity="0.75"/>
<polygon points="298.2,748.9 300.5,746.3 307.1,747.4 304.9,750.1" fill="#f4eee0"/>
<polygon points="317.7,754.2 320.0,751.5 320.0,762.6 317.7,765.6" fill="url(#gPs)"/>
<polygon points="311.1,753.0 317.7,754.2 317.7,765.6 311.1,764.4" fill="url(#gPf)"/>
<polygon points="311.1,753.0 317.7,754.2 317.7,765.6 311.1,764.4" fill="#8898e8" opacity="0.75"/>
<polygon points="311.1,753.0 313.3,750.4 320.0,751.5 317.7,754.2" fill="#f4eee0"/>
<polygon points="330.5,758.3 332.8,755.6 332.8,766.7 330.5,769.7" fill="url(#gPs)"/>
<polygon points="323.9,757.1 330.5,758.3 330.5,769.7 323.9,768.5" fill="url(#gPf)"/>
<polygon points="323.9,757.1 330.5,758.3 330.5,769.7 323.9,768.5" fill="#8898e8" opacity="0.75"/>
<polygon points="323.9,757.1 326.2,754.5 332.8,755.6 330.5,758.3" fill="#f4eee0"/>
<polygon points="343.4,762.4 345.6,759.7 345.6,770.8 343.4,773.8" fill="url(#gPs)"/>
<polygon points="336.7,761.2 343.4,762.4 343.4,773.8 336.7,772.6" fill="url(#gPf)"/>
<polygon points="336.7,761.2 339.0,758.6 345.6,759.7 343.4,762.4" fill="#f4eee0"/>
</g>
<g opacity="0.78">
<polygon points="185.8,718.7 188.2,716.0 188.2,727.4 185.8,730.4" fill="url(#gPs)"/>
<polygon points="179.1,717.5 185.8,718.7 185.8,730.4 179.1,729.2" fill="url(#gPf)"/>
<polygon points="179.1,717.5 185.8,718.7 185.8,730.4 179.1,729.2" fill="#8898e8" opacity="0.71"/>
<polygon points="179.1,717.5 181.4,714.9 188.2,716.0 185.8,718.7" fill="#f4eee0"/>
<polygon points="198.7,722.8 201.0,720.1 201.0,731.5 198.7,734.5" fill="url(#gPs)"/>
<polygon points="191.9,721.6 198.7,722.8 198.7,734.5 191.9,733.3" fill="url(#gPf)"/>
<polygon points="191.9,721.6 198.7,722.8 198.7,734.5 191.9,733.3" fill="#8898e8" opacity="0.71"/>
<polygon points="191.9,721.6 194.3,719.0 201.0,720.1 198.7,722.8" fill="#f4eee0"/>
<polygon points="211.6,726.9 213.9,724.2 213.9,735.6 211.6,738.6" fill="url(#gPs)"/>
<polygon points="204.8,725.7 211.6,726.9 211.6,738.6 204.8,737.4" fill="url(#gPf)"/>
<polygon points="204.8,725.7 211.6,726.9 211.6,738.6 204.8,737.4" fill="#8898e8" opacity="0.71"/>
<polygon points="204.8,725.7 207.1,723.1 213.9,724.2 211.6,726.9" fill="#f4eee0"/>
<polygon points="224.5,731.0 226.8,728.3 226.8,739.7 224.5,742.7" fill="url(#gPs)"/>
<polygon points="217.7,729.8 224.5,731.0 224.5,742.7 217.7,741.5" fill="url(#gPf)"/>
<polygon points="217.7,729.8 224.5,731.0 224.5,742.7 217.7,741.5" fill="#8898e8" opacity="0.71"/>
<polygon points="217.7,729.8 220.0,727.2 226.8,728.3 224.5,731.0" fill="#f4eee0"/>
<polygon points="237.4,735.1 239.7,732.4 239.7,743.8 237.4,746.8" fill="url(#gPs)"/>
<polygon points="230.6,733.9 237.4,735.1 237.4,746.8 230.6,745.6" fill="url(#gPf)"/>
<polygon points="230.6,733.9 237.4,735.1 237.4,746.8 230.6,745.6" fill="#8898e8" opacity="0.71"/>
<polygon points="230.6,733.9 232.9,731.3 239.7,732.4 237.4,735.1" fill="#f4eee0"/>
<polygon points="250.2,739.2 252.6,736.5 252.6,747.9 250.2,750.9" fill="url(#gPs)"/>
<polygon points="243.5,738.0 250.2,739.2 250.2,750.9 243.5,749.7" fill="url(#gPf)"/>
<polygon points="243.5,738.0 250.2,739.2 250.2,750.9 243.5,749.7" fill="#8898e8" opacity="0.71"/>
<polygon points="243.5,738.0 245.8,735.4 252.6,736.5 250.2,739.2" fill="#f4eee0"/>
<polygon points="263.1,743.3 265.5,740.6 265.5,752.0 263.1,755.0" fill="url(#gPs)"/>
<polygon points="256.4,742.1 263.1,743.3 263.1,755.0 256.4,753.8" fill="url(#gPf)"/>
<polygon points="256.4,742.1 263.1,743.3 263.1,755.0 256.4,753.8" fill="#8898e8" opacity="0.71"/>
<polygon points="256.4,742.1 258.7,739.5 265.5,740.6 263.1,743.3" fill="#f4eee0"/>
<polygon points="276.0,747.4 278.3,744.7 278.3,756.1 276.0,759.1" fill="url(#gPs)"/>
<polygon points="269.2,746.2 276.0,747.4 276.0,759.1 269.2,757.9" fill="url(#gPf)"/>
<polygon points="269.2,746.2 276.0,747.4 276.0,759.1 269.2,757.9" fill="#8898e8" opacity="0.71"/>
<polygon points="269.2,746.2 271.6,743.6 278.3,744.7 276.0,747.4" fill="#f4eee0"/>
<polygon points="288.9,751.5 291.2,748.8 291.2,760.2 288.9,763.2" fill="url(#gPs)"/>
<polygon points="282.1,750.3 288.9,751.5 288.9,763.2 282.1,762.0" fill="url(#gPf)"/>
<polygon points="282.1,750.3 288.9,751.5 288.9,763.2 282.1,762.0" fill="#8898e8" opacity="0.71"/>
<polygon points="282.1,750.3 284.4,747.7 291.2,748.8 288.9,751.5" fill="#f4eee0"/>
<polygon points="301.8,755.6 304.1,752.9 304.1,764.3 301.8,767.3" fill="url(#gPs)"/>
<polygon points="295.0,754.4 301.8,755.6 301.8,767.3 295.0,766.1" fill="url(#gPf)"/>
<polygon points="295.0,754.4 301.8,755.6 301.8,767.3 295.0,766.1" fill="#8898e8" opacity="0.71"/>
<polygon points="295.0,754.4 297.3,751.8 304.1,752.9 301.8,755.6" fill="#f4eee0"/>
<polygon points="314.7,759.7 317.0,757.0 317.0,768.4 314.7,771.4" fill="url(#gPs)"/>
<polygon points="307.9,758.5 314.7,759.7 314.7,771.4 307.9,770.2" fill="url(#gPf)"/>
<polygon points="307.9,758.5 314.7,759.7 314.7,771.4 307.9,770.2" fill="#8898e8" opacity="0.71"/>
<polygon points="307.9,758.5 310.2,755.9 317.0,757.0 314.7,759.7" fill="#f4eee0"/>
<polygon points="327.5,763.8 329.9,761.1 329.9,772.5 327.5,775.5" fill="url(#gPs)"/>
<polygon points="320.8,762.6 327.5,763.8 327.5,775.5 320.8,774.3" fill="url(#gPf)"/>
<polygon points="320.8,762.6 327.5,763.8 327.5,775.5 320.8,774.3" fill="#8898e8" opacity="0.71"/>
<polygon points="320.8,762.6 323.1,760.0 329.9,761.1 327.5,763.8" fill="#f4eee0"/>
<polygon points="340.4,767.9 342.7,765.2 342.7,776.6 340.4,779.6" fill="url(#gPs)"/>
<polygon points="333.7,766.7 340.4,767.9 340.4,779.6 333.7,778.4" fill="url(#gPf)"/>
<polygon points="333.7,766.7 336.0,764.1 342.7,765.2 340.4,767.9" fill="#f4eee0"/>
</g>
<g opacity="0.83">
<polygon points="182.2,724.5 184.5,721.8 184.5,733.4 182.2,736.4" fill="url(#gPs)"/>
<polygon points="175.3,723.3 182.2,724.5 182.2,736.4 175.3,735.2" fill="url(#gPf)"/>
<polygon points="175.3,723.3 182.2,724.5 182.2,736.4 175.3,735.2" fill="#b8a0e0" opacity="0.65"/>
<polygon points="175.3,723.3 177.6,720.7 184.5,721.8 182.2,724.5" fill="#f4eee0"/>
<polygon points="195.1,728.6 197.5,725.9 197.5,737.5 195.1,740.5" fill="url(#gPs)"/>
<polygon points="188.2,727.4 195.1,728.6 195.1,740.5 188.2,739.3" fill="url(#gPf)"/>
<polygon points="188.2,727.4 195.1,728.6 195.1,740.5 188.2,739.3" fill="#b8a0e0" opacity="0.65"/>
<polygon points="188.2,727.4 190.6,724.8 197.5,725.9 195.1,728.6" fill="#f4eee0"/>
<polygon points="208.0,732.7 210.4,730.0 210.4,741.6 208.0,744.6" fill="url(#gPs)"/>
<polygon points="201.1,731.5 208.0,732.7 208.0,744.6 201.1,743.4" fill="url(#gPf)"/>
<polygon points="201.1,731.5 208.0,732.7 208.0,744.6 201.1,743.4" fill="#b8a0e0" opacity="0.65"/>
<polygon points="201.1,731.5 203.5,728.9 210.4,730.0 208.0,732.7" fill="#f4eee0"/>
<polygon points="221.0,736.8 223.3,734.1 223.3,745.7 221.0,748.7" fill="url(#gPs)"/>
<polygon points="214.1,735.6 221.0,736.8 221.0,748.7 214.1,747.5" fill="url(#gPf)"/>
<polygon points="214.1,735.6 221.0,736.8 221.0,748.7 214.1,747.5" fill="#b8a0e0" opacity="0.65"/>
<polygon points="214.1,735.6 216.4,733.0 223.3,734.1 221.0,736.8" fill="#f4eee0"/>
<polygon points="233.9,740.9 236.3,738.2 236.3,749.8 233.9,752.8" fill="url(#gPs)"/>
<polygon points="227.0,739.7 233.9,740.9 233.9,752.8 227.0,751.6" fill="url(#gPf)"/>
<polygon points="227.0,739.7 233.9,740.9 233.9,752.8 227.0,751.6" fill="#b8a0e0" opacity="0.65"/>
<polygon points="227.0,739.7 229.4,737.1 236.3,738.2 233.9,740.9" fill="#f4eee0"/>
<polygon points="246.8,745.0 249.2,742.3 249.2,753.9 246.8,756.9" fill="url(#gPs)"/>
<polygon points="239.9,743.8 246.8,745.0 246.8,756.9 239.9,755.7" fill="url(#gPf)"/>
<polygon points="239.9,743.8 246.8,745.0 246.8,756.9 239.9,755.7" fill="#b8a0e0" opacity="0.65"/>
<polygon points="239.9,743.8 242.3,741.2 249.2,742.3 246.8,745.0" fill="#f4eee0"/>
<polygon points="259.8,749.1 262.1,746.4 262.1,758.0 259.8,761.0" fill="url(#gPs)"/>
<polygon points="252.9,747.9 259.8,749.1 259.8,761.0 252.9,759.8" fill="url(#gPf)"/>
<polygon points="252.9,747.9 259.8,749.1 259.8,761.0 252.9,759.8" fill="#b8a0e0" opacity="0.65"/>
<polygon points="252.9,747.9 255.2,745.3 262.1,746.4 259.8,749.1" fill="#f4eee0"/>
<polygon points="272.7,753.2 275.1,750.5 275.1,762.1 272.7,765.1" fill="url(#gPs)"/>
<polygon points="265.8,752.0 272.7,753.2 272.7,765.1 265.8,763.9" fill="url(#gPf)"/>
<polygon points="265.8,752.0 272.7,753.2 272.7,765.1 265.8,763.9" fill="#b8a0e0" opacity="0.65"/>
<polygon points="265.8,752.0 268.2,749.4 275.1,750.5 272.7,753.2" fill="#f4eee0"/>
<polygon points="285.7,757.3 288.0,754.6 288.0,766.2 285.7,769.2" fill="url(#gPs)"/>
<polygon points="278.7,756.1 285.7,757.3 285.7,769.2 278.7,768.0" fill="url(#gPf)"/>
<polygon points="278.7,756.1 285.7,757.3 285.7,769.2 278.7,768.0" fill="#b8a0e0" opacity="0.65"/>
<polygon points="278.7,756.1 281.1,753.5 288.0,754.6 285.7,757.3" fill="#f4eee0"/>
<polygon points="298.6,761.4 301.0,758.7 301.0,770.3 298.6,773.3" fill="url(#gPs)"/>
<polygon points="291.7,760.2 298.6,761.4 298.6,773.3 291.7,772.1" fill="url(#gPf)"/>
<polygon points="291.7,760.2 298.6,761.4 298.6,773.3 291.7,772.1" fill="#b8a0e0" opacity="0.65"/>
<polygon points="291.7,760.2 294.0,757.6 301.0,758.7 298.6,761.4" fill="#f4eee0"/>
<polygon points="311.5,765.5 313.9,762.8 313.9,774.4 311.5,777.4" fill="url(#gPs)"/>
<polygon points="304.6,764.3 311.5,765.5 311.5,777.4 304.6,776.2" fill="url(#gPf)"/>
<polygon points="304.6,764.3 311.5,765.5 311.5,777.4 304.6,776.2" fill="#b8a0e0" opacity="0.65"/>
<polygon points="304.6,764.3 307.0,761.7 313.9,762.8 311.5,765.5" fill="#f4eee0"/>
<polygon points="324.5,769.6 326.8,766.9 326.8,778.5 324.5,781.5" fill="url(#gPs)"/>
<polygon points="317.5,768.4 324.5,769.6 324.5,781.5 317.5,780.3" fill="url(#gPf)"/>
<polygon points="317.5,768.4 324.5,769.6 324.5,781.5 317.5,780.3" fill="#b8a0e0" opacity="0.65"/>
<polygon points="317.5,768.4 319.9,765.8 326.8,766.9 324.5,769.6" fill="#f4eee0"/>
<polygon points="337.4,773.7 339.8,771.0 339.8,782.6 337.4,785.6" fill="url(#gPs)"/>
<polygon points="330.5,772.5 337.4,773.7 337.4,785.6 330.5,784.4" fill="url(#gPf)"/>
<polygon points="330.5,772.5 332.8,769.9 339.8,771.0 337.4,773.7" fill="#f4eee0"/>
</g>
<g opacity="0.89">
<polygon points="178.4,730.4 180.8,727.7 180.8,739.5 178.4,742.5" fill="url(#gPs)"/>
<polygon points="171.3,729.2 178.4,730.4 178.4,742.5 171.3,741.3" fill="url(#gPf)"/>
<polygon points="171.3,729.2 178.4,730.4 178.4,742.5 171.3,741.3" fill="#b8a0e0" opacity="0.59"/>
<polygon points="171.3,729.2 173.8,726.6 180.8,727.7 178.4,730.4" fill="#f4eee0"/>
<polygon points="191.4,734.5 193.8,731.8 193.8,743.6 191.4,746.6" fill="url(#gPs)"/>
<polygon points="184.3,733.3 191.4,734.5 191.4,746.6 184.3,745.4" fill="url(#gPf)"/>
<polygon points="184.3,733.3 191.4,734.5 191.4,746.6 184.3,745.4" fill="#b8a0e0" opacity="0.59"/>
<polygon points="184.3,733.3 186.7,730.7 193.8,731.8 191.4,734.5" fill="#f4eee0"/>
<polygon points="204.4,738.6 206.8,735.9 206.8,747.7 204.4,750.7" fill="url(#gPs)"/>
<polygon points="197.3,737.4 204.4,738.6 204.4,750.7 197.3,749.5" fill="url(#gPf)"/>
<polygon points="197.3,737.4 204.4,738.6 204.4,750.7 197.3,749.5" fill="#b8a0e0" opacity="0.59"/>
<polygon points="197.3,737.4 199.7,734.8 206.8,735.9 204.4,738.6" fill="#f4eee0"/>
<polygon points="217.4,742.7 219.8,740.0 219.8,751.8 217.4,754.8" fill="url(#gPs)"/>
<polygon points="210.3,741.5 217.4,742.7 217.4,754.8 210.3,753.6" fill="url(#gPf)"/>
<polygon points="210.3,741.5 217.4,742.7 217.4,754.8 210.3,753.6" fill="#b8a0e0" opacity="0.59"/>
<polygon points="210.3,741.5 212.7,738.9 219.8,740.0 217.4,742.7" fill="#f4eee0"/>
<polygon points="230.4,746.8 232.8,744.1 232.8,755.9 230.4,758.9" fill="url(#gPs)"/>
<polygon points="223.3,745.6 230.4,746.8 230.4,758.9 223.3,757.7" fill="url(#gPf)"/>
<polygon points="223.3,745.6 230.4,746.8 230.4,758.9 223.3,757.7" fill="#b8a0e0" opacity="0.59"/>
<polygon points="223.3,745.6 225.7,743.0 232.8,744.1 230.4,746.8" fill="#f4eee0"/>
<polygon points="243.3,750.9 245.8,748.2 245.8,760.0 243.3,763.0" fill="url(#gPs)"/>
<polygon points="236.3,749.7 243.3,750.9 243.3,763.0 236.3,761.8" fill="url(#gPf)"/>
<polygon points="236.3,749.7 243.3,750.9 243.3,763.0 236.3,761.8" fill="#b8a0e0" opacity="0.59"/>
<polygon points="236.3,749.7 238.7,747.1 245.8,748.2 243.3,750.9" fill="#f4eee0"/>
<polygon points="256.3,755.0 258.7,752.3 258.7,764.1 256.3,767.1" fill="url(#gPs)"/>
<polygon points="249.3,753.8 256.3,755.0 256.3,767.1 249.3,765.9" fill="url(#gPf)"/>
<polygon points="249.3,753.8 256.3,755.0 256.3,767.1 249.3,765.9" fill="#b8a0e0" opacity="0.59"/>
<polygon points="249.3,753.8 251.7,751.2 258.7,752.3 256.3,755.0" fill="#f4eee0"/>
<polygon points="269.3,759.1 271.7,756.4 271.7,768.2 269.3,771.2" fill="url(#gPs)"/>
<polygon points="262.3,757.9 269.3,759.1 269.3,771.2 262.3,770.0" fill="url(#gPf)"/>
<polygon points="262.3,757.9 269.3,759.1 269.3,771.2 262.3,770.0" fill="#b8a0e0" opacity="0.59"/>
<polygon points="262.3,757.9 264.7,755.3 271.7,756.4 269.3,759.1" fill="#f4eee0"/>
<polygon points="282.3,763.2 284.7,760.5 284.7,772.3 282.3,775.3" fill="url(#gPs)"/>
<polygon points="275.3,762.0 282.3,763.2 282.3,775.3 275.3,774.1" fill="url(#gPf)"/>
<polygon points="275.3,762.0 282.3,763.2 282.3,775.3 275.3,774.1" fill="#b8a0e0" opacity="0.59"/>
<polygon points="275.3,762.0 277.7,759.4 284.7,760.5 282.3,763.2" fill="#f4eee0"/>
<polygon points="295.3,767.3 297.7,764.6 297.7,776.4 295.3,779.4" fill="url(#gPs)"/>
<polygon points="288.2,766.1 295.3,767.3 295.3,779.4 288.2,778.2" fill="url(#gPf)"/>
<polygon points="288.2,766.1 295.3,767.3 295.3,779.4 288.2,778.2" fill="#b8a0e0" opacity="0.59"/>
<polygon points="288.2,766.1 290.7,763.5 297.7,764.6 295.3,767.3" fill="#f4eee0"/>
<polygon points="308.3,771.4 310.7,768.7 310.7,780.5 308.3,783.5" fill="url(#gPs)"/>
<polygon points="301.2,770.2 308.3,771.4 308.3,783.5 301.2,782.3" fill="url(#gPf)"/>
<polygon points="301.2,770.2 308.3,771.4 308.3,783.5 301.2,782.3" fill="#b8a0e0" opacity="0.59"/>
<polygon points="301.2,770.2 303.6,767.6 310.7,768.7 308.3,771.4" fill="#f4eee0"/>
<polygon points="321.3,775.5 323.7,772.8 323.7,784.6 321.3,787.6" fill="url(#gPs)"/>
<polygon points="314.2,774.3 321.3,775.5 321.3,787.6 314.2,786.4" fill="url(#gPf)"/>
<polygon points="314.2,774.3 321.3,775.5 321.3,787.6 314.2,786.4" fill="#b8a0e0" opacity="0.59"/>
<polygon points="314.2,774.3 316.6,771.7 323.7,772.8 321.3,775.5" fill="#f4eee0"/>
<polygon points="334.3,779.6 336.7,776.9 336.7,788.7 334.3,791.7" fill="url(#gPs)"/>
<polygon points="327.2,778.4 334.3,779.6 334.3,791.7 327.2,790.5" fill="url(#gPf)"/>
<polygon points="327.2,778.4 329.6,775.8 336.7,776.9 334.3,779.6" fill="#f4eee0"/>
</g>
<g opacity="0.94">
<polygon points="174.5,736.5 177.0,733.8 177.0,745.8 174.5,748.8" fill="url(#gPs)"/>
<polygon points="167.3,735.3 174.5,736.5 174.5,748.8 167.3,747.6" fill="url(#gPf)"/>
<polygon points="167.3,735.3 174.5,736.5 174.5,748.8 167.3,747.6" fill="#b8a0e0" opacity="0.53"/>
<polygon points="167.3,735.3 169.8,732.7 177.0,733.8 174.5,736.5" fill="#f4eee0"/>
<polygon points="187.6,740.6 190.0,737.9 190.0,749.9 187.6,752.9" fill="url(#gPs)"/>
<polygon points="180.4,739.4 187.6,740.6 187.6,752.9 180.4,751.7" fill="url(#gPf)"/>
<polygon points="180.4,739.4 187.6,740.6 187.6,752.9 180.4,751.7" fill="#b8a0e0" opacity="0.53"/>
<polygon points="180.4,739.4 182.8,736.8 190.0,737.9 187.6,740.6" fill="#f4eee0"/>
<polygon points="200.6,744.7 203.1,742.0 203.1,754.0 200.6,757.0" fill="url(#gPs)"/>
<polygon points="193.4,743.5 200.6,744.7 200.6,757.0 193.4,755.8" fill="url(#gPf)"/>
<polygon points="193.4,743.5 200.6,744.7 200.6,757.0 193.4,755.8" fill="#b8a0e0" opacity="0.53"/>
<polygon points="193.4,743.5 195.9,740.9 203.1,742.0 200.6,744.7" fill="#f4eee0"/>
<polygon points="213.7,748.8 216.1,746.1 216.1,758.1 213.7,761.1" fill="url(#gPs)"/>
<polygon points="206.5,747.6 213.7,748.8 213.7,761.1 206.5,759.9" fill="url(#gPf)"/>
<polygon points="206.5,747.6 213.7,748.8 213.7,761.1 206.5,759.9" fill="#b8a0e0" opacity="0.53"/>
<polygon points="206.5,747.6 208.9,745.0 216.1,746.1 213.7,748.8" fill="#f4eee0"/>
<polygon points="226.7,752.9 229.2,750.2 229.2,762.2 226.7,765.2" fill="url(#gPs)"/>
<polygon points="219.5,751.7 226.7,752.9 226.7,765.2 219.5,764.0" fill="url(#gPf)"/>
<polygon points="219.5,751.7 226.7,752.9 226.7,765.2 219.5,764.0" fill="#b8a0e0" opacity="0.53"/>
<polygon points="219.5,751.7 222.0,749.1 229.2,750.2 226.7,752.9" fill="#f4eee0"/>
<polygon points="239.7,757.0 242.2,754.3 242.2,766.3 239.7,769.3" fill="url(#gPs)"/>
<polygon points="232.5,755.8 239.7,757.0 239.7,769.3 232.5,768.1" fill="url(#gPf)"/>
<polygon points="232.5,755.8 239.7,757.0 239.7,769.3 232.5,768.1" fill="#b8a0e0" opacity="0.53"/>
<polygon points="232.5,755.8 235.0,753.2 242.2,754.3 239.7,757.0" fill="#f4eee0"/>
<polygon points="252.8,761.1 255.2,758.4 255.2,770.4 252.8,773.4" fill="url(#gPs)"/>
<polygon points="245.6,759.9 252.8,761.1 252.8,773.4 245.6,772.2" fill="url(#gPf)"/>
<polygon points="245.6,759.9 252.8,761.1 252.8,773.4 245.6,772.2" fill="#b8a0e0" opacity="0.53"/>
<polygon points="245.6,759.9 248.0,757.3 255.2,758.4 252.8,761.1" fill="#f4eee0"/>
<polygon points="265.8,765.2 268.3,762.5 268.3,774.5 265.8,777.5" fill="url(#gPs)"/>
<polygon points="258.6,764.0 265.8,765.2 265.8,777.5 258.6,776.3" fill="url(#gPf)"/>
<polygon points="258.6,764.0 265.8,765.2 265.8,777.5 258.6,776.3" fill="#b8a0e0" opacity="0.53"/>
<polygon points="258.6,764.0 261.1,761.4 268.3,762.5 265.8,765.2" fill="#f4eee0"/>
<polygon points="278.9,769.3 281.3,766.6 281.3,778.6 278.9,781.6" fill="url(#gPs)"/>
<polygon points="271.7,768.1 278.9,769.3 278.9,781.6 271.7,780.4" fill="url(#gPf)"/>
<polygon points="271.7,768.1 278.9,769.3 278.9,781.6 271.7,780.4" fill="#b8a0e0" opacity="0.53"/>
<polygon points="271.7,768.1 274.1,765.5 281.3,766.6 278.9,769.3" fill="#f4eee0"/>
<polygon points="291.9,773.4 294.4,770.7 294.4,782.7 291.9,785.7" fill="url(#gPs)"/>
<polygon points="284.7,772.2 291.9,773.4 291.9,785.7 284.7,784.5" fill="url(#gPf)"/>
<polygon points="284.7,772.2 291.9,773.4 291.9,785.7 284.7,784.5" fill="#b8a0e0" opacity="0.53"/>
<polygon points="284.7,772.2 287.2,769.6 294.4,770.7 291.9,773.4" fill="#f4eee0"/>
<polygon points="304.9,777.5 307.4,774.8 307.4,786.8 304.9,789.8" fill="url(#gPs)"/>
<polygon points="297.8,776.3 304.9,777.5 304.9,789.8 297.8,788.6" fill="url(#gPf)"/>
<polygon points="297.8,776.3 304.9,777.5 304.9,789.8 297.8,788.6" fill="#b8a0e0" opacity="0.53"/>
<polygon points="297.8,776.3 300.2,773.7 307.4,774.8 304.9,777.5" fill="#f4eee0"/>
<polygon points="318.0,781.6 320.4,778.9 320.4,790.9 318.0,793.9" fill="url(#gPs)"/>
<polygon points="310.8,780.4 318.0,781.6 318.0,793.9 310.8,792.7" fill="url(#gPf)"/>
<polygon points="310.8,780.4 318.0,781.6 318.0,793.9 310.8,792.7" fill="#b8a0e0" opacity="0.53"/>
<polygon points="310.8,780.4 313.3,777.8 320.4,778.9 318.0,781.6" fill="#f4eee0"/>
<polygon points="331.0,785.7 333.5,783.0 333.5,795.0 331.0,798.0" fill="url(#gPs)"/>
<polygon points="323.8,784.5 331.0,785.7 331.0,798.0 323.8,796.8" fill="url(#gPf)"/>
<polygon points="323.8,784.5 326.3,781.9 333.5,783.0 331.0,785.7" fill="#f4eee0"/>
</g>
<g opacity="1.00">
<polygon points="170.6,742.7 173.1,740.0 173.1,752.3 170.6,755.3" fill="url(#gPs)"/>
<polygon points="163.2,741.5 170.6,742.7 170.6,755.3 163.2,754.1" fill="url(#gPf)"/>
<polygon points="163.2,741.5 170.6,742.7 170.6,755.3 163.2,754.1" fill="#e8a8c8" opacity="0.47"/>
<polygon points="163.2,741.5 165.7,738.9 173.1,740.0 170.6,742.7" fill="#f4eee0"/>
<polygon points="183.7,746.8 186.2,744.1 186.2,756.4 183.7,759.4" fill="url(#gPs)"/>
<polygon points="176.3,745.6 183.7,746.8 183.7,759.4 176.3,758.2" fill="url(#gPf)"/>
<polygon points="176.3,745.6 183.7,746.8 183.7,759.4 176.3,758.2" fill="#e8a8c8" opacity="0.47"/>
<polygon points="176.3,745.6 178.8,743.0 186.2,744.1 183.7,746.8" fill="#f4eee0"/>
<polygon points="196.7,750.9 199.3,748.2 199.3,760.5 196.7,763.5" fill="url(#gPs)"/>
<polygon points="189.4,749.7 196.7,750.9 196.7,763.5 189.4,762.3" fill="url(#gPf)"/>
<polygon points="189.4,749.7 196.7,750.9 196.7,763.5 189.4,762.3" fill="#e8a8c8" opacity="0.47"/>
<polygon points="189.4,749.7 191.9,747.1 199.3,748.2 196.7,750.9" fill="#f4eee0"/>
<polygon points="209.8,755.0 212.3,752.3 212.3,764.6 209.8,767.6" fill="url(#gPs)"/>
<polygon points="202.5,753.8 209.8,755.0 209.8,767.6 202.5,766.4" fill="url(#gPf)"/>
<polygon points="202.5,753.8 209.8,755.0 209.8,767.6 202.5,766.4" fill="#e8a8c8" opacity="0.47"/>
<polygon points="202.5,753.8 205.0,751.2 212.3,752.3 209.8,755.0" fill="#f4eee0"/>
<polygon points="222.9,759.1 225.4,756.4 225.4,768.7 222.9,771.7" fill="url(#gPs)"/>
<polygon points="215.6,757.9 222.9,759.1 222.9,771.7 215.6,770.5" fill="url(#gPf)"/>
<polygon points="215.6,757.9 222.9,759.1 222.9,771.7 215.6,770.5" fill="#e8a8c8" opacity="0.47"/>
<polygon points="215.6,757.9 218.1,755.3 225.4,756.4 222.9,759.1" fill="#f4eee0"/>
<polygon points="236.0,763.2 238.5,760.5 238.5,772.8 236.0,775.8" fill="url(#gPs)"/>
<polygon points="228.7,762.0 236.0,763.2 236.0,775.8 228.7,774.6" fill="url(#gPf)"/>
<polygon points="228.7,762.0 236.0,763.2 236.0,775.8 228.7,774.6" fill="#e8a8c8" opacity="0.47"/>
<polygon points="228.7,762.0 231.2,759.4 238.5,760.5 236.0,763.2" fill="#f4eee0"/>
<polygon points="249.1,767.3 251.6,764.6 251.6,776.9 249.1,779.9" fill="url(#gPs)"/>
<polygon points="241.8,766.1 249.1,767.3 249.1,779.9 241.8,778.7" fill="url(#gPf)"/>
<polygon points="241.8,766.1 249.1,767.3 249.1,779.9 241.8,778.7" fill="#e8a8c8" opacity="0.47"/>
<polygon points="241.8,766.1 244.3,763.5 251.6,764.6 249.1,767.3" fill="#f4eee0"/>
<polygon points="262.2,771.4 264.7,768.7 264.7,781.0 262.2,784.0" fill="url(#gPs)"/>
<polygon points="254.9,770.2 262.2,771.4 262.2,784.0 254.9,782.8" fill="url(#gPf)"/>
<polygon points="254.9,770.2 262.2,771.4 262.2,784.0 254.9,782.8" fill="#e8a8c8" opacity="0.47"/>
<polygon points="254.9,770.2 257.4,767.6 264.7,768.7 262.2,771.4" fill="#f4eee0"/>
<polygon points="275.3,775.5 277.8,772.8 277.8,785.1 275.3,788.1" fill="url(#gPs)"/>
<polygon points="268.0,774.3 275.3,775.5 275.3,788.1 268.0,786.9" fill="url(#gPf)"/>
<polygon points="268.0,774.3 275.3,775.5 275.3,788.1 268.0,786.9" fill="#e8a8c8" opacity="0.47"/>
<polygon points="268.0,774.3 270.5,771.7 277.8,772.8 275.3,775.5" fill="#f4eee0"/>
<polygon points="288.4,779.6 290.9,776.9 290.9,789.2 288.4,792.2" fill="url(#gPs)"/>
<polygon points="281.1,778.4 288.4,779.6 288.4,792.2 281.1,791.0" fill="url(#gPf)"/>
<polygon points="281.1,778.4 288.4,779.6 288.4,792.2 281.1,791.0" fill="#e8a8c8" opacity="0.47"/>
<polygon points="281.1,778.4 283.6,775.8 290.9,776.9 288.4,779.6" fill="#f4eee0"/>
<polygon points="301.5,783.7 304.0,781.0 304.0,793.3 301.5,796.3" fill="url(#gPs)"/>
<polygon points="294.2,782.5 301.5,783.7 301.5,796.3 294.2,795.1" fill="url(#gPf)"/>
<polygon points="294.2,782.5 301.5,783.7 301.5,796.3 294.2,795.1" fill="#e8a8c8" opacity="0.47"/>
<polygon points="294.2,782.5 296.7,779.9 304.0,781.0 301.5,783.7" fill="#f4eee0"/>
<polygon points="314.6,787.8 317.1,785.1 317.1,797.4 314.6,800.4" fill="url(#gPs)"/>
<polygon points="307.3,786.6 314.6,787.8 314.6,800.4 307.3,799.2" fill="url(#gPf)"/>
<polygon points="307.3,786.6 314.6,787.8 314.6,800.4 307.3,799.2" fill="#e8a8c8" opacity="0.47"/>
<polygon points="307.3,786.6 309.8,784.0 317.1,785.1 314.6,787.8" fill="#f4eee0"/>
<polygon points="327.7,791.9 330.2,789.2 330.2,801.5 327.7,804.5" fill="url(#gPs)"/>
<polygon points="320.4,790.7 327.7,791.9 327.7,804.5 320.4,803.3" fill="url(#gPf)"/>
<polygon points="320.4,790.7 322.9,788.1 330.2,789.2 327.7,791.9" fill="#f4eee0"/>
</g>
<g opacity="1.00">
<polygon points="166.5,749.1 169.0,746.4 169.0,759.0 166.5,762.0" fill="url(#gPs)"/>
<polygon points="159.0,747.9 166.5,749.1 166.5,762.0 159.0,760.8" fill="url(#gPf)"/>
<polygon points="159.0,747.9 166.5,749.1 166.5,762.0 159.0,760.8" fill="#e8a8c8" opacity="0.41"/>
<polygon points="159.0,747.9 161.6,745.3 169.0,746.4 166.5,749.1" fill="#f4eee0"/>
<polygon points="179.6,753.2 182.2,750.5 182.2,763.1 179.6,766.1" fill="url(#gPs)"/>
<polygon points="172.2,752.0 179.6,753.2 179.6,766.1 172.2,764.9" fill="url(#gPf)"/>
<polygon points="172.2,752.0 179.6,753.2 179.6,766.1 172.2,764.9" fill="#e8a8c8" opacity="0.41"/>
<polygon points="172.2,752.0 174.7,749.4 182.2,750.5 179.6,753.2" fill="#f4eee0"/>
<polygon points="192.8,757.3 195.3,754.6 195.3,767.2 192.8,770.2" fill="url(#gPs)"/>
<polygon points="185.3,756.1 192.8,757.3 192.8,770.2 185.3,769.0" fill="url(#gPf)"/>
<polygon points="185.3,756.1 192.8,757.3 192.8,770.2 185.3,769.0" fill="#e8a8c8" opacity="0.41"/>
<polygon points="185.3,756.1 187.9,753.5 195.3,754.6 192.8,757.3" fill="#f4eee0"/>
<polygon points="205.9,761.4 208.5,758.7 208.5,771.3 205.9,774.3" fill="url(#gPs)"/>
<polygon points="198.5,760.2 205.9,761.4 205.9,774.3 198.5,773.1" fill="url(#gPf)"/>
<polygon points="198.5,760.2 205.9,761.4 205.9,774.3 198.5,773.1" fill="#e8a8c8" opacity="0.41"/>
<polygon points="198.5,760.2 201.0,757.6 208.5,758.7 205.9,761.4" fill="#f4eee0"/>
<polygon points="219.1,765.5 221.6,762.8 221.6,775.4 219.1,778.4" fill="url(#gPs)"/>
<polygon points="211.6,764.3 219.1,765.5 219.1,778.4 211.6,777.2" fill="url(#gPf)"/>
<polygon points="211.6,764.3 219.1,765.5 219.1,778.4 211.6,777.2" fill="#e8a8c8" opacity="0.41"/>
<polygon points="211.6,764.3 214.2,761.7 221.6,762.8 219.1,765.5" fill="#f4eee0"/>
<polygon points="232.2,769.6 234.8,766.9 234.8,779.5 232.2,782.5" fill="url(#gPs)"/>
<polygon points="224.8,768.4 232.2,769.6 232.2,782.5 224.8,781.3" fill="url(#gPf)"/>
<polygon points="224.8,768.4 232.2,769.6 232.2,782.5 224.8,781.3" fill="#e8a8c8" opacity="0.41"/>
<polygon points="224.8,768.4 227.3,765.8 234.8,766.9 232.2,769.6" fill="#f4eee0"/>
<polygon points="245.4,773.7 247.9,771.0 247.9,783.6 245.4,786.6" fill="url(#gPs)"/>
<polygon points="237.9,772.5 245.4,773.7 245.4,786.6 237.9,785.4" fill="url(#gPf)"/>
<polygon points="237.9,772.5 245.4,773.7 245.4,786.6 237.9,785.4" fill="#e8a8c8" opacity="0.41"/>
<polygon points="237.9,772.5 240.5,769.9 247.9,771.0 245.4,773.7" fill="#f4eee0"/>
<polygon points="258.5,777.8 261.1,775.1 261.1,787.7 258.5,790.7" fill="url(#gPs)"/>
<polygon points="251.0,776.6 258.5,777.8 258.5,790.7 251.0,789.5" fill="url(#gPf)"/>
<polygon points="251.0,776.6 258.5,777.8 258.5,790.7 251.0,789.5" fill="#e8a8c8" opacity="0.41"/>
<polygon points="251.0,776.6 253.6,774.0 261.1,775.1 258.5,777.8" fill="#f4eee0"/>
<polygon points="271.7,781.9 274.2,779.2 274.2,791.8 271.7,794.8" fill="url(#gPs)"/>
<polygon points="264.2,780.7 271.7,781.9 271.7,794.8 264.2,793.6" fill="url(#gPf)"/>
<polygon points="264.2,780.7 271.7,781.9 271.7,794.8 264.2,793.6" fill="#e8a8c8" opacity="0.41"/>
<polygon points="264.2,780.7 266.7,778.1 274.2,779.2 271.7,781.9" fill="#f4eee0"/>
<polygon points="284.8,786.0 287.4,783.3 287.4,795.9 284.8,798.9" fill="url(#gPs)"/>
<polygon points="277.3,784.8 284.8,786.0 284.8,798.9 277.3,797.7" fill="url(#gPf)"/>
<polygon points="277.3,784.8 284.8,786.0 284.8,798.9 277.3,797.7" fill="#e8a8c8" opacity="0.41"/>
<polygon points="277.3,784.8 279.9,782.2 287.4,783.3 284.8,786.0" fill="#f4eee0"/>
<polygon points="298.0,790.1 300.5,787.4 300.5,800.0 298.0,803.0" fill="url(#gPs)"/>
<polygon points="290.5,788.9 298.0,790.1 298.0,803.0 290.5,801.8" fill="url(#gPf)"/>
<polygon points="290.5,788.9 298.0,790.1 298.0,803.0 290.5,801.8" fill="#e8a8c8" opacity="0.41"/>
<polygon points="290.5,788.9 293.0,786.3 300.5,787.4 298.0,790.1" fill="#f4eee0"/>
<polygon points="311.1,794.2 313.7,791.5 313.7,804.1 311.1,807.1" fill="url(#gPs)"/>
<polygon points="303.6,793.0 311.1,794.2 311.1,807.1 303.6,805.9" fill="url(#gPf)"/>
<polygon points="303.6,793.0 311.1,794.2 311.1,807.1 303.6,805.9" fill="#e8a8c8" opacity="0.41"/>
<polygon points="303.6,793.0 306.2,790.4 313.7,791.5 311.1,794.2" fill="#f4eee0"/>
<polygon points="324.2,798.3 326.8,795.6 326.8,808.2 324.2,811.2" fill="url(#gPs)"/>
<polygon points="316.8,797.1 324.2,798.3 324.2,811.2 316.8,810.0" fill="url(#gPf)"/>
<polygon points="316.8,797.1 319.3,794.5 326.8,795.6 324.2,798.3" fill="#f4eee0"/>
</g>
<g opacity="1.00">
<polygon points="162.3,755.7 164.9,753.0 164.9,765.8 162.3,768.8" fill="url(#gPs)"/>
<polygon points="154.7,754.5 162.3,755.7 162.3,768.8 154.7,767.6" fill="url(#gPf)"/>
<polygon points="154.7,754.5 157.3,751.9 164.9,753.0 162.3,755.7" fill="#f4eee0"/>
<polygon points="175.5,759.8 178.1,757.1 178.1,769.9 175.5,772.9" fill="url(#gPs)"/>
<polygon points="167.9,758.6 175.5,759.8 175.5,772.9 167.9,771.7" fill="url(#gPf)"/>
<polygon points="167.9,758.6 170.5,756.0 178.1,757.1 175.5,759.8" fill="#f4eee0"/>
<polygon points="188.7,763.9 191.3,761.2 191.3,774.0 188.7,777.0" fill="url(#gPs)"/>
<polygon points="181.1,762.7 188.7,763.9 188.7,777.0 181.1,775.8" fill="url(#gPf)"/>
<polygon points="181.1,762.7 183.7,760.1 191.3,761.2 188.7,763.9" fill="#f4eee0"/>
<polygon points="201.9,768.0 204.5,765.3 204.5,778.1 201.9,781.1" fill="url(#gPs)"/>
<polygon points="194.3,766.8 201.9,768.0 201.9,781.1 194.3,779.9" fill="url(#gPf)"/>
<polygon points="194.3,766.8 196.9,764.2 204.5,765.3 201.9,768.0" fill="#f4eee0"/>
<polygon points="215.1,772.1 217.7,769.4 217.7,782.2 215.1,785.2" fill="url(#gPs)"/>
<polygon points="207.5,770.9 215.1,772.1 215.1,785.2 207.5,784.0" fill="url(#gPf)"/>
<polygon points="207.5,770.9 210.1,768.3 217.7,769.4 215.1,772.1" fill="#f4eee0"/>
<polygon points="228.3,776.2 230.9,773.5 230.9,786.3 228.3,789.3" fill="url(#gPs)"/>
<polygon points="220.7,775.0 228.3,776.2 228.3,789.3 220.7,788.1" fill="url(#gPf)"/>
<polygon points="220.7,775.0 223.3,772.4 230.9,773.5 228.3,776.2" fill="#f4eee0"/>
<polygon points="241.5,780.3 244.1,777.6 244.1,790.4 241.5,793.4" fill="url(#gPs)"/>
<polygon points="233.9,779.1 241.5,780.3 241.5,793.4 233.9,792.2" fill="url(#gPf)"/>
<polygon points="233.9,779.1 236.5,776.5 244.1,777.6 241.5,780.3" fill="#f4eee0"/>
<polygon points="254.7,784.4 257.3,781.7 257.3,794.5 254.7,797.5" fill="url(#gPs)"/>
<polygon points="247.1,783.2 254.7,784.4 254.7,797.5 247.1,796.3" fill="url(#gPf)"/>
<polygon points="247.1,783.2 249.7,780.6 257.3,781.7 254.7,784.4" fill="#f4eee0"/>
<polygon points="267.9,788.5 270.5,785.8 270.5,798.6 267.9,801.6" fill="url(#gPs)"/>
<polygon points="260.3,787.3 267.9,788.5 267.9,801.6 260.3,800.4" fill="url(#gPf)"/>
<polygon points="260.3,787.3 262.9,784.7 270.5,785.8 267.9,788.5" fill="#f4eee0"/>
<polygon points="281.1,792.6 283.7,789.9 283.7,802.7 281.1,805.7" fill="url(#gPs)"/>
<polygon points="273.5,791.4 281.1,792.6 281.1,805.7 273.5,804.5" fill="url(#gPf)"/>
<polygon points="273.5,791.4 276.1,788.8 283.7,789.9 281.1,792.6" fill="#f4eee0"/>
<polygon points="294.3,796.7 296.9,794.0 296.9,806.8 294.3,809.8" fill="url(#gPs)"/>
<polygon points="286.7,795.5 294.3,796.7 294.3,809.8 286.7,808.6" fill="url(#gPf)"/>
<polygon points="286.7,795.5 289.3,792.9 296.9,794.0 294.3,796.7" fill="#f4eee0"/>
<polygon points="307.5,800.8 310.1,798.1 310.1,810.9 307.5,813.9" fill="url(#gPs)"/>
<polygon points="299.9,799.6 307.5,800.8 307.5,813.9 299.9,812.7" fill="url(#gPf)"/>
<polygon points="299.9,799.6 302.5,797.0 310.1,798.1 307.5,800.8" fill="#f4eee0"/>
<polygon points="320.7,804.9 323.3,802.2 323.3,815.0 320.7,818.0" fill="url(#gPs)"/>
<polygon points="313.1,803.7 320.7,804.9 320.7,818.0 313.1,816.8" fill="url(#gPf)"/>
<polygon points="313.1,803.7 315.7,801.1 323.3,802.2 320.7,804.9" fill="#f4eee0"/>
</g>
<polygon points="166.0,752.0 176.0,722.0 192.0,680.0 216.0,628.0 300.0,622.0 370.0,648.0 373.0,700.0 371.0,732.0 352.0,765.0 330.0,790.0 250.0,775.0" fill="url(#gGlow)" filter="url(#b3)"/>
<g filter="url(#b1)">
<rect x="188.9" y="718.6" width="2.7" height="20.1" fill="#30d0f8" opacity="0.26"/>
<rect x="197.1" y="698.3" width="3.1" height="62.1" fill="#40e8ff" opacity="0.41"/>
<rect x="202.9" y="683.7" width="4.9" height="46.3" fill="#30d0f8" opacity="0.26"/>
<rect x="211.3" y="662.8" width="3.3" height="73.8" fill="#30d0f8" opacity="0.44"/>
<rect x="218.5" y="667.1" width="4.6" height="91.6" fill="#40e8ff" opacity="0.35"/>
<rect x="224.1" y="649.2" width="2.7" height="87.9" fill="#58f0ff" opacity="0.53"/>
<rect x="232.9" y="658.6" width="3.9" height="81.2" fill="#58f0ff" opacity="0.51"/>
<rect x="239.7" y="657.7" width="3.6" height="86.7" fill="#58f0ff" opacity="0.30"/>
<rect x="244.4" y="667.1" width="3.7" height="64.9" fill="#40e8ff" opacity="0.55"/>
<rect x="252.2" y="662.5" width="5.0" height="93.2" fill="#30d0f8" opacity="0.31"/>
<rect x="258.7" y="649.5" width="3.0" height="104.5" fill="#58f0ff" opacity="0.38"/>
<rect x="266.3" y="662.8" width="2.8" height="76.7" fill="#58f0ff" opacity="0.27"/>
<rect x="271.7" y="667.0" width="2.8" height="87.7" fill="#30d0f8" opacity="0.53"/>
<rect x="278.9" y="645.2" width="4.7" height="101.2" fill="#40e8ff" opacity="0.54"/>
<rect x="287.5" y="673.7" width="3.3" height="61.7" fill="#58f0ff" opacity="0.30"/>
<rect x="294.1" y="671.0" width="3.2" height="94.8" fill="#40e8ff" opacity="0.31"/>
<rect x="300.2" y="649.6" width="3.3" height="99.8" fill="#30d0f8" opacity="0.25"/>
<rect x="305.5" y="650.9" width="5.0" height="113.1" fill="#58f0ff" opacity="0.42"/>
<rect x="314.0" y="652.4" width="2.6" height="117.1" fill="#40e8ff" opacity="0.27"/>
<rect x="319.8" y="666.8" width="3.9" height="76.4" fill="#40e8ff" opacity="0.42"/>
<rect x="327.3" y="647.9" width="4.4" height="120.0" fill="#58f0ff" opacity="0.37"/>
<rect x="336.9" y="661.7" width="3.7" height="86.5" fill="#3aa8f0" opacity="0.32"/>
<rect x="341.6" y="667.0" width="3.7" height="88.1" fill="#30d0f8" opacity="0.26"/>
<rect x="347.7" y="655.2" width="3.5" height="92.9" fill="#30d0f8" opacity="0.33"/>
<rect x="354.9" y="675.0" width="5.0" height="77.5" fill="#40e8ff" opacity="0.37"/>
<rect x="364.1" y="668.3" width="3.7" height="101.8" fill="#40e8ff" opacity="0.28"/>
<rect x="220.9" y="754.3" width="3.5" height="15.2" rx="1.7" fill="#4448e0" opacity="0.55"/>
<rect x="342.2" y="730.1" width="3.5" height="13.3" rx="1.7" fill="#4448e0" opacity="0.55"/>
<rect x="320.9" y="743.9" width="3.5" height="14.5" rx="1.7" fill="#4448e0" opacity="0.55"/>
<rect x="274.8" y="744.5" width="3.5" height="13.5" rx="1.7" fill="#4448e0" opacity="0.55"/>
<rect x="230.6" y="756.5" width="3.5" height="15.7" rx="1.7" fill="#4448e0" opacity="0.55"/>
<rect x="197.6" y="758.7" width="3.5" height="15.7" rx="1.7" fill="#4448e0" opacity="0.55"/>
<rect x="298.6" y="717.0" width="3.5" height="15.2" rx="1.7" fill="#4448e0" opacity="0.55"/>
<rect x="206.7" y="758.6" width="3.5" height="13.3" rx="1.7" fill="#4448e0" opacity="0.55"/>
<rect x="195.3" y="722.5" width="3.5" height="13.1" rx="1.7" fill="#4448e0" opacity="0.55"/>
<rect x="281.8" y="748.6" width="3.5" height="15.4" rx="1.7" fill="#4448e0" opacity="0.55"/>
<rect x="222.2" y="715.1" width="3.5" height="15.4" rx="1.7" fill="#4448e0" opacity="0.55"/>
<rect x="187.2" y="754.4" width="3.5" height="8.9" rx="1.7" fill="#4448e0" opacity="0.55"/>
<rect x="322.7" y="750.2" width="3.5" height="15.0" rx="1.7" fill="#4448e0" opacity="0.55"/>
<rect x="278.6" y="754.5" width="3.5" height="9.6" rx="1.7" fill="#4448e0" opacity="0.55"/>
<rect x="299.2" y="729.9" width="3.5" height="15.1" rx="1.7" fill="#4448e0" opacity="0.55"/>
<rect x="316.5" y="736.2" width="3.5" height="12.2" rx="1.7" fill="#4448e0" opacity="0.55"/>
<rect x="189.5" y="716.5" width="3.5" height="12.8" rx="1.7" fill="#4448e0" opacity="0.55"/>
<rect x="268.1" y="753.9" width="3.5" height="12.9" rx="1.7" fill="#4448e0" opacity="0.55"/>
</g>
<text transform="matrix(1.20 0.198 -0.604 0.807 218.2 672.7)" font-size="40" font-weight="bold" fill="#b45cff" opacity="0.8" filter="url(#b2)">B</text>
<text transform="matrix(1.20 0.198 -0.604 0.807 218.2 672.7)" font-size="40" font-weight="bold" fill="#a030f0">B</text>
<text transform="matrix(1.20 0.21 -0.56 0.86 270.9 686.8)" font-size="40" font-weight="bold" fill="#b45cff" opacity="0.8" filter="url(#b2)">I</text>
<text transform="matrix(1.20 0.21 -0.56 0.86 270.9 686.8)" font-size="40" font-weight="bold" fill="#a030f0">I</text>
<text transform="matrix(1.45 0.33 -0.454 0.99 304.5 696)" font-size="40" font-weight="bold" fill="#b45cff" opacity="0.8" filter="url(#b2)">T</text>
<text transform="matrix(1.45 0.33 -0.454 0.99 304.5 696)" font-size="40" font-weight="bold" fill="#a030f0">T</text>
<text transform="translate(27.9,731.0) rotate(-34.3)" font-size="20" textLength="121" lengthAdjust="spacingAndGlyphs" fill="#111">Electric write</text>
<text transform="translate(242.3,640.8) rotate(11.6)" font-size="21" textLength="151" lengthAdjust="spacingAndGlyphs" fill="#111">Optical readout</text>
<!-- ph -->
<defs><clipPath id="clipH"><rect x="427.8" y="639.8" width="340.6" height="215.4"/></clipPath>
<linearGradient id="sqHn" x1="0" y1="0" x2="0" y2="1"><stop offset="0" stop-color="#d9b058"/><stop offset="1" stop-color="#c4963a"/></linearGradient>
<linearGradient id="sqHb" x1="0" y1="0" x2="0" y2="1"><stop offset="0" stop-color="#ecd08c"/><stop offset="1" stop-color="#d8b462"/></linearGradient>
<linearGradient id="sqHd" x1="0" y1="0" x2="0" y2="1"><stop offset="0" stop-color="#b88a34"/><stop offset="1" stop-color="#a07224"/></linearGradient>
<linearGradient id="sqHw" x1="0" y1="0" x2="0" y2="1"><stop offset="0" stop-color="#fff8e0"/><stop offset="1" stop-color="#f0d8a0"/></linearGradient>
</defs>
<g clip-path="url(#clipH)">
<rect x="425.8" y="637.8" width="344.6" height="219.4" fill="#6a3a0c"/>
<g filter="url(#b15)">
<rect x="440.0" y="690.5" width="23.0" height="5.5" fill="#1c0400"/>
<rect x="440.0" y="725.5" width="67.0" height="7.0" fill="#1c0400"/>
<rect x="437.0" y="758.0" width="76.0" height="8.5" fill="#1c0400"/>
<rect x="442.0" y="798.0" width="83.0" height="10.5" fill="#1c0400"/>
<rect x="538.6" y="674.5" width="26.4" height="6.0" fill="#1c0400"/>
<rect x="538.6" y="709.5" width="22.4" height="7.5" fill="#1c0400"/>
<rect x="538.6" y="776.5" width="26.4" height="6.0" fill="#1c0400"/>
<rect x="578.0" y="786.0" width="26.0" height="11.0" fill="#1c0400"/>
<rect x="702.0" y="732.0" width="18.0" height="16.0" fill="#1c0400"/>
<rect x="755.0" y="820.0" width="14.0" height="30.0" fill="#1c0400"/>
<rect x="676.0" y="655.0" width="54.0" height="7.0" fill="#1c0400"/>
<rect x="427.0" y="639.0" width="14.0" height="21.0" fill="#1c0400"/>
<rect x="612.0" y="690.0" width="30.0" height="6.0" fill="#1c0400"/>
<rect x="612.0" y="720.0" width="30.0" height="6.0" fill="#1c0400"/>
<rect x="610.0" y="752.0" width="32.0" height="6.0" fill="#1c0400"/>
<rect x="650.0" y="725.0" width="50.0" height="8.0" fill="#1c0400"/>
<rect x="648.0" y="780.0" width="42.0" height="8.0" fill="#1c0400"/>
<rect x="715.0" y="700.0" width="53.0" height="6.0" fill="#1c0400"/>
<rect x="735.0" y="788.0" width="33.0" height="8.0" fill="#1c0400"/>
<rect x="655.0" y="812.0" width="85.0" height="6.0" fill="#1c0400"/>
<rect x="540.0" y="812.0" width="30.0" height="6.0" fill="#1c0400"/>
<rect x="614.0" y="790.0" width="28.0" height="6.0" fill="#1c0400"/>
<rect x="440.0" y="641.2" width="20.0" height="8.7" rx="4" fill="url(#sqHd)"/>
<rect x="465.0" y="660.0" width="35.0" height="22.5" rx="4" fill="url(#sqHn)"/>
<rect x="499.9" y="652.5" width="30.0" height="20.0" rx="4" fill="url(#sqHn)"/>
<rect x="442.5" y="667.5" width="15.0" height="25.0" rx="4" fill="url(#sqHn)"/>
<rect x="499.9" y="679.9" width="25.0" height="20.0" rx="4" fill="url(#sqHn)"/>
<rect x="440.0" y="697.4" width="22.5" height="27.5" rx="4" fill="url(#sqHn)"/>
<rect x="440.0" y="732.4" width="27.5" height="25.0" rx="4" fill="url(#sqHn)"/>
<rect x="469.9" y="734.9" width="37.5" height="17.5" rx="4" fill="url(#sqHd)"/>
<rect x="519.9" y="724.9" width="18.7" height="22.5" rx="4" fill="url(#sqHn)"/>
<rect x="442.5" y="771.1" width="15.0" height="26.2" rx="4" fill="url(#sqHn)"/>
<rect x="499.9" y="767.3" width="27.5" height="25.0" rx="4" fill="url(#sqHn)"/>
<rect x="445.0" y="809.8" width="21.2" height="25.0" rx="4" fill="url(#sqHn)"/>
<rect x="473.7" y="809.8" width="28.7" height="22.5" rx="4" fill="url(#sqHb)"/>
<rect x="507.4" y="806.0" width="17.5" height="26.2" rx="4" fill="url(#sqHn)"/>
<rect x="426.2" y="809.8" width="16.2" height="25.0" rx="4" fill="url(#sqHd)"/>
<rect x="471.2" y="698.7" width="28.7" height="21.2" rx="4" fill="url(#sqHn)"/>
<rect x="463.7" y="771.1" width="30.0" height="22.5" rx="4" fill="url(#sqHn)"/>
<rect x="524.9" y="774.8" width="13.7" height="22.5" rx="4" fill="url(#sqHd)"/>
<rect x="426.2" y="734.9" width="11.2" height="25.0" rx="4" fill="url(#sqHd)"/>
<rect x="462.5" y="640.0" width="35.0" height="10.0" rx="4" fill="url(#sqHd)"/>
<rect x="507.4" y="704.9" width="25.0" height="15.0" rx="4" fill="url(#sqHd)"/>
<rect x="474.9" y="842.2" width="32.5" height="13.7" rx="4" fill="url(#sqHd)"/>
<rect x="440.0" y="842.2" width="25.0" height="13.7" rx="4" fill="url(#sqHd)"/>
<rect x="524.9" y="807.3" width="13.7" height="27.5" rx="4" fill="url(#sqHd)"/>
<rect x="540.0" y="642.5" width="20.0" height="26.2" rx="4" fill="url(#sqHn)"/>
<rect x="540.0" y="682.4" width="21.2" height="23.7" rx="4" fill="url(#sqHn)"/>
<rect x="538.7" y="721.1" width="23.7" height="23.7" rx="4" fill="url(#sqHb)"/>
<rect x="538.7" y="751.0" width="23.7" height="26.2" rx="4" fill="url(#sqHn)"/>
<rect x="540.0" y="782.2" width="27.4" height="27.4" rx="4" fill="url(#sqHb)"/>
<rect x="538.7" y="813.4" width="28.7" height="31.2" rx="4" fill="url(#sqHn)"/>
<rect x="574.9" y="652.5" width="17.5" height="36.2" rx="4" fill="url(#sqHd)"/>
<rect x="576.2" y="692.4" width="21.2" height="42.4" rx="4" fill="url(#sqHn)"/>
<rect x="578.7" y="744.8" width="23.7" height="39.9" rx="4" fill="url(#sqHn)"/>
<rect x="579.9" y="799.7" width="25.0" height="34.9" rx="4" fill="url(#sqHn)"/>
<rect x="606.1" y="653.7" width="28.7" height="28.7" rx="4" fill="url(#sqHn)"/>
<rect x="608.6" y="691.1" width="33.7" height="25.0" rx="4" fill="url(#sqHb)"/>
<rect x="609.8" y="721.1" width="26.2" height="23.7" rx="4" fill="url(#sqHn)"/>
<rect x="617.3" y="752.3" width="25.0" height="34.9" rx="4" fill="url(#sqHn)"/>
<rect x="619.8" y="789.7" width="22.5" height="29.9" rx="4" fill="url(#sqHn)"/>
<rect x="619.8" y="827.1" width="22.5" height="28.7" rx="4" fill="url(#sqHn)"/>
<rect x="628.6" y="640.0" width="15.0" height="16.2" rx="4" fill="url(#sqHd)"/>
<rect x="562.4" y="642.5" width="10.0" height="25.0" rx="4" fill="url(#sqHd)"/>
<rect x="567.4" y="847.1" width="49.9" height="8.7" rx="4" fill="url(#sqHd)"/>
<rect x="643.7" y="652.5" width="8.7" height="32.5" rx="4" fill="url(#sqHd)"/>
<rect x="659.9" y="689.9" width="30.0" height="37.5" rx="4" fill="url(#sqHn)"/>
<rect x="663.7" y="736.1" width="28.7" height="28.7" rx="4" fill="url(#sqHb)"/>
<rect x="643.7" y="759.8" width="26.2" height="22.5" rx="4" fill="url(#sqHn)"/>
<rect x="671.2" y="769.8" width="23.7" height="21.2" rx="4" fill="url(#sqHn)"/>
<rect x="647.4" y="787.3" width="20.0" height="22.5" rx="4" fill="url(#sqHb)"/>
<rect x="644.9" y="812.3" width="36.2" height="20.0" rx="4" fill="url(#sqHb)"/>
<rect x="651.2" y="833.5" width="23.7" height="18.7" rx="4" fill="url(#sqHb)"/>
<rect x="699.9" y="842.2" width="22.5" height="13.7" rx="4" fill="url(#sqHn)"/>
<rect x="704.9" y="694.9" width="15.0" height="35.0" rx="4" fill="url(#sqHn)"/>
<rect x="704.9" y="752.4" width="17.5" height="32.5" rx="4" fill="url(#sqHn)"/>
<rect x="702.4" y="789.8" width="22.5" height="37.5" rx="4" fill="url(#sqHn)"/>
<rect x="734.8" y="699.9" width="30.0" height="25.0" rx="4" fill="url(#sqHn)"/>
<rect x="734.8" y="728.6" width="30.0" height="23.7" rx="4" fill="url(#sqHb)"/>
<rect x="733.6" y="754.9" width="31.2" height="30.0" rx="4" fill="url(#sqHn)"/>
<rect x="739.8" y="792.3" width="30.0" height="17.5" rx="4" fill="url(#sqHn)"/>
<rect x="729.8" y="809.8" width="25.0" height="30.0" rx="4" fill="url(#sqHn)"/>
<rect x="727.3" y="842.2" width="22.5" height="13.7" rx="4" fill="url(#sqHb)"/>
<rect x="643.7" y="727.4" width="11.2" height="32.5" rx="4" fill="url(#sqHn)"/>
<rect x="652.4" y="658.7" width="22.5" height="16.2" rx="4" fill="url(#sqHn)"/>
<rect x="677.4" y="657.5" width="42.4" height="15.0" rx="4" fill="url(#sqHd)"/>
<rect x="729.8" y="657.5" width="25.0" height="17.5" rx="4" fill="url(#sqHd)"/>
<rect x="754.8" y="640.0" width="15.0" height="10.0" rx="4" fill="url(#sqHw)"/>
<rect x="677.4" y="640.0" width="42.4" height="10.0" rx="4" fill="url(#sqHd)"/>
<rect x="757.3" y="679.9" width="12.5" height="17.5" rx="4" fill="url(#sqHn)"/>
</g>
<rect x="538" y="639" width="0.8" height="218" fill="#e8d8b0" opacity="0.3"/>
<rect x="643" y="639" width="0.8" height="218" fill="#3a1800" opacity="0.6"/>
</g>
<path d="M433.7 662.5 L447.5 655 L470 651.2 L490 648.7 L507.4 642.5 L524.9 641.2 L536.1 647.5 L537.4 665 L534.9 685 L529.9 702.4 L519.9 717.4 L512.4 729.9 L511.1 744.9 L516.1 754.9 L527.4 762.3 L533.6 774.8 L534.9 794.8 L532.4 814.8 L531.1 832.3 L524.9 839.8 L507.4 838.5 L484.9 836 L462.5 838.5 L445 842.2 L436.2 837.2 L435 817.3 L432.5 794.8 L431.2 769.8 L432.5 742.4 L435 717.4 L436.2 692.4 L433.7 672.5 Z" fill="none" stroke="#f4b600" stroke-width="10" stroke-linejoin="round"/>
<path d="M568.6 646 Q570 642 575 641.5 L590 641.5 Q597 642 598.7 646 L601.2 670 L603.7 710 L606.2 747 L608.7 785 L610 815 Q609 832 603 840 Q597 846 590 845 Q580 845 576 838 Q572.5 828 572.3 815 L571 785 L568.6 747 L567.3 710 L566 672 Z" fill="none" stroke="#f4b600" stroke-width="10" stroke-linejoin="round"/>
<path d="M646.2 660.0 L657.4 653.7 L682.4 652.5 L707.4 652.0 L734.8 650.5 L754.8 648.7 L763.5 655.0 L764.8 667.5 L757.3 677.4 L742.3 683.7 L729.8 691.2 L724.8 707.4 L724.8 734.9 L726.1 759.8 L727.3 784.8 L728.6 809.8 L724.8 827.3 L712.4 834.8 L697.4 837.2 L691.1 829.8 L693.6 814.8 L699.9 794.8 L701.1 769.8 L698.6 744.9 L697.4 719.9 L698.6 697.4 L701.1 682.4 L689.9 678.7 L674.9 679.9 L659.9 683.7 L651.2 687.4 L646.2 677.4 Z" fill="none" stroke="#f4b600" stroke-width="10" stroke-linejoin="round"/>
<path d="M469.0 693.7 H499.6 Q503.6 693.7 503.6 697.7 V722.1 Q503.6 726.1 499.6 726.1 H469.0 Q465.0 726.1 465.0 722.1 V697.7 Q465.0 693.7 469.0 693.7 Z" fill="none" stroke="#f4b600" stroke-width="10" stroke-linejoin="round"/>
<path d="M461.5 764.8 H494.7 Q498.7 764.8 498.7 768.8 V795.8 Q498.7 799.8 494.7 799.8 H461.5 Q457.5 799.8 457.5 795.8 V768.8 Q457.5 764.8 461.5 764.8 Z" fill="none" stroke="#f4b600" stroke-width="10" stroke-linejoin="round"/>
<path d="M433.7 662.5 L447.5 655 L470 651.2 L490 648.7 L507.4 642.5 L524.9 641.2 L536.1 647.5 L537.4 665 L534.9 685 L529.9 702.4 L519.9 717.4 L512.4 729.9 L511.1 744.9 L516.1 754.9 L527.4 762.3 L533.6 774.8 L534.9 794.8 L532.4 814.8 L531.1 832.3 L524.9 839.8 L507.4 838.5 L484.9 836 L462.5 838.5 L445 842.2 L436.2 837.2 L435 817.3 L432.5 794.8 L431.2 769.8 L432.5 742.4 L435 717.4 L436.2 692.4 L433.7 672.5 Z" fill="none" stroke="#fff010" stroke-width="4" stroke-dasharray="7.5 3" stroke-linejoin="round"/>
<path d="M568.6 646 Q570 642 575 641.5 L590 641.5 Q597 642 598.7 646 L601.2 670 L603.7 710 L606.2 747 L608.7 785 L610 815 Q609 832 603 840 Q597 846 590 845 Q580 845 576 838 Q572.5 828 572.3 815 L571 785 L568.6 747 L567.3 710 L566 672 Z" fill="none" stroke="#fff010" stroke-width="4" stroke-dasharray="7.5 3" stroke-linejoin="round"/>
<path d="M646.2 660.0 L657.4 653.7 L682.4 652.5 L707.4 652.0 L734.8 650.5 L754.8 648.7 L763.5 655.0 L764.8 667.5 L757.3 677.4 L742.3 683.7 L729.8 691.2 L724.8 707.4 L724.8 734.9 L726.1 759.8 L727.3 784.8 L728.6 809.8 L724.8 827.3 L712.4 834.8 L697.4 837.2 L691.1 829.8 L693.6 814.8 L699.9 794.8 L701.1 769.8 L698.6 744.9 L697.4 719.9 L698.6 697.4 L701.1 682.4 L689.9 678.7 L674.9 679.9 L659.9 683.7 L651.2 687.4 L646.2 677.4 Z" fill="none" stroke="#fff010" stroke-width="4" stroke-dasharray="7.5 3" stroke-linejoin="round"/>
<path d="M469.0 693.7 H499.6 Q503.6 693.7 503.6 697.7 V722.1 Q503.6 726.1 499.6 726.1 H469.0 Q465.0 726.1 465.0 722.1 V697.7 Q465.0 693.7 469.0 693.7 Z" fill="none" stroke="#fff010" stroke-width="4" stroke-dasharray="7.5 3" stroke-linejoin="round"/>
<path d="M461.5 764.8 H494.7 Q498.7 764.8 498.7 768.8 V795.8 Q498.7 799.8 494.7 799.8 H461.5 Q457.5 799.8 457.5 795.8 V768.8 Q457.5 764.8 461.5 764.8 Z" fill="none" stroke="#fff010" stroke-width="4" stroke-dasharray="7.5 3" stroke-linejoin="round"/>
<!-- pi -->
<defs><clipPath id="clipI"><rect x="830.4" y="635.6" width="338.3" height="217.0"/></clipPath>
<filter id="noiseIR" x="0" y="0" width="100%" height="100%"><feTurbulence type="fractalNoise" baseFrequency="0.16" numOctaves="2" seed="7"/>
<feColorMatrix type="matrix" values="0 0 0 0 1  0 0 0 0 0.05  0 0 0 0 0.35  8 0 0 0 -4.75"/></filter>
<filter id="noiseIB" x="0" y="0" width="100%" height="100%"><feTurbulence type="fractalNoise" baseFrequency="0.14" numOctaves="2" seed="21"/>
<feColorMatrix type="matrix" values="0 0 0 0 0.1  0 0 0 0 0.05  0 0 0 0 0.95  0 8 0 0 -4.6"/></filter>
<filter id="noiseIW" x="0" y="0" width="100%" height="100%"><feTurbulence type="fractalNoise" baseFrequency="0.2" numOctaves="2" seed="33"/>
<feColorMatrix type="matrix" values="0 0 0 0 1  0 0 0 0 0.8  0 0 0 0 0.95  0 0 9 0 -5.9"/></filter>
<filter id="noiseIK" x="0" y="0" width="100%" height="100%"><feTurbulence type="fractalNoise" baseFrequency="0.11" numOctaves="2" seed="51"/>
<feColorMatrix type="matrix" values="0 0 0 0 0  0 0 0 0 0  0 0 0 0 0.1  0 8 0 0 -4.4"/></filter>
</defs>
<g clip-path="url(#clipI)">
<rect x="828.4" y="633.6" width="342.3" height="221.0" fill="#fff"/>
<rect x="830" y="635" width="112" height="219" fill="#f6b8dc"/>
<rect x="942" y="635" width="228" height="219" fill="#05021a"/>
<g filter="url(#wob2)">
<rect x="939.3" y="675.4" width="31.6" height="34.2" rx="6" fill="#fff"/>
<rect x="939.3" y="713.7" width="30.3" height="34.2" rx="6" fill="#fff"/>
<rect x="939.3" y="746.8" width="31.6" height="34.2" rx="6" fill="#fff"/>
<rect x="939.3" y="777.5" width="34.2" height="41.8" rx="6" fill="#fff"/>
<rect x="939.3" y="813.2" width="34.2" height="31.6" rx="6" fill="#fff"/>
<rect x="939.3" y="632.1" width="34.2" height="46.9" rx="6" fill="#fff"/>
<rect x="938.4" y="672.9" width="32.9" height="36.7" rx="6" fill="#fff"/>
<rect x="938.4" y="713.8" width="31.6" height="34.2" rx="6" fill="#fff"/>
<rect x="938.4" y="744.5" width="31.6" height="36.7" rx="6" fill="#fff"/>
<rect x="938.4" y="777.7" width="35.5" height="41.9" rx="6" fill="#fff"/>
<rect x="937.2" y="812.1" width="36.7" height="35.5" rx="6" fill="#fff"/>
<rect x="1010.0" y="643.6" width="38.0" height="43.1" rx="6" fill="#fff"/>
<rect x="1012.5" y="683.1" width="40.6" height="36.7" rx="6" fill="#fff"/>
<rect x="1013.8" y="713.8" width="34.2" height="36.7" rx="6" fill="#fff"/>
<rect x="1021.5" y="749.6" width="31.6" height="39.3" rx="6" fill="#fff"/>
<rect x="1024.0" y="787.9" width="29.1" height="41.9" rx="6" fill="#fff"/>
<rect x="1022.7" y="826.2" width="30.4" height="30.4" rx="6" fill="#fff"/>
<rect x="975.5" y="646.1" width="32.9" height="40.6" rx="6" fill="#fff"/>
<rect x="976.8" y="683.1" width="34.2" height="59.7" rx="6" fill="#fff"/>
<rect x="979.3" y="739.3" width="34.2" height="47.0" rx="6" fill="#fff"/>
<rect x="981.9" y="798.1" width="35.5" height="47.0" rx="6" fill="#fff"/>
<rect x="1055.8" y="678.0" width="41.8" height="49.5" rx="6" fill="#fff"/>
<rect x="1063.4" y="729.1" width="36.7" height="34.2" rx="6" fill="#fff"/>
<rect x="1044.3" y="711.2" width="22.7" height="46.9" rx="6" fill="#fff"/>
<rect x="1044.3" y="754.6" width="30.3" height="34.2" rx="6" fill="#fff"/>
<rect x="1071.1" y="759.7" width="30.3" height="34.2" rx="6" fill="#fff"/>
<rect x="1048.1" y="782.7" width="26.5" height="31.6" rx="6" fill="#fff"/>
<rect x="1046.8" y="808.2" width="43.1" height="24.0" rx="6" fill="#fff"/>
<rect x="1049.4" y="826.1" width="32.9" height="30.3" rx="6" fill="#fff"/>
<rect x="1132.4" y="693.3" width="36.7" height="31.6" rx="6" fill="#fff"/>
<rect x="1133.6" y="718.9" width="35.5" height="34.2" rx="6" fill="#fff"/>
<rect x="1132.4" y="749.5" width="36.7" height="36.7" rx="6" fill="#fff"/>
<rect x="1137.5" y="782.7" width="38.0" height="29.1" rx="6" fill="#fff"/>
<rect x="1131.1" y="803.1" width="32.9" height="36.7" rx="6" fill="#fff"/>
<rect x="1099.2" y="833.7" width="31.6" height="24.0" rx="6" fill="#fff"/>
<rect x="1127.3" y="833.7" width="31.6" height="24.0" rx="6" fill="#fff"/>
<rect x="1048.1" y="648.7" width="36.7" height="22.7" rx="6" fill="#fff"/>
<rect x="1076.2" y="644.8" width="46.9" height="24.0" rx="6" fill="#fff"/>
<rect x="1127.3" y="644.8" width="36.7" height="29.1" rx="6" fill="#fff"/>
<rect x="1099.2" y="680.6" width="31.6" height="52.0" rx="6" fill="#fff"/>
<rect x="1101.7" y="726.5" width="29.1" height="29.1" rx="6" fill="#fff"/>
<rect x="1101.7" y="746.9" width="31.6" height="41.8" rx="6" fill="#fff"/>
<rect x="1099.2" y="782.7" width="34.2" height="46.9" rx="6" fill="#fff"/>
<rect x="1044.3" y="632.1" width="58.4" height="16.3" rx="6" fill="#fff"/>
<rect x="1132.4" y="667.8" width="44.4" height="31.6" rx="6" fill="#fff"/>
<rect x="838.6" y="658.9" width="29.0" height="26.5" rx="5" fill="#000"/>
<rect x="869.2" y="653.8" width="34.1" height="26.5" rx="5" fill="#000"/>
<rect x="902.3" y="669.1" width="29.0" height="29.0" rx="5" fill="#000"/>
<rect x="838.6" y="689.5" width="29.0" height="31.6" rx="5" fill="#000"/>
<rect x="907.4" y="694.6" width="23.9" height="21.4" rx="5" fill="#000"/>
<rect x="841.1" y="727.7" width="23.9" height="29.0" rx="5" fill="#000"/>
<rect x="871.7" y="722.6" width="39.2" height="26.5" rx="5" fill="#000"/>
<rect x="836.0" y="768.6" width="29.0" height="34.1" rx="5" fill="#000"/>
<rect x="902.3" y="763.5" width="34.1" height="29.0" rx="5" fill="#000"/>
<rect x="836.0" y="809.4" width="31.6" height="29.0" rx="5" fill="#000"/>
<rect x="871.7" y="809.4" width="39.2" height="26.5" rx="5" fill="#000"/>
<rect x="907.4" y="804.3" width="26.5" height="31.6" rx="5" fill="#000"/>
<rect x="915.1" y="720.1" width="23.9" height="26.5" rx="5" fill="#000"/>
<rect x="873.0" y="695.9" width="31.6" height="22.6" rx="5" fill="#000"/>
<rect x="867.9" y="758.4" width="30.3" height="23.9" rx="5" fill="#000"/>
<rect x="864.1" y="745.6" width="41.8" height="17.5" rx="5" fill="#000"/>
<rect x="902.3" y="651.2" width="34.1" height="21.4" rx="5" fill="#000"/>
<rect x="940.6" y="676.7" width="29.0" height="31.6" rx="5" fill="#000"/>
<rect x="940.6" y="715.0" width="27.7" height="31.6" rx="5" fill="#000"/>
<rect x="940.6" y="748.1" width="29.0" height="31.6" rx="5" fill="#000"/>
<rect x="940.6" y="778.8" width="31.6" height="39.2" rx="5" fill="#000"/>
<rect x="940.6" y="814.5" width="31.6" height="29.0" rx="5" fill="#000"/>
<rect x="940.6" y="633.4" width="31.6" height="44.3" rx="5" fill="#000"/>
<rect x="826.3" y="631.3" width="33.6" height="28.5" rx="5" fill="#000"/>
<rect x="853.9" y="631.3" width="52.0" height="20.8" rx="5" fill="#000"/>
<rect x="826.3" y="840.0" width="54.0" height="17.5" rx="5" fill="#000"/>
<rect x="884.5" y="841.3" width="59.6" height="16.3" rx="5" fill="#000"/>
<rect x="939.7" y="674.2" width="30.3" height="34.1" rx="5" fill="#000"/>
<rect x="939.7" y="715.1" width="29.0" height="31.6" rx="5" fill="#000"/>
<rect x="939.7" y="745.8" width="29.0" height="34.1" rx="5" fill="#000"/>
<rect x="939.7" y="779.0" width="32.9" height="39.3" rx="5" fill="#000"/>
<rect x="938.5" y="813.4" width="34.1" height="32.9" rx="5" fill="#000"/>
<rect x="1011.3" y="644.9" width="35.4" height="40.5" rx="5" fill="#000"/>
<rect x="1013.8" y="684.4" width="38.0" height="34.1" rx="5" fill="#000"/>
<rect x="1015.1" y="715.1" width="31.6" height="34.1" rx="5" fill="#000"/>
<rect x="1022.8" y="750.9" width="29.0" height="36.7" rx="5" fill="#000"/>
<rect x="1025.3" y="789.2" width="26.5" height="39.3" rx="5" fill="#000"/>
<rect x="1024.0" y="827.5" width="27.8" height="27.8" rx="5" fill="#000"/>
<rect x="976.8" y="647.4" width="30.3" height="38.0" rx="5" fill="#000"/>
<rect x="978.1" y="684.4" width="31.6" height="57.1" rx="5" fill="#000"/>
<rect x="980.6" y="740.6" width="31.6" height="44.4" rx="5" fill="#000"/>
<rect x="983.2" y="799.4" width="32.9" height="44.4" rx="5" fill="#000"/>
<rect x="1057.1" y="679.3" width="39.2" height="46.9" rx="5" fill="#000"/>
<rect x="1064.7" y="730.4" width="34.1" height="31.6" rx="5" fill="#000"/>
<rect x="1045.6" y="712.5" width="20.1" height="44.3" rx="5" fill="#000"/>
<rect x="1045.6" y="755.9" width="27.7" height="31.6" rx="5" fill="#000"/>
<rect x="1072.4" y="761.0" width="27.7" height="31.6" rx="5" fill="#000"/>
<rect x="1049.4" y="784.0" width="23.9" height="29.0" rx="5" fill="#000"/>
<rect x="1048.1" y="809.5" width="40.5" height="21.4" rx="5" fill="#000"/>
<rect x="1050.7" y="827.4" width="30.3" height="27.7" rx="5" fill="#000"/>
<rect x="1133.7" y="694.6" width="34.1" height="29.0" rx="5" fill="#000"/>
<rect x="1134.9" y="720.2" width="32.9" height="31.6" rx="5" fill="#000"/>
<rect x="1133.7" y="750.8" width="34.1" height="34.1" rx="5" fill="#000"/>
<rect x="1138.8" y="784.0" width="35.4" height="26.5" rx="5" fill="#000"/>
<rect x="1132.4" y="804.4" width="30.3" height="34.1" rx="5" fill="#000"/>
<rect x="1100.5" y="835.0" width="29.0" height="21.4" rx="5" fill="#000"/>
<rect x="1128.6" y="835.0" width="29.0" height="21.4" rx="5" fill="#000"/>
<rect x="1049.4" y="650.0" width="34.1" height="20.1" rx="5" fill="#000"/>
<rect x="1077.5" y="646.1" width="44.3" height="21.4" rx="5" fill="#000"/>
<rect x="1128.6" y="646.1" width="34.1" height="26.5" rx="5" fill="#000"/>
<rect x="1100.5" y="681.9" width="29.0" height="49.4" rx="5" fill="#000"/>
<rect x="1103.0" y="727.8" width="26.5" height="26.5" rx="5" fill="#000"/>
<rect x="1103.0" y="748.2" width="29.0" height="39.2" rx="5" fill="#000"/>
<rect x="1100.5" y="784.0" width="31.6" height="44.3" rx="5" fill="#000"/>
<rect x="1045.6" y="633.4" width="55.8" height="13.7" rx="5" fill="#000"/>
<rect x="1133.7" y="669.1" width="41.8" height="29.0" rx="5" fill="#000"/>
<rect x="841.4" y="661.7" width="23.4" height="20.9" rx="4" fill="#2214e8"/>
<rect x="844.4" y="664.7" width="17.4" height="14.9" rx="3" fill="#ee1c64"/>
<rect x="872.0" y="656.6" width="28.5" height="20.9" rx="4" fill="#2214e8"/>
<rect x="875.0" y="659.6" width="22.5" height="14.9" rx="3" fill="#ee1c64"/>
<rect x="905.1" y="671.9" width="23.4" height="23.4" rx="4" fill="#2214e8"/>
<rect x="908.1" y="674.9" width="17.4" height="17.4" rx="3" fill="#ee1c64"/>
<rect x="841.4" y="692.3" width="23.4" height="26.0" rx="4" fill="#2214e8"/>
<rect x="844.4" y="695.3" width="17.4" height="20.0" rx="3" fill="#ee1c64"/>
<rect x="910.2" y="697.4" width="18.3" height="15.8" rx="4" fill="#2214e8"/>
<rect x="913.2" y="700.4" width="12.3" height="9.8" rx="3" fill="#ee1c64"/>
<rect x="843.9" y="730.5" width="18.3" height="23.4" rx="4" fill="#2214e8"/>
<rect x="846.9" y="733.5" width="12.3" height="17.4" rx="3" fill="#ee1c64"/>
<rect x="874.5" y="725.4" width="33.6" height="20.9" rx="4" fill="#2214e8"/>
<rect x="877.5" y="728.4" width="27.6" height="14.9" rx="3" fill="#ee1c64"/>
<rect x="838.8" y="771.4" width="23.4" height="28.5" rx="4" fill="#2214e8"/>
<rect x="841.8" y="774.4" width="17.4" height="22.5" rx="3" fill="#ee1c64"/>
<rect x="905.1" y="766.3" width="28.5" height="23.4" rx="4" fill="#2214e8"/>
<rect x="908.1" y="769.3" width="22.5" height="17.4" rx="3" fill="#ee1c64"/>
<rect x="838.8" y="812.2" width="26.0" height="23.4" rx="4" fill="#2214e8"/>
<rect x="841.8" y="815.2" width="20.0" height="17.4" rx="3" fill="#ee1c64"/>
<rect x="874.5" y="812.2" width="33.6" height="20.9" rx="4" fill="#2214e8"/>
<rect x="877.5" y="815.2" width="27.6" height="14.9" rx="3" fill="#ee1c64"/>
<rect x="910.2" y="807.1" width="20.9" height="26.0" rx="4" fill="#2214e8"/>
<rect x="913.2" y="810.1" width="14.9" height="20.0" rx="3" fill="#ee1c64"/>
<rect x="917.9" y="722.9" width="18.3" height="20.9" rx="4" fill="#2214e8"/>
<rect x="920.9" y="725.9" width="12.3" height="14.9" rx="3" fill="#ee1c64"/>
<rect x="877.3" y="700.2" width="23.0" height="14.0" rx="4" fill="#1a1af2"/>
<rect x="872.2" y="762.7" width="21.7" height="15.3" rx="4" fill="#1a1af2"/>
<rect x="868.4" y="749.9" width="33.2" height="8.9" rx="4" fill="#000"/>
<rect x="906.6" y="655.5" width="25.5" height="12.8" rx="4" fill="#1a1af2"/>
<rect x="944.9" y="681.0" width="20.4" height="23.0" rx="4" fill="#1a1af2"/>
<rect x="944.9" y="719.3" width="19.1" height="23.0" rx="4" fill="#1a1af2"/>
<rect x="944.9" y="752.4" width="20.4" height="23.0" rx="4" fill="#1a1af2"/>
<rect x="944.9" y="783.1" width="23.0" height="30.6" rx="4" fill="#5a1ad0"/>
<rect x="944.9" y="818.8" width="23.0" height="20.4" rx="4" fill="#5a1ad0"/>
<rect x="944.9" y="637.7" width="23.0" height="35.7" rx="4" fill="#1a1af2"/>
<rect x="830.6" y="635.6" width="25.0" height="19.9" rx="4" fill="#1a1af2"/>
<rect x="858.2" y="635.6" width="43.4" height="12.2" rx="4" fill="#1a1af2"/>
<rect x="830.6" y="844.3" width="45.4" height="8.9" rx="4" fill="#5a1ad0"/>
<rect x="888.8" y="845.6" width="51.0" height="7.7" rx="4" fill="#1a1af2"/>
<rect x="944.0" y="678.5" width="21.7" height="25.5" rx="4" fill="#1a1af2"/>
<rect x="944.0" y="719.4" width="20.4" height="23.0" rx="4" fill="#1a1af2"/>
<rect x="944.0" y="750.1" width="20.4" height="25.5" rx="4" fill="#1a1af2"/>
<rect x="944.0" y="783.3" width="24.3" height="30.7" rx="4" fill="#5a1ad0"/>
<rect x="942.8" y="817.7" width="25.5" height="24.3" rx="4" fill="#5a1ad0"/>
<rect x="1015.6" y="649.2" width="26.8" height="31.9" rx="4" fill="#1a1af2"/>
<rect x="1018.1" y="688.7" width="29.4" height="25.5" rx="4" fill="#1a1af2"/>
<rect x="1019.4" y="719.4" width="23.0" height="25.5" rx="4" fill="#1a1af2"/>
<rect x="1027.1" y="755.2" width="20.4" height="28.1" rx="4" fill="#1a1af2"/>
<rect x="1029.6" y="793.5" width="17.9" height="30.7" rx="4" fill="#5a1ad0"/>
<rect x="1028.3" y="831.8" width="19.2" height="19.2" rx="4" fill="#1a1af2"/>
<rect x="979.6" y="650.2" width="24.7" height="32.4" rx="4" fill="#2214e8"/>
<rect x="982.6" y="653.2" width="18.7" height="26.4" rx="3" fill="#ee1c64"/>
<rect x="980.9" y="687.2" width="26.0" height="51.5" rx="4" fill="#2214e8"/>
<rect x="983.9" y="690.2" width="20.0" height="45.5" rx="3" fill="#ee1c64"/>
<rect x="983.4" y="743.4" width="26.0" height="38.8" rx="4" fill="#2214e8"/>
<rect x="986.4" y="746.4" width="20.0" height="32.8" rx="3" fill="#ee1c64"/>
<rect x="986.0" y="802.2" width="27.3" height="38.8" rx="4" fill="#2214e8"/>
<rect x="989.0" y="805.2" width="21.3" height="32.8" rx="3" fill="#ee1c64"/>
<rect x="1061.4" y="683.6" width="30.6" height="38.3" rx="4" fill="#1a1af2"/>
<rect x="1069.0" y="734.7" width="25.5" height="23.0" rx="4" fill="#1a1af2"/>
<rect x="1049.9" y="716.8" width="11.5" height="35.7" rx="4" fill="#1a1af2"/>
<rect x="1049.9" y="760.2" width="19.1" height="23.0" rx="4" fill="#1a1af2"/>
<rect x="1076.7" y="765.3" width="19.1" height="23.0" rx="4" fill="#1a1af2"/>
<rect x="1053.7" y="788.3" width="15.3" height="20.4" rx="4" fill="#1a1af2"/>
<rect x="1052.4" y="813.8" width="31.9" height="12.8" rx="4" fill="#5a1ad0"/>
<rect x="1055.0" y="831.7" width="21.7" height="19.1" rx="4" fill="#1a1af2"/>
<rect x="1138.0" y="698.9" width="25.5" height="20.4" rx="4" fill="#1a1af2"/>
<rect x="1139.2" y="724.5" width="24.3" height="23.0" rx="4" fill="#1a1af2"/>
<rect x="1138.0" y="755.1" width="25.5" height="25.5" rx="4" fill="#1a1af2"/>
<rect x="1143.1" y="788.3" width="26.8" height="17.9" rx="4" fill="#1a1af2"/>
<rect x="1136.7" y="808.7" width="21.7" height="25.5" rx="4" fill="#5a1ad0"/>
<rect x="1104.8" y="839.3" width="20.4" height="12.8" rx="4" fill="#1a1af2"/>
<rect x="1132.9" y="839.3" width="20.4" height="12.8" rx="4" fill="#5a1ad0"/>
<rect x="1052.2" y="652.8" width="28.5" height="14.5" rx="4" fill="#2214e8"/>
<rect x="1055.2" y="655.8" width="22.5" height="8.5" rx="3" fill="#ff7cc4"/>
<rect x="1080.3" y="648.9" width="38.7" height="15.8" rx="4" fill="#2214e8"/>
<rect x="1083.3" y="651.9" width="32.7" height="9.8" rx="3" fill="#ff7cc4"/>
<rect x="1132.9" y="650.4" width="25.5" height="17.9" rx="4" fill="#1a1af2"/>
<rect x="1104.8" y="686.2" width="20.4" height="40.8" rx="4" fill="#5a1ad0"/>
<rect x="1105.8" y="730.6" width="20.9" height="20.9" rx="4" fill="#2214e8"/>
<rect x="1108.8" y="733.6" width="14.9" height="14.9" rx="3" fill="#ff7cc4"/>
<rect x="1105.8" y="751.0" width="23.4" height="33.6" rx="4" fill="#2214e8"/>
<rect x="1108.8" y="754.0" width="17.4" height="27.6" rx="3" fill="#ee1c64"/>
<rect x="1104.8" y="788.3" width="23.0" height="35.7" rx="4" fill="#5a1ad0"/>
<rect x="1049.9" y="637.7" width="47.2" height="5.1" rx="4" fill="#1a1af2"/>
<rect x="1138.0" y="673.4" width="33.2" height="20.4" rx="4" fill="#1a1af2"/>
</g>
<rect x="1018.0" y="840.0" width="18.0" height="12.0" rx="3" fill="#fff" filter="url(#b1)"/>
<rect x="1160.0" y="815.0" width="9.0" height="35.0" rx="3" fill="#fff" filter="url(#b1)"/>
<rect x="830" y="636" width="339" height="217" filter="url(#noiseIR)" opacity="0.8"/>
<rect x="830" y="636" width="112" height="217" filter="url(#noiseIB)" opacity="0.8"/>
<rect x="830" y="636" width="339" height="217" filter="url(#noiseIW)" opacity="0.9"/>
<rect x="941.5" y="635" width="0.9" height="218" fill="#000" opacity="0.7"/>
</g>
<path d="M833.9 665.7 L848.0 656.8 L870.9 653.0 L891.3 650.4 L909.2 642.8 L927.0 641.5 L938.5 649.1 L939.8 668.3 L937.2 688.7 L930.9 706.5 L920.7 720.6 L913.0 734.6 L913.0 747.3 L919.4 757.6 L930.9 765.2 L936.0 780.5 L936.7 803.5 L934.7 826.4 L932.1 839.2 L921.9 843.0 L901.5 841.7 L881.1 840.5 L860.7 843.0 L842.9 845.6 L835.2 839.2 L833.9 818.8 L832.7 793.3 L831.4 767.8 L832.7 742.2 L833.9 716.7 L835.2 691.2 L833.2 673.4 Z" fill="none" stroke="#f4b600" stroke-width="10.2" stroke-linejoin="round"/>
<path d="M970.9 648 Q972 643 977.3 642.8 L997.7 642.8 Q1003 643 1004.1 648 L1007.9 706.6 L1011.7 757.7 L1015.6 808.8 Q1016 825 1013 834.3 Q1010 843 1003 845 L991 846 Q981 845 978.5 834.3 L976 783.3 L972.1 706.6 Z" fill="none" stroke="#f4b600" stroke-width="10.2" stroke-linejoin="round"/>
<path d="M1044.8 654.3 L1056.3 646.6 L1081.8 644.0 L1109.9 642.8 L1138.0 640.2 L1158.4 637.7 L1168.6 642.8 L1171.2 658.1 L1163.5 668.3 L1148.2 674.7 L1134.1 682.3 L1129.0 698.9 L1129.0 727.0 L1130.3 752.5 L1131.6 778.1 L1132.9 803.6 L1129.0 821.5 L1116.3 830.4 L1099.7 831.7 L1092.0 824.0 L1094.6 808.7 L1100.9 788.3 L1103.5 762.8 L1102.2 737.2 L1099.7 711.7 L1099.7 688.7 L1102.2 674.7 L1092.0 670.8 L1076.7 672.1 L1061.4 676.0 L1051.2 679.8 L1046.1 670.8 Z" fill="none" stroke="#f4b600" stroke-width="10.2" stroke-linejoin="round"/>
<path d="M873.4 690.0 H904.2 Q909.2 690.0 909.2 695.0 V719.4 Q909.2 724.4 904.2 724.4 H873.4 Q868.4 724.4 868.4 719.4 V695.0 Q868.4 690.0 873.4 690.0 Z" fill="none" stroke="#f4b600" stroke-width="10.2" stroke-linejoin="round"/>
<path d="M868.3 751.2 H896.5 Q901.5 751.2 901.5 756.2 V781.9 Q901.5 786.9 896.5 786.9 H868.3 Q863.3 786.9 863.3 781.9 V756.2 Q863.3 751.2 868.3 751.2 Z" fill="none" stroke="#f4b600" stroke-width="10.2" stroke-linejoin="round"/>
<path d="M833.9 665.7 L848.0 656.8 L870.9 653.0 L891.3 650.4 L909.2 642.8 L927.0 641.5 L938.5 649.1 L939.8 668.3 L937.2 688.7 L930.9 706.5 L920.7 720.6 L913.0 734.6 L913.0 747.3 L919.4 757.6 L930.9 765.2 L936.0 780.5 L936.7 803.5 L934.7 826.4 L932.1 839.2 L921.9 843.0 L901.5 841.7 L881.1 840.5 L860.7 843.0 L842.9 845.6 L835.2 839.2 L833.9 818.8 L832.7 793.3 L831.4 767.8 L832.7 742.2 L833.9 716.7 L835.2 691.2 L833.2 673.4 Z" fill="none" stroke="#fff010" stroke-width="4" stroke-dasharray="7.5 3" stroke-linejoin="round"/>
<path d="M970.9 648 Q972 643 977.3 642.8 L997.7 642.8 Q1003 643 1004.1 648 L1007.9 706.6 L1011.7 757.7 L1015.6 808.8 Q1016 825 1013 834.3 Q1010 843 1003 845 L991 846 Q981 845 978.5 834.3 L976 783.3 L972.1 706.6 Z" fill="none" stroke="#fff010" stroke-width="4" stroke-dasharray="7.5 3" stroke-linejoin="round"/>
<path d="M1044.8 654.3 L1056.3 646.6 L1081.8 644.0 L1109.9 642.8 L1138.0 640.2 L1158.4 637.7 L1168.6 642.8 L1171.2 658.1 L1163.5 668.3 L1148.2 674.7 L1134.1 682.3 L1129.0 698.9 L1129.0 727.0 L1130.3 752.5 L1131.6 778.1 L1132.9 803.6 L1129.0 821.5 L1116.3 830.4 L1099.7 831.7 L1092.0 824.0 L1094.6 808.7 L1100.9 788.3 L1103.5 762.8 L1102.2 737.2 L1099.7 711.7 L1099.7 688.7 L1102.2 674.7 L1092.0 670.8 L1076.7 672.1 L1061.4 676.0 L1051.2 679.8 L1046.1 670.8 Z" fill="none" stroke="#fff010" stroke-width="4" stroke-dasharray="7.5 3" stroke-linejoin="round"/>
<path d="M873.4 690.0 H904.2 Q909.2 690.0 909.2 695.0 V719.4 Q909.2 724.4 904.2 724.4 H873.4 Q868.4 724.4 868.4 719.4 V695.0 Q868.4 690.0 873.4 690.0 Z" fill="none" stroke="#fff010" stroke-width="4" stroke-dasharray="7.5 3" stroke-linejoin="round"/>
<path d="M868.3 751.2 H896.5 Q901.5 751.2 901.5 756.2 V781.9 Q901.5 786.9 896.5 786.9 H868.3 Q863.3 786.9 863.3 781.9 V756.2 Q863.3 751.2 868.3 751.2 Z" fill="none" stroke="#fff010" stroke-width="4" stroke-dasharray="7.5 3" stroke-linejoin="round"/>
<!-- labels -->
<text x="26.6" y="39.5" font-size="29.5" fill="#000" font-weight="bold" text-anchor="start" >a</text>
<text x="421.8" y="37.9" font-size="29.5" fill="#000" font-weight="bold" text-anchor="start" >b</text>
<text x="816.9" y="37.7" font-size="29.5" fill="#000" font-weight="bold" text-anchor="start" >c</text>
<text x="24.0" y="364.4" font-size="29.5" fill="#000" font-weight="bold" text-anchor="start" >d</text>
<text x="406.6" y="362.7" font-size="29.5" fill="#000" font-weight="bold" text-anchor="start" >e</text>
<text x="807.8" y="368.3" font-size="29.5" fill="#000" font-weight="bold" text-anchor="start" >f</text>
<text x="29.6" y="646.0" font-size="29.5" fill="#000" font-weight="bold" text-anchor="start" >g</text>
<text x="404.8" y="646.1" font-size="29.5" fill="#000" font-weight="bold" text-anchor="start" >h</text>
<text x="809.8" y="643.0" font-size="29.5" fill="#000" font-weight="bold" text-anchor="start" >i</text>
<rect x="374.4" y="99.4" width="18.3" height="130" fill="url(#cbAfmV)" stroke="#000" stroke-width="1.3"/>
<text x="357.7" y="92.0" font-size="19.7" fill="#000" font-weight="normal" text-anchor="start" >24.5 nm</text>
<text x="353.7" y="254.6" font-size="19.7" fill="#000" font-weight="normal" text-anchor="start" >-25.6 nm</text>
<rect x="778.6" y="96.4" width="18.2" height="130.6" fill="url(#cbAfmV)" stroke="#000" stroke-width="1.3"/>
<text x="777.6" y="91.4" font-size="19.7" fill="#000" font-weight="normal" text-anchor="start" >90°</text>
<text x="773.0" y="252.0" font-size="19.7" fill="#000" font-weight="normal" text-anchor="start" >-90°</text>
<rect x="1173.8" y="100.2" width="17.8" height="130.6" fill="url(#cbPinkV)" stroke="#000" stroke-width="1.3"/>
<text x="1166.3" y="93.6" font-size="19.7" fill="#000" font-weight="normal" text-anchor="start" >1.2</text>
<text x="1167.2" y="253.6" font-size="19.7" fill="#000" font-weight="normal" text-anchor="start" >0.1</text>
<text x="1201.7" y="171.6" font-size="19.7" fill="#000" font-weight="normal" text-anchor="start" >a.u.</text>
<text x="82.5" y="355.3" font-size="21.0" fill="#1f1fd0" font-weight="normal" text-anchor="middle" >S</text>
<text x="152.5" y="355.3" font-size="21.0" fill="#1f1fd0" font-weight="normal" text-anchor="middle" >S</text>
<text x="223.8" y="355.3" font-size="21.0" fill="#1f1fd0" font-weight="normal" text-anchor="middle" >S</text>
<text x="281.0" y="355.3" font-size="21.0" fill="#1f1fd0" font-weight="normal" text-anchor="middle" >S</text>
<text x="344.0" y="355.3" font-size="21.0" fill="#1f1fd0" font-weight="normal" text-anchor="middle" >S</text>
<path d="M92.6 425.0 V463.2 H88.1 L94.9 475.8 L101.7 463.2 H97.2 V425.0 Z" fill="#7030a0"/>
<path d="M168.7 425.0 V463.2 H164.2 L171.0 475.8 L177.8 463.2 H173.3 V425.0 Z" fill="#7030a0"/>
<path d="M232.2 425.0 V463.2 H227.8 L234.6 475.8 L241.4 463.2 H236.9 V425.0 Z" fill="#7030a0"/>
<path d="M302.2 425.0 V463.2 H297.8 L304.6 475.8 L311.4 463.2 H307.0 V425.0 Z" fill="#7030a0"/>
<path d="M363.8 425.0 V463.2 H359.4 L366.2 475.8 L373.0 463.2 H368.6 V425.0 Z" fill="#7030a0"/>
<text x="48.0" y="458.0" font-size="21.5" fill="#7030a0" font-weight="bold" text-anchor="start" >-5 V</text>
<text x="127.8" y="458.0" font-size="21.5" fill="#7030a0" font-weight="bold" text-anchor="start" >0 V</text>
<text x="185.0" y="458.0" font-size="21.5" fill="#7030a0" font-weight="bold" text-anchor="start" >-5 V</text>
<text x="264.1" y="458.0" font-size="21.5" fill="#7030a0" font-weight="bold" text-anchor="start" >0 V</text>
<text x="319.0" y="458.0" font-size="21.5" fill="#7030a0" font-weight="bold" text-anchor="start" >-5 V</text>
<text x="80.8" y="495.7" font-size="21.5" fill="#b4141a" font-weight="normal" text-anchor="middle" >U-Q</text>
<text x="151.8" y="495.7" font-size="21.5" fill="#1f1fd0" font-weight="normal" text-anchor="middle" >S</text>
<text x="223.8" y="495.7" font-size="21.5" fill="#b4141a" font-weight="normal" text-anchor="middle" >U-Q</text>
<text x="283.1" y="495.7" font-size="21.5" fill="#1f1fd0" font-weight="normal" text-anchor="middle" >S</text>
<text x="349.2" y="495.7" font-size="21.5" fill="#b4141a" font-weight="normal" text-anchor="middle" >U-Q</text>
<rect x="134.5" y="581.4" width="72.5" height="13.6" fill="url(#cbAfmH)" stroke="#000" stroke-width="1"/>
<text x="93.0" y="595.8" font-size="19.7" fill="#000" font-weight="normal" text-anchor="start" >-90°</text>
<text x="220.0" y="595.8" font-size="19.7" fill="#000" font-weight="normal" text-anchor="start" >90°</text>
<text x="299.0" y="591.0" font-size="19.7" fill="#000" font-weight="normal" text-anchor="start" >200 nm</text>
<rect x="311.3" y="596" width="38.7" height="2.8" fill="#000"/>
<text x="468.3" y="355.3" font-size="21.0" fill="#1f1fd0" font-weight="normal" text-anchor="middle" >S</text>
<text x="536.3" y="355.3" font-size="21.0" fill="#1f1fd0" font-weight="normal" text-anchor="middle" >S</text>
<text x="605.3" y="355.3" font-size="21.0" fill="#1f1fd0" font-weight="normal" text-anchor="middle" >S</text>
<text x="672.0" y="355.3" font-size="21.0" fill="#1f1fd0" font-weight="normal" text-anchor="middle" >S</text>
<text x="733.2" y="355.3" font-size="21.0" fill="#1f1fd0" font-weight="normal" text-anchor="middle" >S</text>
<path d="M475.8 423.7 V462.4 H471.3 L478.1 475.0 L484.9 462.4 H480.5 V423.7 Z" fill="#7030a0"/>
<path d="M545.8 423.7 V462.4 H541.3 L548.1 475.0 L554.9 462.4 H550.5 V423.7 Z" fill="#7030a0"/>
<path d="M614.8 423.7 V462.4 H610.3 L617.1 475.0 L623.9 462.4 H619.5 V423.7 Z" fill="#7030a0"/>
<path d="M682.0 423.7 V462.4 H677.6 L684.4 475.0 L691.2 462.4 H686.8 V423.7 Z" fill="#7030a0"/>
<path d="M746.0 423.7 V462.4 H741.6 L748.4 475.0 L755.2 462.4 H750.8 V423.7 Z" fill="#7030a0"/>
<text x="431.2" y="456.0" font-size="21.5" fill="#7030a0" font-weight="bold" text-anchor="start" >-5 V</text>
<text x="506.2" y="456.0" font-size="21.5" fill="#7030a0" font-weight="bold" text-anchor="start" >0 V</text>
<text x="567.5" y="456.0" font-size="21.5" fill="#7030a0" font-weight="bold" text-anchor="start" >-5 V</text>
<text x="644.2" y="456.0" font-size="21.5" fill="#7030a0" font-weight="bold" text-anchor="start" >0 V</text>
<text x="701.2" y="456.0" font-size="21.5" fill="#7030a0" font-weight="bold" text-anchor="start" >-5 V</text>
<text x="462.4" y="496.8" font-size="21.5" fill="#b4141a" font-weight="normal" text-anchor="middle" >U-Q</text>
<text x="531.6" y="496.8" font-size="21.5" fill="#1f1fd0" font-weight="normal" text-anchor="middle" >S</text>
<text x="606.2" y="496.8" font-size="21.5" fill="#b4141a" font-weight="normal" text-anchor="middle" >U-Q</text>
<text x="670.1" y="496.8" font-size="21.5" fill="#1f1fd0" font-weight="normal" text-anchor="middle" >S</text>
<text x="736.0" y="496.8" font-size="21.5" fill="#b4141a" font-weight="normal" text-anchor="middle" >U-Q</text>
<rect x="499" y="582.3" width="74" height="13.6" fill="url(#cbPinkH)" stroke="#999" stroke-width="0.8"/>
<text x="451.5" y="595.3" font-size="19.7" fill="#000" font-weight="normal" text-anchor="start" >-0.7</text>
<text x="589.0" y="595.3" font-size="19.7" fill="#000" font-weight="normal" text-anchor="start" >5.7 (a.u.)</text>
<text x="689.5" y="592.0" font-size="19.7" fill="#000" font-weight="normal" text-anchor="start" >200 nm</text>
<rect x="701.2" y="596.7" width="38.1" height="2.8" fill="#000"/>
<text x="881.5" y="405.8" font-size="21.0" fill="#1f1fd0" font-weight="normal" text-anchor="middle" >S</text>
<text x="945.4" y="405.2" font-size="21.0" fill="#1f1fd0" font-weight="normal" text-anchor="middle" >S</text>
<text x="1004.6" y="405.8" font-size="21.0" fill="#1f1fd0" font-weight="normal" text-anchor="middle" >S</text>
<text x="1066.7" y="405.8" font-size="21.0" fill="#1f1fd0" font-weight="normal" text-anchor="middle" >S</text>
<text x="1123.0" y="404.2" font-size="21.0" fill="#1f1fd0" font-weight="normal" text-anchor="middle" >S</text>
<path d="M895.6 418.7 V459.9 H891.2 L898.0 472.5 L904.8 459.9 H900.4 V418.7 Z" fill="#7030a0"/>
<path d="M956.6 418.7 V459.9 H952.2 L959.0 472.5 L965.8 459.9 H961.4 V418.7 Z" fill="#7030a0"/>
<path d="M1022.6 418.7 V459.9 H1018.2 L1025.0 472.5 L1031.8 459.9 H1027.3 V418.7 Z" fill="#7030a0"/>
<path d="M1082.2 418.7 V459.9 H1077.8 L1084.6 472.5 L1091.4 459.9 H1086.9 V418.7 Z" fill="#7030a0"/>
<path d="M1143.4 418.7 V459.9 H1138.9 L1145.7 472.5 L1152.5 459.9 H1148.0 V418.7 Z" fill="#7030a0"/>
<text x="844.0" y="457.8" font-size="21.5" fill="#7030a0" font-weight="bold" text-anchor="start" >-5 V</text>
<text x="914.8" y="458.5" font-size="21.5" fill="#7030a0" font-weight="bold" text-anchor="start" >0 V</text>
<text x="970.4" y="457.8" font-size="21.5" fill="#7030a0" font-weight="bold" text-anchor="start" >-5 V</text>
<text x="1038.0" y="454.2" font-size="21.5" fill="#7030a0" font-weight="bold" text-anchor="start" >0 V</text>
<text x="1094.2" y="457.8" font-size="21.5" fill="#7030a0" font-weight="bold" text-anchor="start" >-5 V</text>
<text x="876.2" y="556.3" font-size="21.5" fill="#b4141a" font-weight="normal" text-anchor="middle" >U-Q</text>
<text x="941.4" y="556.3" font-size="21.5" fill="#1f1fd0" font-weight="normal" text-anchor="middle" >S</text>
<text x="1004.1" y="556.3" font-size="21.5" fill="#b4141a" font-weight="normal" text-anchor="middle" >U-Q</text>
<text x="1068.8" y="556.3" font-size="21.5" fill="#1f1fd0" font-weight="normal" text-anchor="middle" >S</text>
<text x="1124.8" y="556.3" font-size="21.5" fill="#b4141a" font-weight="normal" text-anchor="middle" >U-Q</text>
<text x="1000.6" y="621.2" font-size="19.7" fill="#000" font-weight="normal" text-anchor="middle" >Distance (nm)</text>
<text transform="translate(819.2,454.5) rotate(-90)" font-size="18.3" text-anchor="middle">Absorption (a.u.)</text>
<text x="850.3" y="593.5" font-size="13.2" fill="#222" font-weight="normal" text-anchor="middle" >0.0</text>
<text x="887.3" y="593.5" font-size="13.2" fill="#222" font-weight="normal" text-anchor="middle" >0.2</text>
<text x="924.3" y="593.5" font-size="13.2" fill="#222" font-weight="normal" text-anchor="middle" >0.4</text>
<text x="961.3" y="593.5" font-size="13.2" fill="#222" font-weight="normal" text-anchor="middle" >0.6</text>
<text x="998.3" y="593.5" font-size="13.2" fill="#222" font-weight="normal" text-anchor="middle" >0.8</text>
<text x="1035.3" y="593.5" font-size="13.2" fill="#222" font-weight="normal" text-anchor="middle" >1.0</text>
<text x="1072.3" y="593.5" font-size="13.2" fill="#222" font-weight="normal" text-anchor="middle" >1.2</text>
<text x="1109.3" y="593.5" font-size="13.2" fill="#222" font-weight="normal" text-anchor="middle" >1.4</text>
<text x="1146.3" y="593.5" font-size="13.2" fill="#222" font-weight="normal" text-anchor="middle" >1.6</text>
<rect x="521" y="869" width="75.5" height="12.8" fill="url(#cbAfmH)" stroke="#000" stroke-width="1"/>
<text x="434.5" y="885.0" font-size="19.7" fill="#000" font-weight="normal" text-anchor="start" >-25.6 nm</text>
<text x="603.5" y="883.6" font-size="19.7" fill="#000" font-weight="normal" text-anchor="start" >24.5 nm</text>
<text x="697.2" y="880.6" font-size="19.7" fill="#000" font-weight="normal" text-anchor="start" >200 nm</text>
<rect x="712.4" y="882.2" width="20.2" height="2.8" fill="#000"/>
<rect x="896.7" y="867.4" width="76.5" height="14" fill="url(#cbHotH)" stroke="#333" stroke-width="0.9"/>
<text x="853.2" y="882.4" font-size="19.7" fill="#000" font-weight="normal" text-anchor="start" >-0.8</text>
<text x="981.6" y="882.4" font-size="19.7" fill="#000" font-weight="normal" text-anchor="start" >9.2 (a.u.)</text>
<text x="1100.8" y="880.6" font-size="19.7" fill="#000" font-weight="normal" text-anchor="start" >200 nm</text>
<rect x="1117" y="882.2" width="20.2" height="2.8" fill="#000"/>
</svg>
</body></html>
